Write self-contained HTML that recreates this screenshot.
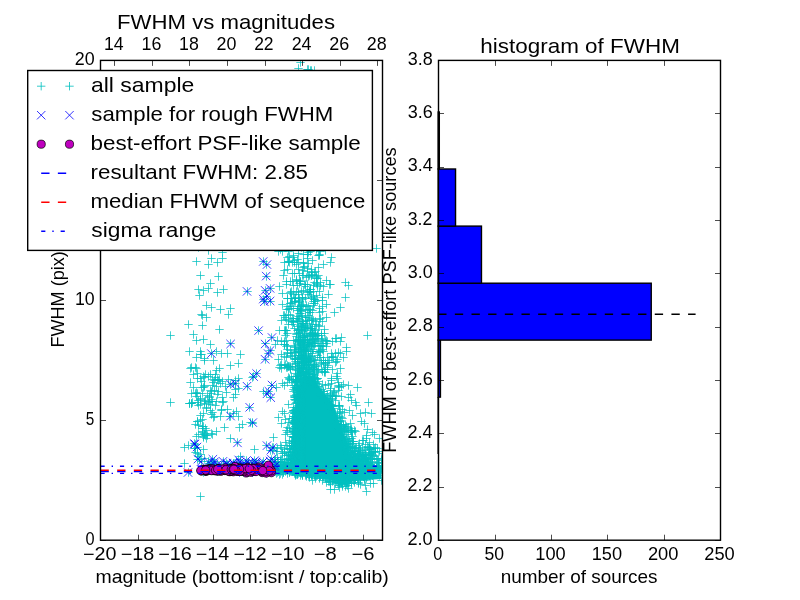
<!DOCTYPE html>
<html><head><meta charset="utf-8"><title>FWHM vs magnitudes</title>
<style>html,body{margin:0;padding:0;background:#fff;width:800px;height:600px;overflow:hidden}</style></head>
<body>
<svg width="800" height="600" viewBox="0 0 800 600" style="position:absolute;left:0;top:0;font-family:'Liberation Sans',sans-serif">
<rect width="800" height="600" fill="#fff"/>
<defs><clipPath id="c1"><rect x="100.5" y="60.4" width="282" height="479.8"/></clipPath></defs>
<g clip-path="url(#c1)">
<path d="M297 475V392L304 376H313L321 390L333 404L341 426L348 446L352 462L381 466V479L352 481L336 481L326 476Z" fill="#00bfbf"/>
<path d="M356.3 449.5h8.4m-4.2 -4.2v8.4M350.3 451.5h8.4m-4.2 -4.2v8.4M340.3 412.5h8.4m-4.2 -4.2v8.4M295.3 449.5h8.4m-4.2 -4.2v8.4M354.3 464.5h8.4m-4.2 -4.2v8.4M346.3 460.5h8.4m-4.2 -4.2v8.4M295.3 438.5h8.4m-4.2 -4.2v8.4M320.3 371.5h8.4m-4.2 -4.2v8.4M297.3 393.5h8.4m-4.2 -4.2v8.4M291.3 446.5h8.4m-4.2 -4.2v8.4M295.3 399.5h8.4m-4.2 -4.2v8.4M353.3 476.5h8.4m-4.2 -4.2v8.4M297.3 461.5h8.4m-4.2 -4.2v8.4M311.3 321.5h8.4m-4.2 -4.2v8.4M288.3 418.5h8.4m-4.2 -4.2v8.4M293.3 469.5h8.4m-4.2 -4.2v8.4M296.3 468.5h8.4m-4.2 -4.2v8.4M294.3 451.5h8.4m-4.2 -4.2v8.4M338.3 409.5h8.4m-4.2 -4.2v8.4M315.3 392.5h8.4m-4.2 -4.2v8.4M316.3 472.5h8.4m-4.2 -4.2v8.4M341.3 451.5h8.4m-4.2 -4.2v8.4M323.3 402.5h8.4m-4.2 -4.2v8.4M296.3 386.5h8.4m-4.2 -4.2v8.4M292.3 448.5h8.4m-4.2 -4.2v8.4M294.3 292.5h8.4m-4.2 -4.2v8.4M292.3 426.5h8.4m-4.2 -4.2v8.4M297.3 399.5h8.4m-4.2 -4.2v8.4M290.3 458.5h8.4m-4.2 -4.2v8.4M349.3 466.5h8.4m-4.2 -4.2v8.4M305.3 473.5h8.4m-4.2 -4.2v8.4M292.3 464.5h8.4m-4.2 -4.2v8.4M348.3 446.5h8.4m-4.2 -4.2v8.4M295.3 456.5h8.4m-4.2 -4.2v8.4M297.3 458.5h8.4m-4.2 -4.2v8.4M373.3 448.5h8.4m-4.2 -4.2v8.4M296.3 448.5h8.4m-4.2 -4.2v8.4M337.3 439.5h8.4m-4.2 -4.2v8.4M319.3 360.5h8.4m-4.2 -4.2v8.4M294.3 428.5h8.4m-4.2 -4.2v8.4M299.3 262.5h8.4m-4.2 -4.2v8.4M298.3 475.5h8.4m-4.2 -4.2v8.4M327.3 399.5h8.4m-4.2 -4.2v8.4M297.3 429.5h8.4m-4.2 -4.2v8.4M328.3 395.5h8.4m-4.2 -4.2v8.4M341.3 424.5h8.4m-4.2 -4.2v8.4M297.3 437.5h8.4m-4.2 -4.2v8.4M294.3 455.5h8.4m-4.2 -4.2v8.4M341.3 454.5h8.4m-4.2 -4.2v8.4M296.3 453.5h8.4m-4.2 -4.2v8.4M295.3 433.5h8.4m-4.2 -4.2v8.4M295.3 420.5h8.4m-4.2 -4.2v8.4M293.3 396.5h8.4m-4.2 -4.2v8.4M309.3 369.5h8.4m-4.2 -4.2v8.4M309.3 378.5h8.4m-4.2 -4.2v8.4M294.3 410.5h8.4m-4.2 -4.2v8.4M297.3 391.5h8.4m-4.2 -4.2v8.4M295.3 435.5h8.4m-4.2 -4.2v8.4M353.3 463.5h8.4m-4.2 -4.2v8.4M354.3 456.5h8.4m-4.2 -4.2v8.4M372.3 458.5h8.4m-4.2 -4.2v8.4M293.3 341.5h8.4m-4.2 -4.2v8.4M289.3 451.5h8.4m-4.2 -4.2v8.4M352.3 405.5h8.4m-4.2 -4.2v8.4M292.3 421.5h8.4m-4.2 -4.2v8.4M298.3 471.5h8.4m-4.2 -4.2v8.4M294.3 452.5h8.4m-4.2 -4.2v8.4M360.3 457.5h8.4m-4.2 -4.2v8.4M297.3 451.5h8.4m-4.2 -4.2v8.4M341.3 430.5h8.4m-4.2 -4.2v8.4M294.3 463.5h8.4m-4.2 -4.2v8.4M350.3 451.5h8.4m-4.2 -4.2v8.4M296.3 472.5h8.4m-4.2 -4.2v8.4M296.3 462.5h8.4m-4.2 -4.2v8.4M353.3 460.5h8.4m-4.2 -4.2v8.4M349.3 458.5h8.4m-4.2 -4.2v8.4M368.3 462.5h8.4m-4.2 -4.2v8.4M314.3 473.5h8.4m-4.2 -4.2v8.4M376.3 469.5h8.4m-4.2 -4.2v8.4M290.3 437.5h8.4m-4.2 -4.2v8.4M296.3 429.5h8.4m-4.2 -4.2v8.4M295.3 432.5h8.4m-4.2 -4.2v8.4M293.3 464.5h8.4m-4.2 -4.2v8.4M295.3 446.5h8.4m-4.2 -4.2v8.4M291.3 359.5h8.4m-4.2 -4.2v8.4M303.3 361.5h8.4m-4.2 -4.2v8.4M295.3 463.5h8.4m-4.2 -4.2v8.4M292.3 455.5h8.4m-4.2 -4.2v8.4M291.3 461.5h8.4m-4.2 -4.2v8.4M320.3 369.5h8.4m-4.2 -4.2v8.4M295.3 417.5h8.4m-4.2 -4.2v8.4M291.3 382.5h8.4m-4.2 -4.2v8.4M296.3 411.5h8.4m-4.2 -4.2v8.4M360.3 458.5h8.4m-4.2 -4.2v8.4M325.3 481.5h8.4m-4.2 -4.2v8.4M289.3 466.5h8.4m-4.2 -4.2v8.4M297.3 441.5h8.4m-4.2 -4.2v8.4M293.3 474.5h8.4m-4.2 -4.2v8.4M324.3 405.5h8.4m-4.2 -4.2v8.4M294.3 339.5h8.4m-4.2 -4.2v8.4M352.3 463.5h8.4m-4.2 -4.2v8.4M292.3 455.5h8.4m-4.2 -4.2v8.4M295.3 421.5h8.4m-4.2 -4.2v8.4M295.3 439.5h8.4m-4.2 -4.2v8.4M316.3 394.5h8.4m-4.2 -4.2v8.4M295.3 445.5h8.4m-4.2 -4.2v8.4M376.3 471.5h8.4m-4.2 -4.2v8.4M297.3 450.5h8.4m-4.2 -4.2v8.4M351.3 478.5h8.4m-4.2 -4.2v8.4M293.3 379.5h8.4m-4.2 -4.2v8.4M294.3 376.5h8.4m-4.2 -4.2v8.4M296.3 469.5h8.4m-4.2 -4.2v8.4M296.3 453.5h8.4m-4.2 -4.2v8.4M332.3 421.5h8.4m-4.2 -4.2v8.4M297.3 443.5h8.4m-4.2 -4.2v8.4M378.3 466.5h8.4m-4.2 -4.2v8.4M291.3 441.5h8.4m-4.2 -4.2v8.4M358.3 467.5h8.4m-4.2 -4.2v8.4M319.3 474.5h8.4m-4.2 -4.2v8.4M313.3 372.5h8.4m-4.2 -4.2v8.4M378.3 465.5h8.4m-4.2 -4.2v8.4M359.3 476.5h8.4m-4.2 -4.2v8.4M298.3 470.5h8.4m-4.2 -4.2v8.4M291.3 297.5h8.4m-4.2 -4.2v8.4M296.3 467.5h8.4m-4.2 -4.2v8.4M291.3 433.5h8.4m-4.2 -4.2v8.4M305.3 474.5h8.4m-4.2 -4.2v8.4M294.3 433.5h8.4m-4.2 -4.2v8.4M300.3 471.5h8.4m-4.2 -4.2v8.4M352.3 459.5h8.4m-4.2 -4.2v8.4M351.3 454.5h8.4m-4.2 -4.2v8.4M302.3 325.5h8.4m-4.2 -4.2v8.4M292.3 453.5h8.4m-4.2 -4.2v8.4M303.3 254.5h8.4m-4.2 -4.2v8.4M296.3 452.5h8.4m-4.2 -4.2v8.4M294.3 430.5h8.4m-4.2 -4.2v8.4M317.3 389.5h8.4m-4.2 -4.2v8.4M351.3 402.5h8.4m-4.2 -4.2v8.4M297.3 452.5h8.4m-4.2 -4.2v8.4M291.3 379.5h8.4m-4.2 -4.2v8.4M337.3 439.5h8.4m-4.2 -4.2v8.4M297.3 358.5h8.4m-4.2 -4.2v8.4M293.3 468.5h8.4m-4.2 -4.2v8.4M306.3 328.5h8.4m-4.2 -4.2v8.4M293.3 474.5h8.4m-4.2 -4.2v8.4M325.3 401.5h8.4m-4.2 -4.2v8.4M289.3 416.5h8.4m-4.2 -4.2v8.4M311.3 473.5h8.4m-4.2 -4.2v8.4M363.3 464.5h8.4m-4.2 -4.2v8.4M296.3 455.5h8.4m-4.2 -4.2v8.4M295.3 366.5h8.4m-4.2 -4.2v8.4M296.3 452.5h8.4m-4.2 -4.2v8.4M359.3 465.5h8.4m-4.2 -4.2v8.4M291.3 373.5h8.4m-4.2 -4.2v8.4M295.3 442.5h8.4m-4.2 -4.2v8.4M365.3 447.5h8.4m-4.2 -4.2v8.4M321.3 372.5h8.4m-4.2 -4.2v8.4M296.3 457.5h8.4m-4.2 -4.2v8.4M311.3 475.5h8.4m-4.2 -4.2v8.4M293.3 460.5h8.4m-4.2 -4.2v8.4M328.3 406.5h8.4m-4.2 -4.2v8.4M348.3 459.5h8.4m-4.2 -4.2v8.4M295.3 441.5h8.4m-4.2 -4.2v8.4M296.3 440.5h8.4m-4.2 -4.2v8.4M342.3 432.5h8.4m-4.2 -4.2v8.4M295.3 469.5h8.4m-4.2 -4.2v8.4M295.3 446.5h8.4m-4.2 -4.2v8.4M302.3 374.5h8.4m-4.2 -4.2v8.4M340.3 431.5h8.4m-4.2 -4.2v8.4M370.3 434.5h8.4m-4.2 -4.2v8.4M296.3 460.5h8.4m-4.2 -4.2v8.4M365.3 475.5h8.4m-4.2 -4.2v8.4M293.3 471.5h8.4m-4.2 -4.2v8.4M328.3 414.5h8.4m-4.2 -4.2v8.4M341.3 447.5h8.4m-4.2 -4.2v8.4M315.3 471.5h8.4m-4.2 -4.2v8.4M297.3 352.5h8.4m-4.2 -4.2v8.4M296.3 426.5h8.4m-4.2 -4.2v8.4M318.3 371.5h8.4m-4.2 -4.2v8.4M297.3 416.5h8.4m-4.2 -4.2v8.4M327.3 378.5h8.4m-4.2 -4.2v8.4M296.3 396.5h8.4m-4.2 -4.2v8.4M294.3 457.5h8.4m-4.2 -4.2v8.4M297.3 463.5h8.4m-4.2 -4.2v8.4M296.3 468.5h8.4m-4.2 -4.2v8.4M354.3 460.5h8.4m-4.2 -4.2v8.4M296.3 445.5h8.4m-4.2 -4.2v8.4M293.3 466.5h8.4m-4.2 -4.2v8.4M296.3 449.5h8.4m-4.2 -4.2v8.4M293.3 466.5h8.4m-4.2 -4.2v8.4M297.3 459.5h8.4m-4.2 -4.2v8.4M291.3 417.5h8.4m-4.2 -4.2v8.4M291.3 442.5h8.4m-4.2 -4.2v8.4M291.3 457.5h8.4m-4.2 -4.2v8.4M292.3 428.5h8.4m-4.2 -4.2v8.4M297.3 363.5h8.4m-4.2 -4.2v8.4M292.3 449.5h8.4m-4.2 -4.2v8.4M294.3 452.5h8.4m-4.2 -4.2v8.4M347.3 428.5h8.4m-4.2 -4.2v8.4M297.3 471.5h8.4m-4.2 -4.2v8.4M294.3 455.5h8.4m-4.2 -4.2v8.4M299.3 372.5h8.4m-4.2 -4.2v8.4M354.3 465.5h8.4m-4.2 -4.2v8.4M289.3 389.5h8.4m-4.2 -4.2v8.4M296.3 455.5h8.4m-4.2 -4.2v8.4M295.3 444.5h8.4m-4.2 -4.2v8.4M346.3 462.5h8.4m-4.2 -4.2v8.4M297.3 440.5h8.4m-4.2 -4.2v8.4M296.3 465.5h8.4m-4.2 -4.2v8.4M301.3 329.5h8.4m-4.2 -4.2v8.4M296.3 466.5h8.4m-4.2 -4.2v8.4M292.3 429.5h8.4m-4.2 -4.2v8.4M290.3 436.5h8.4m-4.2 -4.2v8.4M334.3 352.5h8.4m-4.2 -4.2v8.4M289.3 456.5h8.4m-4.2 -4.2v8.4M293.3 411.5h8.4m-4.2 -4.2v8.4M293.3 385.5h8.4m-4.2 -4.2v8.4M301.3 361.5h8.4m-4.2 -4.2v8.4M327.3 405.5h8.4m-4.2 -4.2v8.4M316.3 475.5h8.4m-4.2 -4.2v8.4M289.3 436.5h8.4m-4.2 -4.2v8.4M297.3 467.5h8.4m-4.2 -4.2v8.4M297.3 306.5h8.4m-4.2 -4.2v8.4M310.3 366.5h8.4m-4.2 -4.2v8.4M296.3 451.5h8.4m-4.2 -4.2v8.4M327.3 476.5h8.4m-4.2 -4.2v8.4M326.3 393.5h8.4m-4.2 -4.2v8.4M378.3 453.5h8.4m-4.2 -4.2v8.4M297.3 460.5h8.4m-4.2 -4.2v8.4M294.3 451.5h8.4m-4.2 -4.2v8.4M368.3 459.5h8.4m-4.2 -4.2v8.4M316.3 390.5h8.4m-4.2 -4.2v8.4M307.3 474.5h8.4m-4.2 -4.2v8.4M339.3 426.5h8.4m-4.2 -4.2v8.4M362.3 458.5h8.4m-4.2 -4.2v8.4M340.3 444.5h8.4m-4.2 -4.2v8.4M290.3 423.5h8.4m-4.2 -4.2v8.4M320.3 475.5h8.4m-4.2 -4.2v8.4M296.3 444.5h8.4m-4.2 -4.2v8.4M358.3 447.5h8.4m-4.2 -4.2v8.4M295.3 371.5h8.4m-4.2 -4.2v8.4M303.3 473.5h8.4m-4.2 -4.2v8.4M296.3 475.5h8.4m-4.2 -4.2v8.4M293.3 444.5h8.4m-4.2 -4.2v8.4M323.3 472.5h8.4m-4.2 -4.2v8.4M296.3 425.5h8.4m-4.2 -4.2v8.4M302.3 362.5h8.4m-4.2 -4.2v8.4M292.3 458.5h8.4m-4.2 -4.2v8.4M319.3 471.5h8.4m-4.2 -4.2v8.4M294.3 443.5h8.4m-4.2 -4.2v8.4M299.3 379.5h8.4m-4.2 -4.2v8.4M372.3 467.5h8.4m-4.2 -4.2v8.4M293.3 444.5h8.4m-4.2 -4.2v8.4M293.3 472.5h8.4m-4.2 -4.2v8.4M339.3 425.5h8.4m-4.2 -4.2v8.4M296.3 450.5h8.4m-4.2 -4.2v8.4M295.3 469.5h8.4m-4.2 -4.2v8.4M315.3 392.5h8.4m-4.2 -4.2v8.4M297.3 457.5h8.4m-4.2 -4.2v8.4M332.3 395.5h8.4m-4.2 -4.2v8.4M369.3 467.5h8.4m-4.2 -4.2v8.4M297.3 468.5h8.4m-4.2 -4.2v8.4M292.3 422.5h8.4m-4.2 -4.2v8.4M291.3 472.5h8.4m-4.2 -4.2v8.4M291.3 456.5h8.4m-4.2 -4.2v8.4M294.3 460.5h8.4m-4.2 -4.2v8.4M307.3 472.5h8.4m-4.2 -4.2v8.4M290.3 457.5h8.4m-4.2 -4.2v8.4M338.3 436.5h8.4m-4.2 -4.2v8.4M295.3 435.5h8.4m-4.2 -4.2v8.4M366.3 475.5h8.4m-4.2 -4.2v8.4M291.3 445.5h8.4m-4.2 -4.2v8.4M293.3 452.5h8.4m-4.2 -4.2v8.4M297.3 467.5h8.4m-4.2 -4.2v8.4M345.3 462.5h8.4m-4.2 -4.2v8.4M361.3 485.5h8.4m-4.2 -4.2v8.4M289.3 411.5h8.4m-4.2 -4.2v8.4M370.3 467.5h8.4m-4.2 -4.2v8.4M324.3 472.5h8.4m-4.2 -4.2v8.4M290.3 461.5h8.4m-4.2 -4.2v8.4M290.3 467.5h8.4m-4.2 -4.2v8.4M358.3 461.5h8.4m-4.2 -4.2v8.4M307.3 471.5h8.4m-4.2 -4.2v8.4M322.3 397.5h8.4m-4.2 -4.2v8.4M349.3 480.5h8.4m-4.2 -4.2v8.4M361.3 464.5h8.4m-4.2 -4.2v8.4M291.3 440.5h8.4m-4.2 -4.2v8.4M293.3 420.5h8.4m-4.2 -4.2v8.4M308.3 381.5h8.4m-4.2 -4.2v8.4M302.3 471.5h8.4m-4.2 -4.2v8.4M324.3 401.5h8.4m-4.2 -4.2v8.4M347.3 431.5h8.4m-4.2 -4.2v8.4M303.3 271.5h8.4m-4.2 -4.2v8.4M294.3 410.5h8.4m-4.2 -4.2v8.4M309.3 360.5h8.4m-4.2 -4.2v8.4M290.3 410.5h8.4m-4.2 -4.2v8.4M294.3 339.5h8.4m-4.2 -4.2v8.4M297.3 449.5h8.4m-4.2 -4.2v8.4M355.3 443.5h8.4m-4.2 -4.2v8.4M295.3 460.5h8.4m-4.2 -4.2v8.4M352.3 447.5h8.4m-4.2 -4.2v8.4M328.3 406.5h8.4m-4.2 -4.2v8.4M364.3 447.5h8.4m-4.2 -4.2v8.4M331.3 418.5h8.4m-4.2 -4.2v8.4M296.3 310.5h8.4m-4.2 -4.2v8.4M295.3 428.5h8.4m-4.2 -4.2v8.4M294.3 455.5h8.4m-4.2 -4.2v8.4M290.3 421.5h8.4m-4.2 -4.2v8.4M293.3 472.5h8.4m-4.2 -4.2v8.4M324.3 384.5h8.4m-4.2 -4.2v8.4M368.3 458.5h8.4m-4.2 -4.2v8.4M311.3 473.5h8.4m-4.2 -4.2v8.4M371.3 447.5h8.4m-4.2 -4.2v8.4M305.3 477.5h8.4m-4.2 -4.2v8.4M291.3 445.5h8.4m-4.2 -4.2v8.4M291.3 438.5h8.4m-4.2 -4.2v8.4M355.3 459.5h8.4m-4.2 -4.2v8.4M292.3 468.5h8.4m-4.2 -4.2v8.4M297.3 462.5h8.4m-4.2 -4.2v8.4M348.3 464.5h8.4m-4.2 -4.2v8.4M295.3 438.5h8.4m-4.2 -4.2v8.4M295.3 463.5h8.4m-4.2 -4.2v8.4M295.3 460.5h8.4m-4.2 -4.2v8.4M304.3 380.5h8.4m-4.2 -4.2v8.4M290.3 464.5h8.4m-4.2 -4.2v8.4M301.3 382.5h8.4m-4.2 -4.2v8.4M291.3 358.5h8.4m-4.2 -4.2v8.4M294.3 418.5h8.4m-4.2 -4.2v8.4M292.3 464.5h8.4m-4.2 -4.2v8.4M319.3 391.5h8.4m-4.2 -4.2v8.4M293.3 427.5h8.4m-4.2 -4.2v8.4M310.3 471.5h8.4m-4.2 -4.2v8.4M339.3 443.5h8.4m-4.2 -4.2v8.4M305.3 475.5h8.4m-4.2 -4.2v8.4M337.3 417.5h8.4m-4.2 -4.2v8.4M289.3 340.5h8.4m-4.2 -4.2v8.4M296.3 440.5h8.4m-4.2 -4.2v8.4M295.3 471.5h8.4m-4.2 -4.2v8.4M294.3 442.5h8.4m-4.2 -4.2v8.4M293.3 472.5h8.4m-4.2 -4.2v8.4M337.3 477.5h8.4m-4.2 -4.2v8.4M312.3 295.5h8.4m-4.2 -4.2v8.4M297.3 355.5h8.4m-4.2 -4.2v8.4M291.3 410.5h8.4m-4.2 -4.2v8.4M343.3 461.5h8.4m-4.2 -4.2v8.4M297.3 432.5h8.4m-4.2 -4.2v8.4M294.3 421.5h8.4m-4.2 -4.2v8.4M293.3 443.5h8.4m-4.2 -4.2v8.4M325.3 360.5h8.4m-4.2 -4.2v8.4M300.3 377.5h8.4m-4.2 -4.2v8.4M294.3 453.5h8.4m-4.2 -4.2v8.4M290.3 471.5h8.4m-4.2 -4.2v8.4M308.3 333.5h8.4m-4.2 -4.2v8.4M331.3 421.5h8.4m-4.2 -4.2v8.4M292.3 465.5h8.4m-4.2 -4.2v8.4M333.3 479.5h8.4m-4.2 -4.2v8.4M297.3 429.5h8.4m-4.2 -4.2v8.4M339.3 437.5h8.4m-4.2 -4.2v8.4M291.3 439.5h8.4m-4.2 -4.2v8.4M329.3 408.5h8.4m-4.2 -4.2v8.4M294.3 468.5h8.4m-4.2 -4.2v8.4M350.3 459.5h8.4m-4.2 -4.2v8.4M310.3 470.5h8.4m-4.2 -4.2v8.4M296.3 468.5h8.4m-4.2 -4.2v8.4M304.3 471.5h8.4m-4.2 -4.2v8.4M297.3 372.5h8.4m-4.2 -4.2v8.4M305.3 376.5h8.4m-4.2 -4.2v8.4M307.3 473.5h8.4m-4.2 -4.2v8.4M350.3 456.5h8.4m-4.2 -4.2v8.4M306.3 470.5h8.4m-4.2 -4.2v8.4M292.3 412.5h8.4m-4.2 -4.2v8.4M346.3 446.5h8.4m-4.2 -4.2v8.4M318.3 476.5h8.4m-4.2 -4.2v8.4M312.3 472.5h8.4m-4.2 -4.2v8.4M292.3 427.5h8.4m-4.2 -4.2v8.4M293.3 452.5h8.4m-4.2 -4.2v8.4M308.3 471.5h8.4m-4.2 -4.2v8.4M338.3 431.5h8.4m-4.2 -4.2v8.4M339.3 444.5h8.4m-4.2 -4.2v8.4M307.3 330.5h8.4m-4.2 -4.2v8.4M321.3 474.5h8.4m-4.2 -4.2v8.4M365.3 475.5h8.4m-4.2 -4.2v8.4M293.3 453.5h8.4m-4.2 -4.2v8.4M294.3 434.5h8.4m-4.2 -4.2v8.4M291.3 436.5h8.4m-4.2 -4.2v8.4M292.3 411.5h8.4m-4.2 -4.2v8.4M297.3 463.5h8.4m-4.2 -4.2v8.4M291.3 457.5h8.4m-4.2 -4.2v8.4M328.3 481.5h8.4m-4.2 -4.2v8.4M295.3 398.5h8.4m-4.2 -4.2v8.4M326.3 390.5h8.4m-4.2 -4.2v8.4M368.3 475.5h8.4m-4.2 -4.2v8.4M324.3 472.5h8.4m-4.2 -4.2v8.4M292.3 466.5h8.4m-4.2 -4.2v8.4M292.3 419.5h8.4m-4.2 -4.2v8.4M377.3 469.5h8.4m-4.2 -4.2v8.4M297.3 353.5h8.4m-4.2 -4.2v8.4M294.3 352.5h8.4m-4.2 -4.2v8.4M297.3 426.5h8.4m-4.2 -4.2v8.4M309.3 472.5h8.4m-4.2 -4.2v8.4M291.3 466.5h8.4m-4.2 -4.2v8.4M342.3 476.5h8.4m-4.2 -4.2v8.4M293.3 370.5h8.4m-4.2 -4.2v8.4M297.3 402.5h8.4m-4.2 -4.2v8.4M297.3 455.5h8.4m-4.2 -4.2v8.4M299.3 323.5h8.4m-4.2 -4.2v8.4M326.3 394.5h8.4m-4.2 -4.2v8.4M310.3 474.5h8.4m-4.2 -4.2v8.4M297.3 446.5h8.4m-4.2 -4.2v8.4M297.3 468.5h8.4m-4.2 -4.2v8.4M292.3 445.5h8.4m-4.2 -4.2v8.4M296.3 440.5h8.4m-4.2 -4.2v8.4M348.3 432.5h8.4m-4.2 -4.2v8.4M346.3 394.5h8.4m-4.2 -4.2v8.4M296.3 372.5h8.4m-4.2 -4.2v8.4M310.3 374.5h8.4m-4.2 -4.2v8.4M365.3 449.5h8.4m-4.2 -4.2v8.4M291.3 403.5h8.4m-4.2 -4.2v8.4M344.3 452.5h8.4m-4.2 -4.2v8.4M374.3 467.5h8.4m-4.2 -4.2v8.4M331.3 413.5h8.4m-4.2 -4.2v8.4M297.3 440.5h8.4m-4.2 -4.2v8.4M293.3 472.5h8.4m-4.2 -4.2v8.4M358.3 455.5h8.4m-4.2 -4.2v8.4M333.3 373.5h8.4m-4.2 -4.2v8.4M300.3 471.5h8.4m-4.2 -4.2v8.4M291.3 460.5h8.4m-4.2 -4.2v8.4M344.3 443.5h8.4m-4.2 -4.2v8.4M297.3 462.5h8.4m-4.2 -4.2v8.4M294.3 453.5h8.4m-4.2 -4.2v8.4M375.3 475.5h8.4m-4.2 -4.2v8.4M293.3 444.5h8.4m-4.2 -4.2v8.4M352.3 463.5h8.4m-4.2 -4.2v8.4M297.3 466.5h8.4m-4.2 -4.2v8.4M297.3 434.5h8.4m-4.2 -4.2v8.4M355.3 455.5h8.4m-4.2 -4.2v8.4M297.3 455.5h8.4m-4.2 -4.2v8.4M296.3 455.5h8.4m-4.2 -4.2v8.4M293.3 399.5h8.4m-4.2 -4.2v8.4M298.3 297.5h8.4m-4.2 -4.2v8.4M340.3 428.5h8.4m-4.2 -4.2v8.4M297.3 461.5h8.4m-4.2 -4.2v8.4M299.3 470.5h8.4m-4.2 -4.2v8.4M316.3 357.5h8.4m-4.2 -4.2v8.4M293.3 442.5h8.4m-4.2 -4.2v8.4M293.3 397.5h8.4m-4.2 -4.2v8.4M299.3 346.5h8.4m-4.2 -4.2v8.4M299.3 355.5h8.4m-4.2 -4.2v8.4M293.3 386.5h8.4m-4.2 -4.2v8.4M290.3 413.5h8.4m-4.2 -4.2v8.4M295.3 412.5h8.4m-4.2 -4.2v8.4M295.3 419.5h8.4m-4.2 -4.2v8.4M341.3 455.5h8.4m-4.2 -4.2v8.4M293.3 411.5h8.4m-4.2 -4.2v8.4M339.3 444.5h8.4m-4.2 -4.2v8.4M342.3 447.5h8.4m-4.2 -4.2v8.4M354.3 465.5h8.4m-4.2 -4.2v8.4M293.3 398.5h8.4m-4.2 -4.2v8.4M337.3 424.5h8.4m-4.2 -4.2v8.4M375.3 438.5h8.4m-4.2 -4.2v8.4M294.3 460.5h8.4m-4.2 -4.2v8.4M341.3 456.5h8.4m-4.2 -4.2v8.4M298.3 475.5h8.4m-4.2 -4.2v8.4M295.3 361.5h8.4m-4.2 -4.2v8.4M290.3 437.5h8.4m-4.2 -4.2v8.4M345.3 440.5h8.4m-4.2 -4.2v8.4M294.3 351.5h8.4m-4.2 -4.2v8.4M307.3 471.5h8.4m-4.2 -4.2v8.4M337.3 425.5h8.4m-4.2 -4.2v8.4M300.3 349.5h8.4m-4.2 -4.2v8.4M295.3 411.5h8.4m-4.2 -4.2v8.4M300.3 385.5h8.4m-4.2 -4.2v8.4M295.3 465.5h8.4m-4.2 -4.2v8.4M344.3 385.5h8.4m-4.2 -4.2v8.4M356.3 463.5h8.4m-4.2 -4.2v8.4M294.3 458.5h8.4m-4.2 -4.2v8.4M299.3 378.5h8.4m-4.2 -4.2v8.4M299.3 357.5h8.4m-4.2 -4.2v8.4M317.3 369.5h8.4m-4.2 -4.2v8.4M372.3 466.5h8.4m-4.2 -4.2v8.4M289.3 410.5h8.4m-4.2 -4.2v8.4M297.3 418.5h8.4m-4.2 -4.2v8.4M297.3 460.5h8.4m-4.2 -4.2v8.4M353.3 467.5h8.4m-4.2 -4.2v8.4M292.3 380.5h8.4m-4.2 -4.2v8.4M288.3 470.5h8.4m-4.2 -4.2v8.4M297.3 462.5h8.4m-4.2 -4.2v8.4M347.3 453.5h8.4m-4.2 -4.2v8.4M290.3 433.5h8.4m-4.2 -4.2v8.4M295.3 463.5h8.4m-4.2 -4.2v8.4M363.3 460.5h8.4m-4.2 -4.2v8.4M296.3 398.5h8.4m-4.2 -4.2v8.4M296.3 467.5h8.4m-4.2 -4.2v8.4M292.3 333.5h8.4m-4.2 -4.2v8.4M290.3 352.5h8.4m-4.2 -4.2v8.4M291.3 471.5h8.4m-4.2 -4.2v8.4M292.3 423.5h8.4m-4.2 -4.2v8.4M323.3 400.5h8.4m-4.2 -4.2v8.4M335.3 405.5h8.4m-4.2 -4.2v8.4M326.3 476.5h8.4m-4.2 -4.2v8.4M345.3 447.5h8.4m-4.2 -4.2v8.4M294.3 444.5h8.4m-4.2 -4.2v8.4M338.3 481.5h8.4m-4.2 -4.2v8.4M305.3 370.5h8.4m-4.2 -4.2v8.4M297.3 417.5h8.4m-4.2 -4.2v8.4M305.3 474.5h8.4m-4.2 -4.2v8.4M294.3 466.5h8.4m-4.2 -4.2v8.4M292.3 445.5h8.4m-4.2 -4.2v8.4M297.3 441.5h8.4m-4.2 -4.2v8.4M295.3 394.5h8.4m-4.2 -4.2v8.4M307.3 472.5h8.4m-4.2 -4.2v8.4M314.3 341.5h8.4m-4.2 -4.2v8.4M292.3 432.5h8.4m-4.2 -4.2v8.4M319.3 475.5h8.4m-4.2 -4.2v8.4M293.3 434.5h8.4m-4.2 -4.2v8.4M334.3 386.5h8.4m-4.2 -4.2v8.4M347.3 459.5h8.4m-4.2 -4.2v8.4M294.3 375.5h8.4m-4.2 -4.2v8.4M357.3 458.5h8.4m-4.2 -4.2v8.4M340.3 478.5h8.4m-4.2 -4.2v8.4M291.3 423.5h8.4m-4.2 -4.2v8.4M336.3 431.5h8.4m-4.2 -4.2v8.4M297.3 401.5h8.4m-4.2 -4.2v8.4M295.3 444.5h8.4m-4.2 -4.2v8.4M334.3 479.5h8.4m-4.2 -4.2v8.4M312.3 475.5h8.4m-4.2 -4.2v8.4M326.3 473.5h8.4m-4.2 -4.2v8.4M312.3 471.5h8.4m-4.2 -4.2v8.4M292.3 474.5h8.4m-4.2 -4.2v8.4M291.3 413.5h8.4m-4.2 -4.2v8.4M295.3 467.5h8.4m-4.2 -4.2v8.4M303.3 368.5h8.4m-4.2 -4.2v8.4M296.3 464.5h8.4m-4.2 -4.2v8.4M347.3 430.5h8.4m-4.2 -4.2v8.4M344.3 476.5h8.4m-4.2 -4.2v8.4M291.3 399.5h8.4m-4.2 -4.2v8.4M369.3 469.5h8.4m-4.2 -4.2v8.4M295.3 329.5h8.4m-4.2 -4.2v8.4M296.3 449.5h8.4m-4.2 -4.2v8.4M333.3 478.5h8.4m-4.2 -4.2v8.4M328.3 474.5h8.4m-4.2 -4.2v8.4M290.3 462.5h8.4m-4.2 -4.2v8.4M304.3 356.5h8.4m-4.2 -4.2v8.4M360.3 478.5h8.4m-4.2 -4.2v8.4M293.3 466.5h8.4m-4.2 -4.2v8.4M293.3 467.5h8.4m-4.2 -4.2v8.4M298.3 375.5h8.4m-4.2 -4.2v8.4M291.3 475.5h8.4m-4.2 -4.2v8.4M324.3 473.5h8.4m-4.2 -4.2v8.4M290.3 473.5h8.4m-4.2 -4.2v8.4M377.3 480.5h8.4m-4.2 -4.2v8.4M292.3 463.5h8.4m-4.2 -4.2v8.4M297.3 406.5h8.4m-4.2 -4.2v8.4M311.3 378.5h8.4m-4.2 -4.2v8.4M360.3 459.5h8.4m-4.2 -4.2v8.4M301.3 374.5h8.4m-4.2 -4.2v8.4M293.3 421.5h8.4m-4.2 -4.2v8.4M301.3 470.5h8.4m-4.2 -4.2v8.4M346.3 452.5h8.4m-4.2 -4.2v8.4M294.3 444.5h8.4m-4.2 -4.2v8.4M304.3 470.5h8.4m-4.2 -4.2v8.4M294.3 455.5h8.4m-4.2 -4.2v8.4M292.3 436.5h8.4m-4.2 -4.2v8.4M359.3 461.5h8.4m-4.2 -4.2v8.4M343.3 453.5h8.4m-4.2 -4.2v8.4M332.3 425.5h8.4m-4.2 -4.2v8.4M302.3 471.5h8.4m-4.2 -4.2v8.4M293.3 472.5h8.4m-4.2 -4.2v8.4M357.3 456.5h8.4m-4.2 -4.2v8.4M304.3 471.5h8.4m-4.2 -4.2v8.4M331.3 415.5h8.4m-4.2 -4.2v8.4M297.3 315.5h8.4m-4.2 -4.2v8.4M333.3 423.5h8.4m-4.2 -4.2v8.4M369.3 467.5h8.4m-4.2 -4.2v8.4M349.3 453.5h8.4m-4.2 -4.2v8.4M326.3 474.5h8.4m-4.2 -4.2v8.4M359.3 454.5h8.4m-4.2 -4.2v8.4M293.3 462.5h8.4m-4.2 -4.2v8.4M295.3 459.5h8.4m-4.2 -4.2v8.4M343.3 481.5h8.4m-4.2 -4.2v8.4M296.3 448.5h8.4m-4.2 -4.2v8.4M297.3 457.5h8.4m-4.2 -4.2v8.4M290.3 463.5h8.4m-4.2 -4.2v8.4M295.3 471.5h8.4m-4.2 -4.2v8.4M293.3 442.5h8.4m-4.2 -4.2v8.4M295.3 431.5h8.4m-4.2 -4.2v8.4M305.3 473.5h8.4m-4.2 -4.2v8.4M296.3 471.5h8.4m-4.2 -4.2v8.4M296.3 389.5h8.4m-4.2 -4.2v8.4M345.3 456.5h8.4m-4.2 -4.2v8.4M298.3 474.5h8.4m-4.2 -4.2v8.4M295.3 377.5h8.4m-4.2 -4.2v8.4M296.3 448.5h8.4m-4.2 -4.2v8.4M293.3 466.5h8.4m-4.2 -4.2v8.4M293.3 441.5h8.4m-4.2 -4.2v8.4M310.3 475.5h8.4m-4.2 -4.2v8.4M292.3 437.5h8.4m-4.2 -4.2v8.4M317.3 472.5h8.4m-4.2 -4.2v8.4M340.3 451.5h8.4m-4.2 -4.2v8.4M303.3 473.5h8.4m-4.2 -4.2v8.4M329.3 419.5h8.4m-4.2 -4.2v8.4M365.3 465.5h8.4m-4.2 -4.2v8.4M370.3 448.5h8.4m-4.2 -4.2v8.4M341.3 445.5h8.4m-4.2 -4.2v8.4M348.3 443.5h8.4m-4.2 -4.2v8.4M355.3 463.5h8.4m-4.2 -4.2v8.4M296.3 378.5h8.4m-4.2 -4.2v8.4M289.3 468.5h8.4m-4.2 -4.2v8.4M333.3 412.5h8.4m-4.2 -4.2v8.4M293.3 422.5h8.4m-4.2 -4.2v8.4M377.3 460.5h8.4m-4.2 -4.2v8.4M297.3 465.5h8.4m-4.2 -4.2v8.4M298.3 299.5h8.4m-4.2 -4.2v8.4M347.3 455.5h8.4m-4.2 -4.2v8.4M305.3 377.5h8.4m-4.2 -4.2v8.4M329.3 479.5h8.4m-4.2 -4.2v8.4M294.3 422.5h8.4m-4.2 -4.2v8.4M297.3 311.5h8.4m-4.2 -4.2v8.4M292.3 410.5h8.4m-4.2 -4.2v8.4M311.3 478.5h8.4m-4.2 -4.2v8.4M360.3 450.5h8.4m-4.2 -4.2v8.4M350.3 457.5h8.4m-4.2 -4.2v8.4M290.3 463.5h8.4m-4.2 -4.2v8.4M299.3 347.5h8.4m-4.2 -4.2v8.4M313.3 475.5h8.4m-4.2 -4.2v8.4M301.3 350.5h8.4m-4.2 -4.2v8.4M324.3 472.5h8.4m-4.2 -4.2v8.4M293.3 441.5h8.4m-4.2 -4.2v8.4M289.3 436.5h8.4m-4.2 -4.2v8.4M366.3 459.5h8.4m-4.2 -4.2v8.4M296.3 452.5h8.4m-4.2 -4.2v8.4M294.3 402.5h8.4m-4.2 -4.2v8.4M294.3 433.5h8.4m-4.2 -4.2v8.4M329.3 405.5h8.4m-4.2 -4.2v8.4M310.3 339.5h8.4m-4.2 -4.2v8.4M341.3 446.5h8.4m-4.2 -4.2v8.4M302.3 350.5h8.4m-4.2 -4.2v8.4M365.3 454.5h8.4m-4.2 -4.2v8.4M347.3 456.5h8.4m-4.2 -4.2v8.4M313.3 378.5h8.4m-4.2 -4.2v8.4M299.3 343.5h8.4m-4.2 -4.2v8.4M296.3 447.5h8.4m-4.2 -4.2v8.4M377.3 467.5h8.4m-4.2 -4.2v8.4M295.3 442.5h8.4m-4.2 -4.2v8.4M295.3 428.5h8.4m-4.2 -4.2v8.4M297.3 469.5h8.4m-4.2 -4.2v8.4M323.3 472.5h8.4m-4.2 -4.2v8.4M321.3 385.5h8.4m-4.2 -4.2v8.4M296.3 443.5h8.4m-4.2 -4.2v8.4M295.3 466.5h8.4m-4.2 -4.2v8.4M319.3 477.5h8.4m-4.2 -4.2v8.4M352.3 462.5h8.4m-4.2 -4.2v8.4M322.3 475.5h8.4m-4.2 -4.2v8.4M295.3 462.5h8.4m-4.2 -4.2v8.4M297.3 469.5h8.4m-4.2 -4.2v8.4M294.3 467.5h8.4m-4.2 -4.2v8.4M289.3 429.5h8.4m-4.2 -4.2v8.4M323.3 341.5h8.4m-4.2 -4.2v8.4M296.3 418.5h8.4m-4.2 -4.2v8.4M297.3 458.5h8.4m-4.2 -4.2v8.4M337.3 476.5h8.4m-4.2 -4.2v8.4M292.3 453.5h8.4m-4.2 -4.2v8.4M294.3 463.5h8.4m-4.2 -4.2v8.4M297.3 449.5h8.4m-4.2 -4.2v8.4M295.3 424.5h8.4m-4.2 -4.2v8.4M291.3 437.5h8.4m-4.2 -4.2v8.4M291.3 298.5h8.4m-4.2 -4.2v8.4M373.3 468.5h8.4m-4.2 -4.2v8.4M293.3 424.5h8.4m-4.2 -4.2v8.4M294.3 465.5h8.4m-4.2 -4.2v8.4M291.3 349.5h8.4m-4.2 -4.2v8.4M356.3 455.5h8.4m-4.2 -4.2v8.4M327.3 473.5h8.4m-4.2 -4.2v8.4M364.3 457.5h8.4m-4.2 -4.2v8.4M289.3 423.5h8.4m-4.2 -4.2v8.4M296.3 414.5h8.4m-4.2 -4.2v8.4M341.3 445.5h8.4m-4.2 -4.2v8.4M323.3 476.5h8.4m-4.2 -4.2v8.4M324.3 475.5h8.4m-4.2 -4.2v8.4M289.3 466.5h8.4m-4.2 -4.2v8.4M293.3 467.5h8.4m-4.2 -4.2v8.4M293.3 463.5h8.4m-4.2 -4.2v8.4M351.3 462.5h8.4m-4.2 -4.2v8.4M353.3 466.5h8.4m-4.2 -4.2v8.4M295.3 431.5h8.4m-4.2 -4.2v8.4M353.3 478.5h8.4m-4.2 -4.2v8.4M294.3 442.5h8.4m-4.2 -4.2v8.4M291.3 443.5h8.4m-4.2 -4.2v8.4M295.3 419.5h8.4m-4.2 -4.2v8.4M355.3 464.5h8.4m-4.2 -4.2v8.4M313.3 473.5h8.4m-4.2 -4.2v8.4M297.3 404.5h8.4m-4.2 -4.2v8.4M295.3 434.5h8.4m-4.2 -4.2v8.4M297.3 348.5h8.4m-4.2 -4.2v8.4M368.3 465.5h8.4m-4.2 -4.2v8.4M295.3 441.5h8.4m-4.2 -4.2v8.4M373.3 459.5h8.4m-4.2 -4.2v8.4M297.3 472.5h8.4m-4.2 -4.2v8.4M323.3 472.5h8.4m-4.2 -4.2v8.4M309.3 369.5h8.4m-4.2 -4.2v8.4M297.3 465.5h8.4m-4.2 -4.2v8.4M297.3 466.5h8.4m-4.2 -4.2v8.4M295.3 469.5h8.4m-4.2 -4.2v8.4M310.3 371.5h8.4m-4.2 -4.2v8.4M337.3 429.5h8.4m-4.2 -4.2v8.4M306.3 473.5h8.4m-4.2 -4.2v8.4M343.3 429.5h8.4m-4.2 -4.2v8.4M346.3 452.5h8.4m-4.2 -4.2v8.4M294.3 468.5h8.4m-4.2 -4.2v8.4M290.3 455.5h8.4m-4.2 -4.2v8.4M295.3 433.5h8.4m-4.2 -4.2v8.4M306.3 333.5h8.4m-4.2 -4.2v8.4M303.3 471.5h8.4m-4.2 -4.2v8.4M325.3 476.5h8.4m-4.2 -4.2v8.4M294.3 405.5h8.4m-4.2 -4.2v8.4M342.3 449.5h8.4m-4.2 -4.2v8.4M291.3 419.5h8.4m-4.2 -4.2v8.4M295.3 389.5h8.4m-4.2 -4.2v8.4M337.3 386.5h8.4m-4.2 -4.2v8.4M294.3 443.5h8.4m-4.2 -4.2v8.4M296.3 309.5h8.4m-4.2 -4.2v8.4M294.3 348.5h8.4m-4.2 -4.2v8.4M374.3 463.5h8.4m-4.2 -4.2v8.4M354.3 451.5h8.4m-4.2 -4.2v8.4M326.3 395.5h8.4m-4.2 -4.2v8.4M346.3 459.5h8.4m-4.2 -4.2v8.4M296.3 470.5h8.4m-4.2 -4.2v8.4M321.3 399.5h8.4m-4.2 -4.2v8.4M304.3 353.5h8.4m-4.2 -4.2v8.4M293.3 460.5h8.4m-4.2 -4.2v8.4M295.3 424.5h8.4m-4.2 -4.2v8.4M297.3 472.5h8.4m-4.2 -4.2v8.4M297.3 440.5h8.4m-4.2 -4.2v8.4M296.3 357.5h8.4m-4.2 -4.2v8.4M296.3 411.5h8.4m-4.2 -4.2v8.4M297.3 470.5h8.4m-4.2 -4.2v8.4M350.3 463.5h8.4m-4.2 -4.2v8.4M297.3 443.5h8.4m-4.2 -4.2v8.4M293.3 461.5h8.4m-4.2 -4.2v8.4M297.3 359.5h8.4m-4.2 -4.2v8.4M292.3 417.5h8.4m-4.2 -4.2v8.4M342.3 426.5h8.4m-4.2 -4.2v8.4M375.3 451.5h8.4m-4.2 -4.2v8.4M326.3 408.5h8.4m-4.2 -4.2v8.4M296.3 455.5h8.4m-4.2 -4.2v8.4M324.3 472.5h8.4m-4.2 -4.2v8.4M351.3 458.5h8.4m-4.2 -4.2v8.4M304.3 364.5h8.4m-4.2 -4.2v8.4M299.3 267.5h8.4m-4.2 -4.2v8.4M294.3 440.5h8.4m-4.2 -4.2v8.4M350.3 478.5h8.4m-4.2 -4.2v8.4M297.3 440.5h8.4m-4.2 -4.2v8.4M326.3 388.5h8.4m-4.2 -4.2v8.4M342.3 456.5h8.4m-4.2 -4.2v8.4M297.3 421.5h8.4m-4.2 -4.2v8.4M292.3 379.5h8.4m-4.2 -4.2v8.4M317.3 394.5h8.4m-4.2 -4.2v8.4M295.3 384.5h8.4m-4.2 -4.2v8.4M297.3 469.5h8.4m-4.2 -4.2v8.4M292.3 407.5h8.4m-4.2 -4.2v8.4M295.3 442.5h8.4m-4.2 -4.2v8.4M310.3 377.5h8.4m-4.2 -4.2v8.4M297.3 463.5h8.4m-4.2 -4.2v8.4M347.3 438.5h8.4m-4.2 -4.2v8.4M313.3 378.5h8.4m-4.2 -4.2v8.4M297.3 430.5h8.4m-4.2 -4.2v8.4M297.3 456.5h8.4m-4.2 -4.2v8.4M344.3 454.5h8.4m-4.2 -4.2v8.4M293.3 464.5h8.4m-4.2 -4.2v8.4M358.3 460.5h8.4m-4.2 -4.2v8.4M298.3 470.5h8.4m-4.2 -4.2v8.4M293.3 465.5h8.4m-4.2 -4.2v8.4M290.3 413.5h8.4m-4.2 -4.2v8.4M292.3 426.5h8.4m-4.2 -4.2v8.4M297.3 445.5h8.4m-4.2 -4.2v8.4M301.3 475.5h8.4m-4.2 -4.2v8.4M340.3 431.5h8.4m-4.2 -4.2v8.4M294.3 473.5h8.4m-4.2 -4.2v8.4M308.3 367.5h8.4m-4.2 -4.2v8.4M292.3 465.5h8.4m-4.2 -4.2v8.4M300.3 344.5h8.4m-4.2 -4.2v8.4M319.3 471.5h8.4m-4.2 -4.2v8.4M291.3 473.5h8.4m-4.2 -4.2v8.4M336.3 476.5h8.4m-4.2 -4.2v8.4M295.3 432.5h8.4m-4.2 -4.2v8.4M361.3 455.5h8.4m-4.2 -4.2v8.4M296.3 460.5h8.4m-4.2 -4.2v8.4M295.3 427.5h8.4m-4.2 -4.2v8.4M297.3 458.5h8.4m-4.2 -4.2v8.4M292.3 471.5h8.4m-4.2 -4.2v8.4M369.3 455.5h8.4m-4.2 -4.2v8.4M290.3 430.5h8.4m-4.2 -4.2v8.4M292.3 448.5h8.4m-4.2 -4.2v8.4M297.3 466.5h8.4m-4.2 -4.2v8.4M351.3 447.5h8.4m-4.2 -4.2v8.4M294.3 453.5h8.4m-4.2 -4.2v8.4M321.3 398.5h8.4m-4.2 -4.2v8.4M291.3 470.5h8.4m-4.2 -4.2v8.4M343.3 457.5h8.4m-4.2 -4.2v8.4M348.3 436.5h8.4m-4.2 -4.2v8.4M315.3 386.5h8.4m-4.2 -4.2v8.4M344.3 458.5h8.4m-4.2 -4.2v8.4M292.3 437.5h8.4m-4.2 -4.2v8.4M301.3 472.5h8.4m-4.2 -4.2v8.4M293.3 463.5h8.4m-4.2 -4.2v8.4M304.3 374.5h8.4m-4.2 -4.2v8.4M309.3 367.5h8.4m-4.2 -4.2v8.4M291.3 426.5h8.4m-4.2 -4.2v8.4M300.3 471.5h8.4m-4.2 -4.2v8.4M295.3 452.5h8.4m-4.2 -4.2v8.4M314.3 389.5h8.4m-4.2 -4.2v8.4M353.3 455.5h8.4m-4.2 -4.2v8.4M294.3 446.5h8.4m-4.2 -4.2v8.4M295.3 469.5h8.4m-4.2 -4.2v8.4M344.3 456.5h8.4m-4.2 -4.2v8.4M375.3 468.5h8.4m-4.2 -4.2v8.4M294.3 465.5h8.4m-4.2 -4.2v8.4M292.3 455.5h8.4m-4.2 -4.2v8.4M288.3 455.5h8.4m-4.2 -4.2v8.4M295.3 458.5h8.4m-4.2 -4.2v8.4M297.3 448.5h8.4m-4.2 -4.2v8.4M293.3 387.5h8.4m-4.2 -4.2v8.4M295.3 298.5h8.4m-4.2 -4.2v8.4M300.3 471.5h8.4m-4.2 -4.2v8.4M313.3 470.5h8.4m-4.2 -4.2v8.4M366.3 454.5h8.4m-4.2 -4.2v8.4M294.3 402.5h8.4m-4.2 -4.2v8.4M291.3 381.5h8.4m-4.2 -4.2v8.4M293.3 447.5h8.4m-4.2 -4.2v8.4M290.3 449.5h8.4m-4.2 -4.2v8.4M328.3 479.5h8.4m-4.2 -4.2v8.4M289.3 407.5h8.4m-4.2 -4.2v8.4M350.3 462.5h8.4m-4.2 -4.2v8.4M292.3 442.5h8.4m-4.2 -4.2v8.4M331.3 479.5h8.4m-4.2 -4.2v8.4M346.3 443.5h8.4m-4.2 -4.2v8.4M293.3 465.5h8.4m-4.2 -4.2v8.4M296.3 471.5h8.4m-4.2 -4.2v8.4M346.3 478.5h8.4m-4.2 -4.2v8.4M366.3 483.5h8.4m-4.2 -4.2v8.4M293.3 424.5h8.4m-4.2 -4.2v8.4M331.3 424.5h8.4m-4.2 -4.2v8.4M296.3 379.5h8.4m-4.2 -4.2v8.4M351.3 450.5h8.4m-4.2 -4.2v8.4M358.3 456.5h8.4m-4.2 -4.2v8.4M291.3 464.5h8.4m-4.2 -4.2v8.4M294.3 459.5h8.4m-4.2 -4.2v8.4M295.3 436.5h8.4m-4.2 -4.2v8.4M352.3 461.5h8.4m-4.2 -4.2v8.4M297.3 423.5h8.4m-4.2 -4.2v8.4M338.3 418.5h8.4m-4.2 -4.2v8.4M308.3 374.5h8.4m-4.2 -4.2v8.4M291.3 461.5h8.4m-4.2 -4.2v8.4M348.3 461.5h8.4m-4.2 -4.2v8.4M290.3 421.5h8.4m-4.2 -4.2v8.4M297.3 460.5h8.4m-4.2 -4.2v8.4M333.3 417.5h8.4m-4.2 -4.2v8.4M367.3 466.5h8.4m-4.2 -4.2v8.4M296.3 434.5h8.4m-4.2 -4.2v8.4M299.3 263.5h8.4m-4.2 -4.2v8.4M293.3 467.5h8.4m-4.2 -4.2v8.4M293.3 402.5h8.4m-4.2 -4.2v8.4M297.3 400.5h8.4m-4.2 -4.2v8.4M292.3 460.5h8.4m-4.2 -4.2v8.4M291.3 473.5h8.4m-4.2 -4.2v8.4M296.3 426.5h8.4m-4.2 -4.2v8.4M292.3 448.5h8.4m-4.2 -4.2v8.4M362.3 478.5h8.4m-4.2 -4.2v8.4M291.3 470.5h8.4m-4.2 -4.2v8.4M364.3 463.5h8.4m-4.2 -4.2v8.4M339.3 424.5h8.4m-4.2 -4.2v8.4M341.3 446.5h8.4m-4.2 -4.2v8.4M349.3 463.5h8.4m-4.2 -4.2v8.4M297.3 423.5h8.4m-4.2 -4.2v8.4M291.3 471.5h8.4m-4.2 -4.2v8.4M353.3 459.5h8.4m-4.2 -4.2v8.4M347.3 461.5h8.4m-4.2 -4.2v8.4M292.3 381.5h8.4m-4.2 -4.2v8.4M348.3 454.5h8.4m-4.2 -4.2v8.4M362.3 465.5h8.4m-4.2 -4.2v8.4M321.3 472.5h8.4m-4.2 -4.2v8.4M314.3 381.5h8.4m-4.2 -4.2v8.4M290.3 442.5h8.4m-4.2 -4.2v8.4M355.3 465.5h8.4m-4.2 -4.2v8.4M305.3 312.5h8.4m-4.2 -4.2v8.4M306.3 371.5h8.4m-4.2 -4.2v8.4M300.3 330.5h8.4m-4.2 -4.2v8.4M290.3 428.5h8.4m-4.2 -4.2v8.4M295.3 452.5h8.4m-4.2 -4.2v8.4M294.3 439.5h8.4m-4.2 -4.2v8.4M349.3 460.5h8.4m-4.2 -4.2v8.4M294.3 471.5h8.4m-4.2 -4.2v8.4M297.3 463.5h8.4m-4.2 -4.2v8.4M367.3 458.5h8.4m-4.2 -4.2v8.4M343.3 459.5h8.4m-4.2 -4.2v8.4M297.3 431.5h8.4m-4.2 -4.2v8.4M295.3 462.5h8.4m-4.2 -4.2v8.4M294.3 465.5h8.4m-4.2 -4.2v8.4M289.3 469.5h8.4m-4.2 -4.2v8.4M304.3 362.5h8.4m-4.2 -4.2v8.4M311.3 472.5h8.4m-4.2 -4.2v8.4M292.3 463.5h8.4m-4.2 -4.2v8.4M288.3 441.5h8.4m-4.2 -4.2v8.4M293.3 310.5h8.4m-4.2 -4.2v8.4M297.3 399.5h8.4m-4.2 -4.2v8.4M289.3 379.5h8.4m-4.2 -4.2v8.4M365.3 442.5h8.4m-4.2 -4.2v8.4M323.3 357.5h8.4m-4.2 -4.2v8.4M297.3 454.5h8.4m-4.2 -4.2v8.4M352.3 464.5h8.4m-4.2 -4.2v8.4M296.3 456.5h8.4m-4.2 -4.2v8.4M298.3 336.5h8.4m-4.2 -4.2v8.4M294.3 462.5h8.4m-4.2 -4.2v8.4M294.3 407.5h8.4m-4.2 -4.2v8.4M315.3 391.5h8.4m-4.2 -4.2v8.4M296.3 446.5h8.4m-4.2 -4.2v8.4M294.3 457.5h8.4m-4.2 -4.2v8.4M291.3 420.5h8.4m-4.2 -4.2v8.4M296.3 391.5h8.4m-4.2 -4.2v8.4M290.3 396.5h8.4m-4.2 -4.2v8.4M290.3 441.5h8.4m-4.2 -4.2v8.4M297.3 409.5h8.4m-4.2 -4.2v8.4M293.3 431.5h8.4m-4.2 -4.2v8.4M290.3 328.5h8.4m-4.2 -4.2v8.4M292.3 426.5h8.4m-4.2 -4.2v8.4M346.3 430.5h8.4m-4.2 -4.2v8.4M297.3 382.5h8.4m-4.2 -4.2v8.4M335.3 435.5h8.4m-4.2 -4.2v8.4M359.3 459.5h8.4m-4.2 -4.2v8.4M307.3 475.5h8.4m-4.2 -4.2v8.4M304.3 361.5h8.4m-4.2 -4.2v8.4M354.3 483.5h8.4m-4.2 -4.2v8.4M292.3 376.5h8.4m-4.2 -4.2v8.4M293.3 387.5h8.4m-4.2 -4.2v8.4M320.3 470.5h8.4m-4.2 -4.2v8.4M344.3 434.5h8.4m-4.2 -4.2v8.4M299.3 378.5h8.4m-4.2 -4.2v8.4M293.3 374.5h8.4m-4.2 -4.2v8.4M302.3 471.5h8.4m-4.2 -4.2v8.4M316.3 475.5h8.4m-4.2 -4.2v8.4M290.3 460.5h8.4m-4.2 -4.2v8.4M323.3 474.5h8.4m-4.2 -4.2v8.4M323.3 473.5h8.4m-4.2 -4.2v8.4M297.3 471.5h8.4m-4.2 -4.2v8.4M332.3 481.5h8.4m-4.2 -4.2v8.4M290.3 458.5h8.4m-4.2 -4.2v8.4M289.3 431.5h8.4m-4.2 -4.2v8.4M291.3 469.5h8.4m-4.2 -4.2v8.4M294.3 443.5h8.4m-4.2 -4.2v8.4M293.3 447.5h8.4m-4.2 -4.2v8.4M368.3 461.5h8.4m-4.2 -4.2v8.4M296.3 454.5h8.4m-4.2 -4.2v8.4M354.3 482.5h8.4m-4.2 -4.2v8.4M288.3 436.5h8.4m-4.2 -4.2v8.4M297.3 466.5h8.4m-4.2 -4.2v8.4M305.3 357.5h8.4m-4.2 -4.2v8.4M309.3 349.5h8.4m-4.2 -4.2v8.4M327.3 405.5h8.4m-4.2 -4.2v8.4M341.3 442.5h8.4m-4.2 -4.2v8.4M311.3 473.5h8.4m-4.2 -4.2v8.4M290.3 437.5h8.4m-4.2 -4.2v8.4M374.3 468.5h8.4m-4.2 -4.2v8.4M356.3 465.5h8.4m-4.2 -4.2v8.4M295.3 332.5h8.4m-4.2 -4.2v8.4M291.3 456.5h8.4m-4.2 -4.2v8.4M324.3 481.5h8.4m-4.2 -4.2v8.4M308.3 473.5h8.4m-4.2 -4.2v8.4M289.3 428.5h8.4m-4.2 -4.2v8.4M295.3 427.5h8.4m-4.2 -4.2v8.4M292.3 336.5h8.4m-4.2 -4.2v8.4M292.3 441.5h8.4m-4.2 -4.2v8.4M363.3 466.5h8.4m-4.2 -4.2v8.4M350.3 480.5h8.4m-4.2 -4.2v8.4M291.3 454.5h8.4m-4.2 -4.2v8.4M349.3 463.5h8.4m-4.2 -4.2v8.4M307.3 381.5h8.4m-4.2 -4.2v8.4M296.3 459.5h8.4m-4.2 -4.2v8.4M294.3 448.5h8.4m-4.2 -4.2v8.4M294.3 461.5h8.4m-4.2 -4.2v8.4M336.3 437.5h8.4m-4.2 -4.2v8.4M307.3 369.5h8.4m-4.2 -4.2v8.4M289.3 434.5h8.4m-4.2 -4.2v8.4M315.3 477.5h8.4m-4.2 -4.2v8.4M295.3 424.5h8.4m-4.2 -4.2v8.4M295.3 426.5h8.4m-4.2 -4.2v8.4M300.3 383.5h8.4m-4.2 -4.2v8.4M295.3 446.5h8.4m-4.2 -4.2v8.4M295.3 472.5h8.4m-4.2 -4.2v8.4M294.3 456.5h8.4m-4.2 -4.2v8.4M292.3 412.5h8.4m-4.2 -4.2v8.4M302.3 372.5h8.4m-4.2 -4.2v8.4M290.3 385.5h8.4m-4.2 -4.2v8.4M295.3 342.5h8.4m-4.2 -4.2v8.4M347.3 458.5h8.4m-4.2 -4.2v8.4M290.3 387.5h8.4m-4.2 -4.2v8.4M336.3 420.5h8.4m-4.2 -4.2v8.4M296.3 435.5h8.4m-4.2 -4.2v8.4M373.3 474.5h8.4m-4.2 -4.2v8.4M290.3 447.5h8.4m-4.2 -4.2v8.4M295.3 465.5h8.4m-4.2 -4.2v8.4M350.3 461.5h8.4m-4.2 -4.2v8.4M292.3 423.5h8.4m-4.2 -4.2v8.4M304.3 470.5h8.4m-4.2 -4.2v8.4M292.3 439.5h8.4m-4.2 -4.2v8.4M324.3 473.5h8.4m-4.2 -4.2v8.4M290.3 424.5h8.4m-4.2 -4.2v8.4M289.3 466.5h8.4m-4.2 -4.2v8.4M295.3 411.5h8.4m-4.2 -4.2v8.4M361.3 461.5h8.4m-4.2 -4.2v8.4M292.3 461.5h8.4m-4.2 -4.2v8.4M317.3 362.5h8.4m-4.2 -4.2v8.4M333.3 421.5h8.4m-4.2 -4.2v8.4M294.3 269.5h8.4m-4.2 -4.2v8.4M290.3 437.5h8.4m-4.2 -4.2v8.4M372.3 473.5h8.4m-4.2 -4.2v8.4M294.3 407.5h8.4m-4.2 -4.2v8.4M292.3 402.5h8.4m-4.2 -4.2v8.4M297.3 409.5h8.4m-4.2 -4.2v8.4M339.3 477.5h8.4m-4.2 -4.2v8.4M294.3 439.5h8.4m-4.2 -4.2v8.4M297.3 291.5h8.4m-4.2 -4.2v8.4M296.3 392.5h8.4m-4.2 -4.2v8.4M294.3 438.5h8.4m-4.2 -4.2v8.4M338.3 431.5h8.4m-4.2 -4.2v8.4M297.3 398.5h8.4m-4.2 -4.2v8.4M290.3 443.5h8.4m-4.2 -4.2v8.4M295.3 443.5h8.4m-4.2 -4.2v8.4M292.3 452.5h8.4m-4.2 -4.2v8.4M291.3 474.5h8.4m-4.2 -4.2v8.4M340.3 448.5h8.4m-4.2 -4.2v8.4M297.3 390.5h8.4m-4.2 -4.2v8.4M293.3 463.5h8.4m-4.2 -4.2v8.4M294.3 445.5h8.4m-4.2 -4.2v8.4M359.3 464.5h8.4m-4.2 -4.2v8.4M294.3 433.5h8.4m-4.2 -4.2v8.4M364.3 462.5h8.4m-4.2 -4.2v8.4M320.3 475.5h8.4m-4.2 -4.2v8.4M325.3 475.5h8.4m-4.2 -4.2v8.4M319.3 473.5h8.4m-4.2 -4.2v8.4M318.3 384.5h8.4m-4.2 -4.2v8.4M341.3 477.5h8.4m-4.2 -4.2v8.4M292.3 467.5h8.4m-4.2 -4.2v8.4M297.3 452.5h8.4m-4.2 -4.2v8.4M307.3 470.5h8.4m-4.2 -4.2v8.4M340.3 450.5h8.4m-4.2 -4.2v8.4M370.3 456.5h8.4m-4.2 -4.2v8.4M291.3 449.5h8.4m-4.2 -4.2v8.4M291.3 450.5h8.4m-4.2 -4.2v8.4M373.3 466.5h8.4m-4.2 -4.2v8.4M291.3 420.5h8.4m-4.2 -4.2v8.4M296.3 461.5h8.4m-4.2 -4.2v8.4M295.3 453.5h8.4m-4.2 -4.2v8.4M292.3 451.5h8.4m-4.2 -4.2v8.4M297.3 450.5h8.4m-4.2 -4.2v8.4M335.3 416.5h8.4m-4.2 -4.2v8.4M297.3 438.5h8.4m-4.2 -4.2v8.4M331.3 396.5h8.4m-4.2 -4.2v8.4M308.3 381.5h8.4m-4.2 -4.2v8.4M296.3 458.5h8.4m-4.2 -4.2v8.4M315.3 346.5h8.4m-4.2 -4.2v8.4M292.3 334.5h8.4m-4.2 -4.2v8.4M299.3 349.5h8.4m-4.2 -4.2v8.4M297.3 423.5h8.4m-4.2 -4.2v8.4M326.3 396.5h8.4m-4.2 -4.2v8.4M296.3 350.5h8.4m-4.2 -4.2v8.4M362.3 455.5h8.4m-4.2 -4.2v8.4M366.3 449.5h8.4m-4.2 -4.2v8.4M299.3 380.5h8.4m-4.2 -4.2v8.4M293.3 462.5h8.4m-4.2 -4.2v8.4M296.3 472.5h8.4m-4.2 -4.2v8.4M293.3 428.5h8.4m-4.2 -4.2v8.4M290.3 447.5h8.4m-4.2 -4.2v8.4M310.3 364.5h8.4m-4.2 -4.2v8.4M297.3 458.5h8.4m-4.2 -4.2v8.4M293.3 466.5h8.4m-4.2 -4.2v8.4M293.3 473.5h8.4m-4.2 -4.2v8.4M310.3 368.5h8.4m-4.2 -4.2v8.4M293.3 459.5h8.4m-4.2 -4.2v8.4M295.3 400.5h8.4m-4.2 -4.2v8.4M349.3 441.5h8.4m-4.2 -4.2v8.4M296.3 469.5h8.4m-4.2 -4.2v8.4M296.3 433.5h8.4m-4.2 -4.2v8.4M313.3 473.5h8.4m-4.2 -4.2v8.4M292.3 424.5h8.4m-4.2 -4.2v8.4M307.3 272.5h8.4m-4.2 -4.2v8.4M292.3 431.5h8.4m-4.2 -4.2v8.4M304.3 306.5h8.4m-4.2 -4.2v8.4M355.3 456.5h8.4m-4.2 -4.2v8.4M294.3 470.5h8.4m-4.2 -4.2v8.4M297.3 371.5h8.4m-4.2 -4.2v8.4M343.3 477.5h8.4m-4.2 -4.2v8.4M349.3 466.5h8.4m-4.2 -4.2v8.4M299.3 342.5h8.4m-4.2 -4.2v8.4M296.3 433.5h8.4m-4.2 -4.2v8.4M307.3 346.5h8.4m-4.2 -4.2v8.4M291.3 352.5h8.4m-4.2 -4.2v8.4M346.3 423.5h8.4m-4.2 -4.2v8.4M347.3 447.5h8.4m-4.2 -4.2v8.4M312.3 475.5h8.4m-4.2 -4.2v8.4M295.3 437.5h8.4m-4.2 -4.2v8.4M373.3 462.5h8.4m-4.2 -4.2v8.4M293.3 446.5h8.4m-4.2 -4.2v8.4M294.3 447.5h8.4m-4.2 -4.2v8.4M299.3 471.5h8.4m-4.2 -4.2v8.4M366.3 459.5h8.4m-4.2 -4.2v8.4M295.3 469.5h8.4m-4.2 -4.2v8.4M354.3 453.5h8.4m-4.2 -4.2v8.4M310.3 373.5h8.4m-4.2 -4.2v8.4M293.3 436.5h8.4m-4.2 -4.2v8.4M298.3 358.5h8.4m-4.2 -4.2v8.4M295.3 403.5h8.4m-4.2 -4.2v8.4M297.3 460.5h8.4m-4.2 -4.2v8.4M304.3 342.5h8.4m-4.2 -4.2v8.4M309.3 473.5h8.4m-4.2 -4.2v8.4M297.3 473.5h8.4m-4.2 -4.2v8.4M293.3 376.5h8.4m-4.2 -4.2v8.4M310.3 473.5h8.4m-4.2 -4.2v8.4M345.3 481.5h8.4m-4.2 -4.2v8.4M295.3 460.5h8.4m-4.2 -4.2v8.4M335.3 406.5h8.4m-4.2 -4.2v8.4M293.3 452.5h8.4m-4.2 -4.2v8.4M307.3 474.5h8.4m-4.2 -4.2v8.4M292.3 439.5h8.4m-4.2 -4.2v8.4M313.3 472.5h8.4m-4.2 -4.2v8.4M344.3 451.5h8.4m-4.2 -4.2v8.4M335.3 413.5h8.4m-4.2 -4.2v8.4M298.3 385.5h8.4m-4.2 -4.2v8.4M318.3 480.5h8.4m-4.2 -4.2v8.4M344.3 458.5h8.4m-4.2 -4.2v8.4M296.3 434.5h8.4m-4.2 -4.2v8.4M333.3 478.5h8.4m-4.2 -4.2v8.4M314.3 392.5h8.4m-4.2 -4.2v8.4M371.3 452.5h8.4m-4.2 -4.2v8.4M291.3 412.5h8.4m-4.2 -4.2v8.4M295.3 464.5h8.4m-4.2 -4.2v8.4M292.3 432.5h8.4m-4.2 -4.2v8.4M292.3 438.5h8.4m-4.2 -4.2v8.4M295.3 463.5h8.4m-4.2 -4.2v8.4M295.3 467.5h8.4m-4.2 -4.2v8.4M308.3 473.5h8.4m-4.2 -4.2v8.4M344.3 427.5h8.4m-4.2 -4.2v8.4M290.3 469.5h8.4m-4.2 -4.2v8.4M295.3 438.5h8.4m-4.2 -4.2v8.4M311.3 472.5h8.4m-4.2 -4.2v8.4M294.3 457.5h8.4m-4.2 -4.2v8.4M318.3 339.5h8.4m-4.2 -4.2v8.4M296.3 470.5h8.4m-4.2 -4.2v8.4M317.3 474.5h8.4m-4.2 -4.2v8.4M362.3 475.5h8.4m-4.2 -4.2v8.4M296.3 463.5h8.4m-4.2 -4.2v8.4M294.3 461.5h8.4m-4.2 -4.2v8.4M310.3 375.5h8.4m-4.2 -4.2v8.4M295.3 420.5h8.4m-4.2 -4.2v8.4M295.3 455.5h8.4m-4.2 -4.2v8.4M294.3 451.5h8.4m-4.2 -4.2v8.4M373.3 470.5h8.4m-4.2 -4.2v8.4M297.3 430.5h8.4m-4.2 -4.2v8.4M339.3 430.5h8.4m-4.2 -4.2v8.4M326.3 474.5h8.4m-4.2 -4.2v8.4M291.3 468.5h8.4m-4.2 -4.2v8.4M307.3 474.5h8.4m-4.2 -4.2v8.4M291.3 471.5h8.4m-4.2 -4.2v8.4M335.3 477.5h8.4m-4.2 -4.2v8.4M293.3 397.5h8.4m-4.2 -4.2v8.4M293.3 427.5h8.4m-4.2 -4.2v8.4M297.3 461.5h8.4m-4.2 -4.2v8.4M326.3 406.5h8.4m-4.2 -4.2v8.4M336.3 479.5h8.4m-4.2 -4.2v8.4M313.3 355.5h8.4m-4.2 -4.2v8.4M313.3 391.5h8.4m-4.2 -4.2v8.4M294.3 355.5h8.4m-4.2 -4.2v8.4M297.3 458.5h8.4m-4.2 -4.2v8.4M344.3 479.5h8.4m-4.2 -4.2v8.4M296.3 457.5h8.4m-4.2 -4.2v8.4M295.3 443.5h8.4m-4.2 -4.2v8.4M294.3 424.5h8.4m-4.2 -4.2v8.4M293.3 470.5h8.4m-4.2 -4.2v8.4M296.3 470.5h8.4m-4.2 -4.2v8.4M340.3 450.5h8.4m-4.2 -4.2v8.4M304.3 373.5h8.4m-4.2 -4.2v8.4M296.3 397.5h8.4m-4.2 -4.2v8.4M328.3 369.5h8.4m-4.2 -4.2v8.4M294.3 448.5h8.4m-4.2 -4.2v8.4M296.3 460.5h8.4m-4.2 -4.2v8.4M297.3 412.5h8.4m-4.2 -4.2v8.4M299.3 357.5h8.4m-4.2 -4.2v8.4M293.3 468.5h8.4m-4.2 -4.2v8.4M299.3 358.5h8.4m-4.2 -4.2v8.4M314.3 351.5h8.4m-4.2 -4.2v8.4M291.3 462.5h8.4m-4.2 -4.2v8.4M290.3 451.5h8.4m-4.2 -4.2v8.4M292.3 467.5h8.4m-4.2 -4.2v8.4M294.3 455.5h8.4m-4.2 -4.2v8.4M298.3 358.5h8.4m-4.2 -4.2v8.4M327.3 383.5h8.4m-4.2 -4.2v8.4M344.3 447.5h8.4m-4.2 -4.2v8.4M289.3 445.5h8.4m-4.2 -4.2v8.4M339.3 384.5h8.4m-4.2 -4.2v8.4M296.3 347.5h8.4m-4.2 -4.2v8.4M291.3 409.5h8.4m-4.2 -4.2v8.4M295.3 450.5h8.4m-4.2 -4.2v8.4M349.3 461.5h8.4m-4.2 -4.2v8.4M291.3 441.5h8.4m-4.2 -4.2v8.4M299.3 373.5h8.4m-4.2 -4.2v8.4M293.3 473.5h8.4m-4.2 -4.2v8.4M356.3 479.5h8.4m-4.2 -4.2v8.4M290.3 449.5h8.4m-4.2 -4.2v8.4M293.3 401.5h8.4m-4.2 -4.2v8.4M342.3 450.5h8.4m-4.2 -4.2v8.4M302.3 366.5h8.4m-4.2 -4.2v8.4M290.3 418.5h8.4m-4.2 -4.2v8.4M304.3 471.5h8.4m-4.2 -4.2v8.4M366.3 464.5h8.4m-4.2 -4.2v8.4M329.3 392.5h8.4m-4.2 -4.2v8.4M371.3 451.5h8.4m-4.2 -4.2v8.4M290.3 399.5h8.4m-4.2 -4.2v8.4M321.3 362.5h8.4m-4.2 -4.2v8.4M293.3 453.5h8.4m-4.2 -4.2v8.4M361.3 454.5h8.4m-4.2 -4.2v8.4M324.3 473.5h8.4m-4.2 -4.2v8.4M295.3 451.5h8.4m-4.2 -4.2v8.4M292.3 442.5h8.4m-4.2 -4.2v8.4M350.3 465.5h8.4m-4.2 -4.2v8.4M296.3 459.5h8.4m-4.2 -4.2v8.4M296.3 469.5h8.4m-4.2 -4.2v8.4M325.3 475.5h8.4m-4.2 -4.2v8.4M296.3 417.5h8.4m-4.2 -4.2v8.4M344.3 453.5h8.4m-4.2 -4.2v8.4M305.3 369.5h8.4m-4.2 -4.2v8.4M292.3 427.5h8.4m-4.2 -4.2v8.4M290.3 462.5h8.4m-4.2 -4.2v8.4M341.3 439.5h8.4m-4.2 -4.2v8.4M357.3 421.5h8.4m-4.2 -4.2v8.4M297.3 461.5h8.4m-4.2 -4.2v8.4M295.3 470.5h8.4m-4.2 -4.2v8.4M306.3 361.5h8.4m-4.2 -4.2v8.4M295.3 427.5h8.4m-4.2 -4.2v8.4M343.3 450.5h8.4m-4.2 -4.2v8.4M291.3 467.5h8.4m-4.2 -4.2v8.4M337.3 476.5h8.4m-4.2 -4.2v8.4M327.3 380.5h8.4m-4.2 -4.2v8.4M293.3 465.5h8.4m-4.2 -4.2v8.4M291.3 458.5h8.4m-4.2 -4.2v8.4M297.3 431.5h8.4m-4.2 -4.2v8.4M299.3 471.5h8.4m-4.2 -4.2v8.4M290.3 461.5h8.4m-4.2 -4.2v8.4M365.3 465.5h8.4m-4.2 -4.2v8.4M299.3 364.5h8.4m-4.2 -4.2v8.4M295.3 469.5h8.4m-4.2 -4.2v8.4M301.3 351.5h8.4m-4.2 -4.2v8.4M297.3 469.5h8.4m-4.2 -4.2v8.4M293.3 426.5h8.4m-4.2 -4.2v8.4M308.3 333.5h8.4m-4.2 -4.2v8.4M316.3 473.5h8.4m-4.2 -4.2v8.4M339.3 443.5h8.4m-4.2 -4.2v8.4M298.3 361.5h8.4m-4.2 -4.2v8.4M306.3 358.5h8.4m-4.2 -4.2v8.4M350.3 463.5h8.4m-4.2 -4.2v8.4M310.3 474.5h8.4m-4.2 -4.2v8.4M293.3 448.5h8.4m-4.2 -4.2v8.4M351.3 456.5h8.4m-4.2 -4.2v8.4M322.3 471.5h8.4m-4.2 -4.2v8.4M310.3 473.5h8.4m-4.2 -4.2v8.4M302.3 349.5h8.4m-4.2 -4.2v8.4M311.3 301.5h8.4m-4.2 -4.2v8.4M294.3 396.5h8.4m-4.2 -4.2v8.4M302.3 471.5h8.4m-4.2 -4.2v8.4M323.3 367.5h8.4m-4.2 -4.2v8.4M295.3 441.5h8.4m-4.2 -4.2v8.4M358.3 463.5h8.4m-4.2 -4.2v8.4M290.3 471.5h8.4m-4.2 -4.2v8.4M292.3 394.5h8.4m-4.2 -4.2v8.4M374.3 465.5h8.4m-4.2 -4.2v8.4M289.3 436.5h8.4m-4.2 -4.2v8.4M290.3 432.5h8.4m-4.2 -4.2v8.4M294.3 463.5h8.4m-4.2 -4.2v8.4M294.3 420.5h8.4m-4.2 -4.2v8.4M294.3 460.5h8.4m-4.2 -4.2v8.4M295.3 456.5h8.4m-4.2 -4.2v8.4M296.3 471.5h8.4m-4.2 -4.2v8.4M322.3 471.5h8.4m-4.2 -4.2v8.4M328.3 398.5h8.4m-4.2 -4.2v8.4M301.3 317.5h8.4m-4.2 -4.2v8.4M296.3 431.5h8.4m-4.2 -4.2v8.4M295.3 467.5h8.4m-4.2 -4.2v8.4M294.3 333.5h8.4m-4.2 -4.2v8.4M348.3 461.5h8.4m-4.2 -4.2v8.4M369.3 444.5h8.4m-4.2 -4.2v8.4M295.3 427.5h8.4m-4.2 -4.2v8.4M295.3 462.5h8.4m-4.2 -4.2v8.4M376.3 469.5h8.4m-4.2 -4.2v8.4M291.3 426.5h8.4m-4.2 -4.2v8.4M297.3 463.5h8.4m-4.2 -4.2v8.4M296.3 403.5h8.4m-4.2 -4.2v8.4M295.3 435.5h8.4m-4.2 -4.2v8.4M295.3 439.5h8.4m-4.2 -4.2v8.4M295.3 461.5h8.4m-4.2 -4.2v8.4M290.3 457.5h8.4m-4.2 -4.2v8.4M374.3 473.5h8.4m-4.2 -4.2v8.4M295.3 445.5h8.4m-4.2 -4.2v8.4M293.3 388.5h8.4m-4.2 -4.2v8.4M296.3 472.5h8.4m-4.2 -4.2v8.4M330.3 391.5h8.4m-4.2 -4.2v8.4M298.3 383.5h8.4m-4.2 -4.2v8.4M294.3 431.5h8.4m-4.2 -4.2v8.4M334.3 382.5h8.4m-4.2 -4.2v8.4M317.3 471.5h8.4m-4.2 -4.2v8.4M319.3 391.5h8.4m-4.2 -4.2v8.4M290.3 467.5h8.4m-4.2 -4.2v8.4M345.3 459.5h8.4m-4.2 -4.2v8.4M311.3 383.5h8.4m-4.2 -4.2v8.4M293.3 419.5h8.4m-4.2 -4.2v8.4M294.3 389.5h8.4m-4.2 -4.2v8.4M291.3 453.5h8.4m-4.2 -4.2v8.4M332.3 376.5h8.4m-4.2 -4.2v8.4M294.3 429.5h8.4m-4.2 -4.2v8.4M304.3 379.5h8.4m-4.2 -4.2v8.4M294.3 424.5h8.4m-4.2 -4.2v8.4M319.3 471.5h8.4m-4.2 -4.2v8.4M292.3 443.5h8.4m-4.2 -4.2v8.4M293.3 431.5h8.4m-4.2 -4.2v8.4M369.3 483.5h8.4m-4.2 -4.2v8.4M343.3 447.5h8.4m-4.2 -4.2v8.4M295.3 449.5h8.4m-4.2 -4.2v8.4M295.3 458.5h8.4m-4.2 -4.2v8.4M349.3 458.5h8.4m-4.2 -4.2v8.4M299.3 356.5h8.4m-4.2 -4.2v8.4M311.3 476.5h8.4m-4.2 -4.2v8.4M292.3 453.5h8.4m-4.2 -4.2v8.4M359.3 461.5h8.4m-4.2 -4.2v8.4M297.3 448.5h8.4m-4.2 -4.2v8.4M322.3 475.5h8.4m-4.2 -4.2v8.4M310.3 475.5h8.4m-4.2 -4.2v8.4M292.3 418.5h8.4m-4.2 -4.2v8.4M290.3 416.5h8.4m-4.2 -4.2v8.4M362.3 491.5h8.4m-4.2 -4.2v8.4M310.3 472.5h8.4m-4.2 -4.2v8.4M291.3 463.5h8.4m-4.2 -4.2v8.4M302.3 367.5h8.4m-4.2 -4.2v8.4M307.3 298.5h8.4m-4.2 -4.2v8.4M296.3 448.5h8.4m-4.2 -4.2v8.4M293.3 396.5h8.4m-4.2 -4.2v8.4M291.3 464.5h8.4m-4.2 -4.2v8.4M311.3 473.5h8.4m-4.2 -4.2v8.4M313.3 383.5h8.4m-4.2 -4.2v8.4M339.3 446.5h8.4m-4.2 -4.2v8.4M296.3 430.5h8.4m-4.2 -4.2v8.4M297.3 460.5h8.4m-4.2 -4.2v8.4M291.3 463.5h8.4m-4.2 -4.2v8.4M293.3 470.5h8.4m-4.2 -4.2v8.4M302.3 375.5h8.4m-4.2 -4.2v8.4M362.3 467.5h8.4m-4.2 -4.2v8.4M301.3 472.5h8.4m-4.2 -4.2v8.4M297.3 471.5h8.4m-4.2 -4.2v8.4M293.3 452.5h8.4m-4.2 -4.2v8.4M296.3 426.5h8.4m-4.2 -4.2v8.4M333.3 477.5h8.4m-4.2 -4.2v8.4M295.3 456.5h8.4m-4.2 -4.2v8.4M291.3 400.5h8.4m-4.2 -4.2v8.4M293.3 465.5h8.4m-4.2 -4.2v8.4M359.3 476.5h8.4m-4.2 -4.2v8.4M294.3 469.5h8.4m-4.2 -4.2v8.4M342.3 449.5h8.4m-4.2 -4.2v8.4M367.3 452.5h8.4m-4.2 -4.2v8.4M342.3 439.5h8.4m-4.2 -4.2v8.4M298.3 358.5h8.4m-4.2 -4.2v8.4M295.3 432.5h8.4m-4.2 -4.2v8.4M295.3 414.5h8.4m-4.2 -4.2v8.4M359.3 457.5h8.4m-4.2 -4.2v8.4M350.3 465.5h8.4m-4.2 -4.2v8.4M305.3 344.5h8.4m-4.2 -4.2v8.4M298.3 389.5h8.4m-4.2 -4.2v8.4M292.3 395.5h8.4m-4.2 -4.2v8.4M363.3 446.5h8.4m-4.2 -4.2v8.4M347.3 462.5h8.4m-4.2 -4.2v8.4M362.3 465.5h8.4m-4.2 -4.2v8.4M319.3 351.5h8.4m-4.2 -4.2v8.4M352.3 476.5h8.4m-4.2 -4.2v8.4M353.3 477.5h8.4m-4.2 -4.2v8.4M355.3 478.5h8.4m-4.2 -4.2v8.4M343.3 455.5h8.4m-4.2 -4.2v8.4M300.3 386.5h8.4m-4.2 -4.2v8.4M292.3 460.5h8.4m-4.2 -4.2v8.4M351.3 431.5h8.4m-4.2 -4.2v8.4M355.3 448.5h8.4m-4.2 -4.2v8.4M297.3 447.5h8.4m-4.2 -4.2v8.4M324.3 473.5h8.4m-4.2 -4.2v8.4M292.3 382.5h8.4m-4.2 -4.2v8.4M344.3 450.5h8.4m-4.2 -4.2v8.4M353.3 454.5h8.4m-4.2 -4.2v8.4M293.3 444.5h8.4m-4.2 -4.2v8.4M365.3 453.5h8.4m-4.2 -4.2v8.4M292.3 453.5h8.4m-4.2 -4.2v8.4M297.3 443.5h8.4m-4.2 -4.2v8.4M291.3 359.5h8.4m-4.2 -4.2v8.4M294.3 392.5h8.4m-4.2 -4.2v8.4M342.3 444.5h8.4m-4.2 -4.2v8.4M316.3 350.5h8.4m-4.2 -4.2v8.4M297.3 446.5h8.4m-4.2 -4.2v8.4M291.3 468.5h8.4m-4.2 -4.2v8.4M296.3 457.5h8.4m-4.2 -4.2v8.4M290.3 395.5h8.4m-4.2 -4.2v8.4M292.3 460.5h8.4m-4.2 -4.2v8.4M323.3 472.5h8.4m-4.2 -4.2v8.4M296.3 460.5h8.4m-4.2 -4.2v8.4M351.3 461.5h8.4m-4.2 -4.2v8.4M309.3 334.5h8.4m-4.2 -4.2v8.4M295.3 443.5h8.4m-4.2 -4.2v8.4M362.3 463.5h8.4m-4.2 -4.2v8.4M295.3 368.5h8.4m-4.2 -4.2v8.4M293.3 470.5h8.4m-4.2 -4.2v8.4M304.3 345.5h8.4m-4.2 -4.2v8.4M323.3 474.5h8.4m-4.2 -4.2v8.4M364.3 455.5h8.4m-4.2 -4.2v8.4M321.3 363.5h8.4m-4.2 -4.2v8.4M367.3 453.5h8.4m-4.2 -4.2v8.4M290.3 397.5h8.4m-4.2 -4.2v8.4M354.3 456.5h8.4m-4.2 -4.2v8.4M359.3 440.5h8.4m-4.2 -4.2v8.4M296.3 460.5h8.4m-4.2 -4.2v8.4M339.3 445.5h8.4m-4.2 -4.2v8.4M295.3 283.5h8.4m-4.2 -4.2v8.4M291.3 423.5h8.4m-4.2 -4.2v8.4M291.3 390.5h8.4m-4.2 -4.2v8.4M294.3 465.5h8.4m-4.2 -4.2v8.4M296.3 281.5h8.4m-4.2 -4.2v8.4M292.3 469.5h8.4m-4.2 -4.2v8.4M300.3 373.5h8.4m-4.2 -4.2v8.4M297.3 464.5h8.4m-4.2 -4.2v8.4M361.3 460.5h8.4m-4.2 -4.2v8.4M293.3 463.5h8.4m-4.2 -4.2v8.4M296.3 472.5h8.4m-4.2 -4.2v8.4M298.3 270.5h8.4m-4.2 -4.2v8.4M295.3 428.5h8.4m-4.2 -4.2v8.4M324.3 405.5h8.4m-4.2 -4.2v8.4M331.3 400.5h8.4m-4.2 -4.2v8.4M291.3 376.5h8.4m-4.2 -4.2v8.4M294.3 446.5h8.4m-4.2 -4.2v8.4M294.3 424.5h8.4m-4.2 -4.2v8.4M295.3 439.5h8.4m-4.2 -4.2v8.4M374.3 458.5h8.4m-4.2 -4.2v8.4M293.3 442.5h8.4m-4.2 -4.2v8.4M289.3 455.5h8.4m-4.2 -4.2v8.4M289.3 468.5h8.4m-4.2 -4.2v8.4M294.3 450.5h8.4m-4.2 -4.2v8.4M348.3 441.5h8.4m-4.2 -4.2v8.4M290.3 443.5h8.4m-4.2 -4.2v8.4M291.3 458.5h8.4m-4.2 -4.2v8.4M292.3 445.5h8.4m-4.2 -4.2v8.4M303.3 470.5h8.4m-4.2 -4.2v8.4M355.3 454.5h8.4m-4.2 -4.2v8.4M341.3 441.5h8.4m-4.2 -4.2v8.4M297.3 455.5h8.4m-4.2 -4.2v8.4M296.3 460.5h8.4m-4.2 -4.2v8.4M344.3 456.5h8.4m-4.2 -4.2v8.4M306.3 470.5h8.4m-4.2 -4.2v8.4M291.3 397.5h8.4m-4.2 -4.2v8.4M299.3 371.5h8.4m-4.2 -4.2v8.4M289.3 321.5h8.4m-4.2 -4.2v8.4M295.3 460.5h8.4m-4.2 -4.2v8.4M324.3 474.5h8.4m-4.2 -4.2v8.4M352.3 458.5h8.4m-4.2 -4.2v8.4M292.3 381.5h8.4m-4.2 -4.2v8.4M295.3 448.5h8.4m-4.2 -4.2v8.4M292.3 416.5h8.4m-4.2 -4.2v8.4M368.3 451.5h8.4m-4.2 -4.2v8.4M359.3 456.5h8.4m-4.2 -4.2v8.4M297.3 451.5h8.4m-4.2 -4.2v8.4M294.3 424.5h8.4m-4.2 -4.2v8.4M351.3 459.5h8.4m-4.2 -4.2v8.4M296.3 450.5h8.4m-4.2 -4.2v8.4M296.3 447.5h8.4m-4.2 -4.2v8.4M356.3 466.5h8.4m-4.2 -4.2v8.4M293.3 285.5h8.4m-4.2 -4.2v8.4M349.3 453.5h8.4m-4.2 -4.2v8.4M296.3 457.5h8.4m-4.2 -4.2v8.4M293.3 412.5h8.4m-4.2 -4.2v8.4M292.3 434.5h8.4m-4.2 -4.2v8.4M361.3 444.5h8.4m-4.2 -4.2v8.4M294.3 414.5h8.4m-4.2 -4.2v8.4M369.3 451.5h8.4m-4.2 -4.2v8.4M357.3 461.5h8.4m-4.2 -4.2v8.4M290.3 461.5h8.4m-4.2 -4.2v8.4M292.3 424.5h8.4m-4.2 -4.2v8.4M297.3 368.5h8.4m-4.2 -4.2v8.4M300.3 337.5h8.4m-4.2 -4.2v8.4M350.3 456.5h8.4m-4.2 -4.2v8.4M348.3 460.5h8.4m-4.2 -4.2v8.4M299.3 304.5h8.4m-4.2 -4.2v8.4M295.3 451.5h8.4m-4.2 -4.2v8.4M347.3 458.5h8.4m-4.2 -4.2v8.4M291.3 441.5h8.4m-4.2 -4.2v8.4M343.3 438.5h8.4m-4.2 -4.2v8.4M356.3 450.5h8.4m-4.2 -4.2v8.4M333.3 476.5h8.4m-4.2 -4.2v8.4M295.3 448.5h8.4m-4.2 -4.2v8.4M292.3 448.5h8.4m-4.2 -4.2v8.4M303.3 340.5h8.4m-4.2 -4.2v8.4M296.3 408.5h8.4m-4.2 -4.2v8.4M294.3 302.5h8.4m-4.2 -4.2v8.4M294.3 437.5h8.4m-4.2 -4.2v8.4M307.3 472.5h8.4m-4.2 -4.2v8.4M295.3 462.5h8.4m-4.2 -4.2v8.4M295.3 355.5h8.4m-4.2 -4.2v8.4M307.3 471.5h8.4m-4.2 -4.2v8.4M294.3 398.5h8.4m-4.2 -4.2v8.4M296.3 441.5h8.4m-4.2 -4.2v8.4M362.3 463.5h8.4m-4.2 -4.2v8.4M293.3 363.5h8.4m-4.2 -4.2v8.4M355.3 460.5h8.4m-4.2 -4.2v8.4M374.3 465.5h8.4m-4.2 -4.2v8.4M356.3 477.5h8.4m-4.2 -4.2v8.4M294.3 390.5h8.4m-4.2 -4.2v8.4M291.3 446.5h8.4m-4.2 -4.2v8.4M298.3 323.5h8.4m-4.2 -4.2v8.4M296.3 451.5h8.4m-4.2 -4.2v8.4M295.3 457.5h8.4m-4.2 -4.2v8.4M354.3 445.5h8.4m-4.2 -4.2v8.4M350.3 461.5h8.4m-4.2 -4.2v8.4M294.3 367.5h8.4m-4.2 -4.2v8.4M324.3 362.5h8.4m-4.2 -4.2v8.4M293.3 468.5h8.4m-4.2 -4.2v8.4M343.3 444.5h8.4m-4.2 -4.2v8.4M289.3 465.5h8.4m-4.2 -4.2v8.4M375.3 471.5h8.4m-4.2 -4.2v8.4M297.3 380.5h8.4m-4.2 -4.2v8.4M351.3 466.5h8.4m-4.2 -4.2v8.4M377.3 458.5h8.4m-4.2 -4.2v8.4M339.3 478.5h8.4m-4.2 -4.2v8.4M293.3 437.5h8.4m-4.2 -4.2v8.4M293.3 444.5h8.4m-4.2 -4.2v8.4M344.3 457.5h8.4m-4.2 -4.2v8.4M294.3 426.5h8.4m-4.2 -4.2v8.4M299.3 337.5h8.4m-4.2 -4.2v8.4M293.3 470.5h8.4m-4.2 -4.2v8.4M293.3 467.5h8.4m-4.2 -4.2v8.4M349.3 441.5h8.4m-4.2 -4.2v8.4M289.3 466.5h8.4m-4.2 -4.2v8.4M290.3 467.5h8.4m-4.2 -4.2v8.4M293.3 419.5h8.4m-4.2 -4.2v8.4M312.3 471.5h8.4m-4.2 -4.2v8.4M290.3 448.5h8.4m-4.2 -4.2v8.4M294.3 416.5h8.4m-4.2 -4.2v8.4M295.3 452.5h8.4m-4.2 -4.2v8.4M291.3 467.5h8.4m-4.2 -4.2v8.4M311.3 471.5h8.4m-4.2 -4.2v8.4M323.3 477.5h8.4m-4.2 -4.2v8.4M349.3 461.5h8.4m-4.2 -4.2v8.4M306.3 312.5h8.4m-4.2 -4.2v8.4M361.3 452.5h8.4m-4.2 -4.2v8.4M304.3 475.5h8.4m-4.2 -4.2v8.4M293.3 403.5h8.4m-4.2 -4.2v8.4M320.3 393.5h8.4m-4.2 -4.2v8.4M344.3 443.5h8.4m-4.2 -4.2v8.4M316.3 392.5h8.4m-4.2 -4.2v8.4M295.3 467.5h8.4m-4.2 -4.2v8.4M292.3 458.5h8.4m-4.2 -4.2v8.4M293.3 359.5h8.4m-4.2 -4.2v8.4M355.3 465.5h8.4m-4.2 -4.2v8.4M293.3 451.5h8.4m-4.2 -4.2v8.4M296.3 448.5h8.4m-4.2 -4.2v8.4M338.3 436.5h8.4m-4.2 -4.2v8.4M303.3 268.5h8.4m-4.2 -4.2v8.4M309.3 320.5h8.4m-4.2 -4.2v8.4M308.3 473.5h8.4m-4.2 -4.2v8.4M296.3 471.5h8.4m-4.2 -4.2v8.4M307.3 471.5h8.4m-4.2 -4.2v8.4M291.3 364.5h8.4m-4.2 -4.2v8.4M294.3 453.5h8.4m-4.2 -4.2v8.4M334.3 385.5h8.4m-4.2 -4.2v8.4M297.3 356.5h8.4m-4.2 -4.2v8.4M301.3 384.5h8.4m-4.2 -4.2v8.4M297.3 372.5h8.4m-4.2 -4.2v8.4M296.3 471.5h8.4m-4.2 -4.2v8.4M295.3 365.5h8.4m-4.2 -4.2v8.4M289.3 458.5h8.4m-4.2 -4.2v8.4M312.3 365.5h8.4m-4.2 -4.2v8.4M301.3 374.5h8.4m-4.2 -4.2v8.4M293.3 440.5h8.4m-4.2 -4.2v8.4M291.3 464.5h8.4m-4.2 -4.2v8.4M298.3 372.5h8.4m-4.2 -4.2v8.4M306.3 471.5h8.4m-4.2 -4.2v8.4M296.3 457.5h8.4m-4.2 -4.2v8.4M295.3 455.5h8.4m-4.2 -4.2v8.4M296.3 468.5h8.4m-4.2 -4.2v8.4M344.3 447.5h8.4m-4.2 -4.2v8.4M295.3 466.5h8.4m-4.2 -4.2v8.4M342.3 455.5h8.4m-4.2 -4.2v8.4M336.3 421.5h8.4m-4.2 -4.2v8.4M299.3 275.5h8.4m-4.2 -4.2v8.4M356.3 484.5h8.4m-4.2 -4.2v8.4M292.3 417.5h8.4m-4.2 -4.2v8.4M294.3 294.5h8.4m-4.2 -4.2v8.4M357.3 465.5h8.4m-4.2 -4.2v8.4M297.3 393.5h8.4m-4.2 -4.2v8.4M378.3 472.5h8.4m-4.2 -4.2v8.4M290.3 441.5h8.4m-4.2 -4.2v8.4M362.3 435.5h8.4m-4.2 -4.2v8.4M299.3 351.5h8.4m-4.2 -4.2v8.4M296.3 434.5h8.4m-4.2 -4.2v8.4M291.3 420.5h8.4m-4.2 -4.2v8.4M295.3 427.5h8.4m-4.2 -4.2v8.4M309.3 291.5h8.4m-4.2 -4.2v8.4M348.3 448.5h8.4m-4.2 -4.2v8.4M292.3 466.5h8.4m-4.2 -4.2v8.4M308.3 318.5h8.4m-4.2 -4.2v8.4M294.3 447.5h8.4m-4.2 -4.2v8.4M362.3 438.5h8.4m-4.2 -4.2v8.4M357.3 464.5h8.4m-4.2 -4.2v8.4M293.3 411.5h8.4m-4.2 -4.2v8.4M368.3 466.5h8.4m-4.2 -4.2v8.4M356.3 452.5h8.4m-4.2 -4.2v8.4M306.3 245.5h8.4m-4.2 -4.2v8.4M315.3 478.5h8.4m-4.2 -4.2v8.4M297.3 400.5h8.4m-4.2 -4.2v8.4M292.3 430.5h8.4m-4.2 -4.2v8.4M296.3 435.5h8.4m-4.2 -4.2v8.4M337.3 426.5h8.4m-4.2 -4.2v8.4M297.3 442.5h8.4m-4.2 -4.2v8.4M289.3 452.5h8.4m-4.2 -4.2v8.4M375.3 462.5h8.4m-4.2 -4.2v8.4M308.3 480.5h8.4m-4.2 -4.2v8.4M303.3 348.5h8.4m-4.2 -4.2v8.4M350.3 451.5h8.4m-4.2 -4.2v8.4M310.3 470.5h8.4m-4.2 -4.2v8.4M296.3 455.5h8.4m-4.2 -4.2v8.4M295.3 427.5h8.4m-4.2 -4.2v8.4M292.3 456.5h8.4m-4.2 -4.2v8.4M328.3 396.5h8.4m-4.2 -4.2v8.4M316.3 475.5h8.4m-4.2 -4.2v8.4M309.3 471.5h8.4m-4.2 -4.2v8.4M292.3 456.5h8.4m-4.2 -4.2v8.4M295.3 390.5h8.4m-4.2 -4.2v8.4M307.3 475.5h8.4m-4.2 -4.2v8.4M348.3 448.5h8.4m-4.2 -4.2v8.4M341.3 455.5h8.4m-4.2 -4.2v8.4M293.3 408.5h8.4m-4.2 -4.2v8.4M297.3 424.5h8.4m-4.2 -4.2v8.4M290.3 358.5h8.4m-4.2 -4.2v8.4M360.3 480.5h8.4m-4.2 -4.2v8.4M292.3 450.5h8.4m-4.2 -4.2v8.4M306.3 470.5h8.4m-4.2 -4.2v8.4M302.3 476.5h8.4m-4.2 -4.2v8.4M334.3 405.5h8.4m-4.2 -4.2v8.4M327.3 404.5h8.4m-4.2 -4.2v8.4M350.3 448.5h8.4m-4.2 -4.2v8.4M321.3 476.5h8.4m-4.2 -4.2v8.4M297.3 388.5h8.4m-4.2 -4.2v8.4M345.3 410.5h8.4m-4.2 -4.2v8.4M293.3 472.5h8.4m-4.2 -4.2v8.4M345.3 456.5h8.4m-4.2 -4.2v8.4M313.3 284.5h8.4m-4.2 -4.2v8.4M328.3 475.5h8.4m-4.2 -4.2v8.4M305.3 471.5h8.4m-4.2 -4.2v8.4M311.3 382.5h8.4m-4.2 -4.2v8.4M302.3 474.5h8.4m-4.2 -4.2v8.4M353.3 459.5h8.4m-4.2 -4.2v8.4M343.3 478.5h8.4m-4.2 -4.2v8.4M305.3 376.5h8.4m-4.2 -4.2v8.4M330.3 477.5h8.4m-4.2 -4.2v8.4M294.3 340.5h8.4m-4.2 -4.2v8.4M293.3 415.5h8.4m-4.2 -4.2v8.4M295.3 462.5h8.4m-4.2 -4.2v8.4M295.3 468.5h8.4m-4.2 -4.2v8.4M290.3 420.5h8.4m-4.2 -4.2v8.4M323.3 395.5h8.4m-4.2 -4.2v8.4M288.3 431.5h8.4m-4.2 -4.2v8.4M296.3 437.5h8.4m-4.2 -4.2v8.4M300.3 359.5h8.4m-4.2 -4.2v8.4M312.3 276.5h8.4m-4.2 -4.2v8.4M368.3 475.5h8.4m-4.2 -4.2v8.4M306.3 473.5h8.4m-4.2 -4.2v8.4M296.3 458.5h8.4m-4.2 -4.2v8.4M348.3 465.5h8.4m-4.2 -4.2v8.4M329.3 478.5h8.4m-4.2 -4.2v8.4M321.3 398.5h8.4m-4.2 -4.2v8.4M298.3 354.5h8.4m-4.2 -4.2v8.4M290.3 453.5h8.4m-4.2 -4.2v8.4M311.3 334.5h8.4m-4.2 -4.2v8.4M295.3 470.5h8.4m-4.2 -4.2v8.4M294.3 423.5h8.4m-4.2 -4.2v8.4M355.3 455.5h8.4m-4.2 -4.2v8.4M295.3 461.5h8.4m-4.2 -4.2v8.4M293.3 413.5h8.4m-4.2 -4.2v8.4M291.3 418.5h8.4m-4.2 -4.2v8.4M360.3 465.5h8.4m-4.2 -4.2v8.4M312.3 366.5h8.4m-4.2 -4.2v8.4M294.3 437.5h8.4m-4.2 -4.2v8.4M294.3 449.5h8.4m-4.2 -4.2v8.4M297.3 444.5h8.4m-4.2 -4.2v8.4M313.3 389.5h8.4m-4.2 -4.2v8.4M296.3 375.5h8.4m-4.2 -4.2v8.4M294.3 440.5h8.4m-4.2 -4.2v8.4M290.3 471.5h8.4m-4.2 -4.2v8.4M305.3 291.5h8.4m-4.2 -4.2v8.4M297.3 388.5h8.4m-4.2 -4.2v8.4M292.3 392.5h8.4m-4.2 -4.2v8.4M297.3 420.5h8.4m-4.2 -4.2v8.4M365.3 476.5h8.4m-4.2 -4.2v8.4M296.3 426.5h8.4m-4.2 -4.2v8.4M331.3 424.5h8.4m-4.2 -4.2v8.4M292.3 424.5h8.4m-4.2 -4.2v8.4M292.3 407.5h8.4m-4.2 -4.2v8.4M290.3 462.5h8.4m-4.2 -4.2v8.4M363.3 468.5h8.4m-4.2 -4.2v8.4M297.3 431.5h8.4m-4.2 -4.2v8.4M293.3 441.5h8.4m-4.2 -4.2v8.4M289.3 469.5h8.4m-4.2 -4.2v8.4M297.3 451.5h8.4m-4.2 -4.2v8.4M293.3 444.5h8.4m-4.2 -4.2v8.4M291.3 369.5h8.4m-4.2 -4.2v8.4M300.3 378.5h8.4m-4.2 -4.2v8.4M294.3 462.5h8.4m-4.2 -4.2v8.4M350.3 458.5h8.4m-4.2 -4.2v8.4M315.3 473.5h8.4m-4.2 -4.2v8.4M294.3 466.5h8.4m-4.2 -4.2v8.4M297.3 362.5h8.4m-4.2 -4.2v8.4M350.3 482.5h8.4m-4.2 -4.2v8.4M302.3 471.5h8.4m-4.2 -4.2v8.4M291.3 438.5h8.4m-4.2 -4.2v8.4M296.3 450.5h8.4m-4.2 -4.2v8.4M288.3 454.5h8.4m-4.2 -4.2v8.4M308.3 474.5h8.4m-4.2 -4.2v8.4M365.3 448.5h8.4m-4.2 -4.2v8.4M294.3 455.5h8.4m-4.2 -4.2v8.4M367.3 466.5h8.4m-4.2 -4.2v8.4M358.3 460.5h8.4m-4.2 -4.2v8.4M314.3 473.5h8.4m-4.2 -4.2v8.4M296.3 425.5h8.4m-4.2 -4.2v8.4M296.3 457.5h8.4m-4.2 -4.2v8.4M292.3 469.5h8.4m-4.2 -4.2v8.4M297.3 439.5h8.4m-4.2 -4.2v8.4M297.3 456.5h8.4m-4.2 -4.2v8.4M358.3 456.5h8.4m-4.2 -4.2v8.4M292.3 413.5h8.4m-4.2 -4.2v8.4M294.3 357.5h8.4m-4.2 -4.2v8.4M337.3 427.5h8.4m-4.2 -4.2v8.4M323.3 472.5h8.4m-4.2 -4.2v8.4M336.3 476.5h8.4m-4.2 -4.2v8.4M291.3 437.5h8.4m-4.2 -4.2v8.4M299.3 470.5h8.4m-4.2 -4.2v8.4M292.3 423.5h8.4m-4.2 -4.2v8.4M295.3 466.5h8.4m-4.2 -4.2v8.4M332.3 425.5h8.4m-4.2 -4.2v8.4M363.3 463.5h8.4m-4.2 -4.2v8.4M295.3 455.5h8.4m-4.2 -4.2v8.4M296.3 407.5h8.4m-4.2 -4.2v8.4M297.3 465.5h8.4m-4.2 -4.2v8.4M292.3 446.5h8.4m-4.2 -4.2v8.4M358.3 440.5h8.4m-4.2 -4.2v8.4M331.3 475.5h8.4m-4.2 -4.2v8.4M295.3 472.5h8.4m-4.2 -4.2v8.4M292.3 444.5h8.4m-4.2 -4.2v8.4M297.3 442.5h8.4m-4.2 -4.2v8.4M293.3 444.5h8.4m-4.2 -4.2v8.4M335.3 387.5h8.4m-4.2 -4.2v8.4M291.3 449.5h8.4m-4.2 -4.2v8.4M295.3 469.5h8.4m-4.2 -4.2v8.4M296.3 463.5h8.4m-4.2 -4.2v8.4M351.3 479.5h8.4m-4.2 -4.2v8.4M346.3 456.5h8.4m-4.2 -4.2v8.4M304.3 358.5h8.4m-4.2 -4.2v8.4M301.3 321.5h8.4m-4.2 -4.2v8.4M355.3 467.5h8.4m-4.2 -4.2v8.4M344.3 476.5h8.4m-4.2 -4.2v8.4M297.3 446.5h8.4m-4.2 -4.2v8.4M302.3 474.5h8.4m-4.2 -4.2v8.4M291.3 472.5h8.4m-4.2 -4.2v8.4M300.3 345.5h8.4m-4.2 -4.2v8.4M297.3 443.5h8.4m-4.2 -4.2v8.4M336.3 428.5h8.4m-4.2 -4.2v8.4M292.3 437.5h8.4m-4.2 -4.2v8.4M289.3 466.5h8.4m-4.2 -4.2v8.4M275.3 367.5h8.4m-4.2 -4.2v8.4M280.3 270.5h8.4m-4.2 -4.2v8.4M331.3 353.5h8.4m-4.2 -4.2v8.4M298.3 367.5h8.4m-4.2 -4.2v8.4M326.3 262.5h8.4m-4.2 -4.2v8.4M289.3 318.5h8.4m-4.2 -4.2v8.4M298.3 345.5h8.4m-4.2 -4.2v8.4M301.3 286.5h8.4m-4.2 -4.2v8.4M285.3 256.5h8.4m-4.2 -4.2v8.4M304.3 359.5h8.4m-4.2 -4.2v8.4M303.3 339.5h8.4m-4.2 -4.2v8.4M285.3 262.5h8.4m-4.2 -4.2v8.4M326.3 284.5h8.4m-4.2 -4.2v8.4M318.3 321.5h8.4m-4.2 -4.2v8.4M316.3 345.5h8.4m-4.2 -4.2v8.4M297.3 330.5h8.4m-4.2 -4.2v8.4M327.3 353.5h8.4m-4.2 -4.2v8.4M328.3 341.5h8.4m-4.2 -4.2v8.4M284.3 309.5h8.4m-4.2 -4.2v8.4M278.3 293.5h8.4m-4.2 -4.2v8.4M305.3 309.5h8.4m-4.2 -4.2v8.4M310.3 329.5h8.4m-4.2 -4.2v8.4M308.3 351.5h8.4m-4.2 -4.2v8.4M281.3 364.5h8.4m-4.2 -4.2v8.4M275.3 286.5h8.4m-4.2 -4.2v8.4M274.3 359.5h8.4m-4.2 -4.2v8.4M277.3 320.5h8.4m-4.2 -4.2v8.4M319.3 286.5h8.4m-4.2 -4.2v8.4M315.3 357.5h8.4m-4.2 -4.2v8.4M295.3 280.5h8.4m-4.2 -4.2v8.4M344.3 285.5h8.4m-4.2 -4.2v8.4M305.3 320.5h8.4m-4.2 -4.2v8.4M303.3 323.5h8.4m-4.2 -4.2v8.4M342.3 347.5h8.4m-4.2 -4.2v8.4M310.3 272.5h8.4m-4.2 -4.2v8.4M302.3 347.5h8.4m-4.2 -4.2v8.4M325.3 284.5h8.4m-4.2 -4.2v8.4M322.3 317.5h8.4m-4.2 -4.2v8.4M283.3 353.5h8.4m-4.2 -4.2v8.4M304.3 315.5h8.4m-4.2 -4.2v8.4M280.3 330.5h8.4m-4.2 -4.2v8.4M296.3 325.5h8.4m-4.2 -4.2v8.4M306.3 361.5h8.4m-4.2 -4.2v8.4M294.3 300.5h8.4m-4.2 -4.2v8.4M288.3 262.5h8.4m-4.2 -4.2v8.4M307.3 319.5h8.4m-4.2 -4.2v8.4M284.3 366.5h8.4m-4.2 -4.2v8.4M296.3 343.5h8.4m-4.2 -4.2v8.4M301.3 298.5h8.4m-4.2 -4.2v8.4M322.3 340.5h8.4m-4.2 -4.2v8.4M322.3 343.5h8.4m-4.2 -4.2v8.4M284.3 320.5h8.4m-4.2 -4.2v8.4M308.3 332.5h8.4m-4.2 -4.2v8.4M315.3 319.5h8.4m-4.2 -4.2v8.4M280.3 315.5h8.4m-4.2 -4.2v8.4M282.3 367.5h8.4m-4.2 -4.2v8.4M319.3 343.5h8.4m-4.2 -4.2v8.4M317.3 335.5h8.4m-4.2 -4.2v8.4M286.3 315.5h8.4m-4.2 -4.2v8.4M303.3 336.5h8.4m-4.2 -4.2v8.4M284.3 366.5h8.4m-4.2 -4.2v8.4M300.3 362.5h8.4m-4.2 -4.2v8.4M309.3 285.5h8.4m-4.2 -4.2v8.4M282.3 346.5h8.4m-4.2 -4.2v8.4M310.3 343.5h8.4m-4.2 -4.2v8.4M322.3 346.5h8.4m-4.2 -4.2v8.4M313.3 340.5h8.4m-4.2 -4.2v8.4M320.3 333.5h8.4m-4.2 -4.2v8.4M315.3 312.5h8.4m-4.2 -4.2v8.4M307.3 326.5h8.4m-4.2 -4.2v8.4M308.3 334.5h8.4m-4.2 -4.2v8.4M314.3 267.5h8.4m-4.2 -4.2v8.4M311.3 360.5h8.4m-4.2 -4.2v8.4M304.3 276.5h8.4m-4.2 -4.2v8.4M294.3 308.5h8.4m-4.2 -4.2v8.4M274.3 251.5h8.4m-4.2 -4.2v8.4M286.3 350.5h8.4m-4.2 -4.2v8.4M295.3 349.5h8.4m-4.2 -4.2v8.4M310.3 359.5h8.4m-4.2 -4.2v8.4M333.3 359.5h8.4m-4.2 -4.2v8.4M312.3 278.5h8.4m-4.2 -4.2v8.4M304.3 245.5h8.4m-4.2 -4.2v8.4M309.3 296.5h8.4m-4.2 -4.2v8.4M290.3 273.5h8.4m-4.2 -4.2v8.4M277.3 364.5h8.4m-4.2 -4.2v8.4M303.3 340.5h8.4m-4.2 -4.2v8.4M332.3 361.5h8.4m-4.2 -4.2v8.4M284.3 261.5h8.4m-4.2 -4.2v8.4M331.3 338.5h8.4m-4.2 -4.2v8.4M309.3 303.5h8.4m-4.2 -4.2v8.4M294.3 321.5h8.4m-4.2 -4.2v8.4M283.3 345.5h8.4m-4.2 -4.2v8.4M298.3 371.5h8.4m-4.2 -4.2v8.4M310.3 299.5h8.4m-4.2 -4.2v8.4M283.3 306.5h8.4m-4.2 -4.2v8.4M291.3 363.5h8.4m-4.2 -4.2v8.4M317.3 363.5h8.4m-4.2 -4.2v8.4M288.3 366.5h8.4m-4.2 -4.2v8.4M296.3 337.5h8.4m-4.2 -4.2v8.4M281.3 317.5h8.4m-4.2 -4.2v8.4M303.3 292.5h8.4m-4.2 -4.2v8.4M275.3 330.5h8.4m-4.2 -4.2v8.4M296.3 341.5h8.4m-4.2 -4.2v8.4M307.3 343.5h8.4m-4.2 -4.2v8.4M303.3 309.5h8.4m-4.2 -4.2v8.4M299.3 290.5h8.4m-4.2 -4.2v8.4M282.3 309.5h8.4m-4.2 -4.2v8.4M295.3 344.5h8.4m-4.2 -4.2v8.4M280.3 344.5h8.4m-4.2 -4.2v8.4M305.3 335.5h8.4m-4.2 -4.2v8.4M290.3 347.5h8.4m-4.2 -4.2v8.4M282.3 281.5h8.4m-4.2 -4.2v8.4M312.3 324.5h8.4m-4.2 -4.2v8.4M311.3 330.5h8.4m-4.2 -4.2v8.4M328.3 356.5h8.4m-4.2 -4.2v8.4M295.3 368.5h8.4m-4.2 -4.2v8.4M281.3 330.5h8.4m-4.2 -4.2v8.4M287.3 298.5h8.4m-4.2 -4.2v8.4M286.3 281.5h8.4m-4.2 -4.2v8.4M280.3 365.5h8.4m-4.2 -4.2v8.4M300.3 365.5h8.4m-4.2 -4.2v8.4M288.3 318.5h8.4m-4.2 -4.2v8.4M287.3 353.5h8.4m-4.2 -4.2v8.4M314.3 325.5h8.4m-4.2 -4.2v8.4M308.3 335.5h8.4m-4.2 -4.2v8.4M286.3 355.5h8.4m-4.2 -4.2v8.4M330.3 312.5h8.4m-4.2 -4.2v8.4M293.3 308.5h8.4m-4.2 -4.2v8.4M287.3 298.5h8.4m-4.2 -4.2v8.4M329.3 357.5h8.4m-4.2 -4.2v8.4M294.3 341.5h8.4m-4.2 -4.2v8.4M307.3 365.5h8.4m-4.2 -4.2v8.4M283.3 365.5h8.4m-4.2 -4.2v8.4M299.3 367.5h8.4m-4.2 -4.2v8.4M321.3 340.5h8.4m-4.2 -4.2v8.4M308.3 353.5h8.4m-4.2 -4.2v8.4M289.3 322.5h8.4m-4.2 -4.2v8.4M309.3 338.5h8.4m-4.2 -4.2v8.4M307.3 297.5h8.4m-4.2 -4.2v8.4M318.3 297.5h8.4m-4.2 -4.2v8.4M306.3 289.5h8.4m-4.2 -4.2v8.4M318.3 300.5h8.4m-4.2 -4.2v8.4M317.3 346.5h8.4m-4.2 -4.2v8.4M308.3 342.5h8.4m-4.2 -4.2v8.4M300.3 246.5h8.4m-4.2 -4.2v8.4M289.3 285.5h8.4m-4.2 -4.2v8.4M290.3 346.5h8.4m-4.2 -4.2v8.4M292.3 280.5h8.4m-4.2 -4.2v8.4M300.3 335.5h8.4m-4.2 -4.2v8.4M309.3 305.5h8.4m-4.2 -4.2v8.4M341.3 282.5h8.4m-4.2 -4.2v8.4M302.3 277.5h8.4m-4.2 -4.2v8.4M280.3 262.5h8.4m-4.2 -4.2v8.4M276.3 365.5h8.4m-4.2 -4.2v8.4M286.3 303.5h8.4m-4.2 -4.2v8.4M283.3 367.5h8.4m-4.2 -4.2v8.4M285.3 308.5h8.4m-4.2 -4.2v8.4M298.3 341.5h8.4m-4.2 -4.2v8.4M306.3 333.5h8.4m-4.2 -4.2v8.4M319.3 360.5h8.4m-4.2 -4.2v8.4M308.3 339.5h8.4m-4.2 -4.2v8.4M313.3 335.5h8.4m-4.2 -4.2v8.4M306.3 328.5h8.4m-4.2 -4.2v8.4M304.3 364.5h8.4m-4.2 -4.2v8.4M313.3 278.5h8.4m-4.2 -4.2v8.4M321.3 250.5h8.4m-4.2 -4.2v8.4M311.3 271.5h8.4m-4.2 -4.2v8.4M290.3 262.5h8.4m-4.2 -4.2v8.4M322.3 304.5h8.4m-4.2 -4.2v8.4M336.3 307.5h8.4m-4.2 -4.2v8.4M291.3 345.5h8.4m-4.2 -4.2v8.4M282.3 340.5h8.4m-4.2 -4.2v8.4M318.3 306.5h8.4m-4.2 -4.2v8.4M306.3 292.5h8.4m-4.2 -4.2v8.4M293.3 330.5h8.4m-4.2 -4.2v8.4M300.3 363.5h8.4m-4.2 -4.2v8.4M313.3 286.5h8.4m-4.2 -4.2v8.4M323.3 365.5h8.4m-4.2 -4.2v8.4M304.3 355.5h8.4m-4.2 -4.2v8.4M324.3 294.5h8.4m-4.2 -4.2v8.4M307.3 346.5h8.4m-4.2 -4.2v8.4M289.3 257.5h8.4m-4.2 -4.2v8.4M318.3 349.5h8.4m-4.2 -4.2v8.4M317.3 338.5h8.4m-4.2 -4.2v8.4M300.3 328.5h8.4m-4.2 -4.2v8.4M318.3 345.5h8.4m-4.2 -4.2v8.4M283.3 257.5h8.4m-4.2 -4.2v8.4M301.3 369.5h8.4m-4.2 -4.2v8.4M308.3 328.5h8.4m-4.2 -4.2v8.4M300.3 346.5h8.4m-4.2 -4.2v8.4M290.3 298.5h8.4m-4.2 -4.2v8.4M288.3 273.5h8.4m-4.2 -4.2v8.4M305.3 291.5h8.4m-4.2 -4.2v8.4M291.3 361.5h8.4m-4.2 -4.2v8.4M296.3 335.5h8.4m-4.2 -4.2v8.4M296.3 369.5h8.4m-4.2 -4.2v8.4M315.3 254.5h8.4m-4.2 -4.2v8.4M277.3 354.5h8.4m-4.2 -4.2v8.4M289.3 308.5h8.4m-4.2 -4.2v8.4M320.3 329.5h8.4m-4.2 -4.2v8.4M306.3 309.5h8.4m-4.2 -4.2v8.4M315.3 291.5h8.4m-4.2 -4.2v8.4M293.3 326.5h8.4m-4.2 -4.2v8.4M299.3 326.5h8.4m-4.2 -4.2v8.4M298.3 321.5h8.4m-4.2 -4.2v8.4M311.3 336.5h8.4m-4.2 -4.2v8.4M302.3 358.5h8.4m-4.2 -4.2v8.4M316.3 251.5h8.4m-4.2 -4.2v8.4M301.3 310.5h8.4m-4.2 -4.2v8.4M276.3 249.5h8.4m-4.2 -4.2v8.4M295.3 306.5h8.4m-4.2 -4.2v8.4M293.3 318.5h8.4m-4.2 -4.2v8.4M292.3 279.5h8.4m-4.2 -4.2v8.4M296.3 313.5h8.4m-4.2 -4.2v8.4M298.3 306.5h8.4m-4.2 -4.2v8.4M302.3 305.5h8.4m-4.2 -4.2v8.4M280.3 356.5h8.4m-4.2 -4.2v8.4M291.3 340.5h8.4m-4.2 -4.2v8.4M318.3 311.5h8.4m-4.2 -4.2v8.4M302.3 334.5h8.4m-4.2 -4.2v8.4M314.3 351.5h8.4m-4.2 -4.2v8.4M298.3 316.5h8.4m-4.2 -4.2v8.4M312.3 277.5h8.4m-4.2 -4.2v8.4M319.3 364.5h8.4m-4.2 -4.2v8.4M278.3 304.5h8.4m-4.2 -4.2v8.4M282.3 284.5h8.4m-4.2 -4.2v8.4M306.3 361.5h8.4m-4.2 -4.2v8.4M282.3 357.5h8.4m-4.2 -4.2v8.4M284.3 261.5h8.4m-4.2 -4.2v8.4M303.3 284.5h8.4m-4.2 -4.2v8.4M307.3 275.5h8.4m-4.2 -4.2v8.4M315.3 326.5h8.4m-4.2 -4.2v8.4M296.3 306.5h8.4m-4.2 -4.2v8.4M308.3 310.5h8.4m-4.2 -4.2v8.4M297.3 368.5h8.4m-4.2 -4.2v8.4M309.3 343.5h8.4m-4.2 -4.2v8.4M281.3 335.5h8.4m-4.2 -4.2v8.4M286.3 293.5h8.4m-4.2 -4.2v8.4M295.3 301.5h8.4m-4.2 -4.2v8.4M279.3 275.5h8.4m-4.2 -4.2v8.4M337.3 337.5h8.4m-4.2 -4.2v8.4M319.3 264.5h8.4m-4.2 -4.2v8.4M284.3 324.5h8.4m-4.2 -4.2v8.4M314.3 369.5h8.4m-4.2 -4.2v8.4M282.3 330.5h8.4m-4.2 -4.2v8.4M277.3 368.5h8.4m-4.2 -4.2v8.4M316.3 285.5h8.4m-4.2 -4.2v8.4M283.3 298.5h8.4m-4.2 -4.2v8.4M310.3 364.5h8.4m-4.2 -4.2v8.4M312.3 338.5h8.4m-4.2 -4.2v8.4M315.3 352.5h8.4m-4.2 -4.2v8.4M292.3 264.5h8.4m-4.2 -4.2v8.4M305.3 360.5h8.4m-4.2 -4.2v8.4M288.3 281.5h8.4m-4.2 -4.2v8.4M292.3 351.5h8.4m-4.2 -4.2v8.4M292.3 291.5h8.4m-4.2 -4.2v8.4M315.3 255.5h8.4m-4.2 -4.2v8.4M308.3 376.5h8.4m-4.2 -4.2v8.4M284.3 314.5h8.4m-4.2 -4.2v8.4M294.3 381.5h8.4m-4.2 -4.2v8.4M295.3 273.5h8.4m-4.2 -4.2v8.4M291.3 301.5h8.4m-4.2 -4.2v8.4M289.3 255.5h8.4m-4.2 -4.2v8.4M301.3 339.5h8.4m-4.2 -4.2v8.4M315.3 308.5h8.4m-4.2 -4.2v8.4M303.3 344.5h8.4m-4.2 -4.2v8.4M293.3 362.5h8.4m-4.2 -4.2v8.4M312.3 249.5h8.4m-4.2 -4.2v8.4M280.3 344.5h8.4m-4.2 -4.2v8.4M294.3 329.5h8.4m-4.2 -4.2v8.4M293.3 259.5h8.4m-4.2 -4.2v8.4M300.3 266.5h8.4m-4.2 -4.2v8.4M313.3 300.5h8.4m-4.2 -4.2v8.4M301.3 354.5h8.4m-4.2 -4.2v8.4M282.3 319.5h8.4m-4.2 -4.2v8.4M297.3 340.5h8.4m-4.2 -4.2v8.4M303.3 258.5h8.4m-4.2 -4.2v8.4M287.3 380.5h8.4m-4.2 -4.2v8.4M307.3 356.5h8.4m-4.2 -4.2v8.4M295.3 313.5h8.4m-4.2 -4.2v8.4M290.3 260.5h8.4m-4.2 -4.2v8.4M294.3 330.5h8.4m-4.2 -4.2v8.4M314.3 275.5h8.4m-4.2 -4.2v8.4M300.3 284.5h8.4m-4.2 -4.2v8.4M294.3 262.5h8.4m-4.2 -4.2v8.4M293.3 320.5h8.4m-4.2 -4.2v8.4M314.3 333.5h8.4m-4.2 -4.2v8.4M283.3 333.5h8.4m-4.2 -4.2v8.4M305.3 275.5h8.4m-4.2 -4.2v8.4M311.3 343.5h8.4m-4.2 -4.2v8.4M313.3 335.5h8.4m-4.2 -4.2v8.4M312.3 379.5h8.4m-4.2 -4.2v8.4M290.3 301.5h8.4m-4.2 -4.2v8.4M288.3 385.5h8.4m-4.2 -4.2v8.4M292.3 388.5h8.4m-4.2 -4.2v8.4M305.3 342.5h8.4m-4.2 -4.2v8.4M299.3 342.5h8.4m-4.2 -4.2v8.4M320.3 372.5h8.4m-4.2 -4.2v8.4M296.3 281.5h8.4m-4.2 -4.2v8.4M294.3 316.5h8.4m-4.2 -4.2v8.4M306.3 289.5h8.4m-4.2 -4.2v8.4M298.3 323.5h8.4m-4.2 -4.2v8.4M295.3 319.5h8.4m-4.2 -4.2v8.4M308.3 324.5h8.4m-4.2 -4.2v8.4M307.3 275.5h8.4m-4.2 -4.2v8.4M300.3 351.5h8.4m-4.2 -4.2v8.4M308.3 343.5h8.4m-4.2 -4.2v8.4M302.3 320.5h8.4m-4.2 -4.2v8.4M295.3 365.5h8.4m-4.2 -4.2v8.4M303.3 327.5h8.4m-4.2 -4.2v8.4M308.3 333.5h8.4m-4.2 -4.2v8.4M301.3 327.5h8.4m-4.2 -4.2v8.4M310.3 299.5h8.4m-4.2 -4.2v8.4M283.3 298.5h8.4m-4.2 -4.2v8.4M308.3 260.5h8.4m-4.2 -4.2v8.4M298.3 331.5h8.4m-4.2 -4.2v8.4M312.3 283.5h8.4m-4.2 -4.2v8.4M307.3 269.5h8.4m-4.2 -4.2v8.4M288.3 302.5h8.4m-4.2 -4.2v8.4M295.3 340.5h8.4m-4.2 -4.2v8.4M284.3 251.5h8.4m-4.2 -4.2v8.4M309.3 377.5h8.4m-4.2 -4.2v8.4M287.3 321.5h8.4m-4.2 -4.2v8.4M327.3 257.5h8.4m-4.2 -4.2v8.4M301.3 339.5h8.4m-4.2 -4.2v8.4M299.3 254.5h8.4m-4.2 -4.2v8.4M294.3 253.5h8.4m-4.2 -4.2v8.4M321.3 369.5h8.4m-4.2 -4.2v8.4M297.3 351.5h8.4m-4.2 -4.2v8.4M303.3 317.5h8.4m-4.2 -4.2v8.4M304.3 248.5h8.4m-4.2 -4.2v8.4M300.3 333.5h8.4m-4.2 -4.2v8.4M307.3 336.5h8.4m-4.2 -4.2v8.4M312.3 370.5h8.4m-4.2 -4.2v8.4M287.3 291.5h8.4m-4.2 -4.2v8.4M314.3 255.5h8.4m-4.2 -4.2v8.4M301.3 284.5h8.4m-4.2 -4.2v8.4M306.3 351.5h8.4m-4.2 -4.2v8.4M288.3 324.5h8.4m-4.2 -4.2v8.4M316.3 282.5h8.4m-4.2 -4.2v8.4M297.3 327.5h8.4m-4.2 -4.2v8.4M293.3 385.5h8.4m-4.2 -4.2v8.4M292.3 318.5h8.4m-4.2 -4.2v8.4M298.3 275.5h8.4m-4.2 -4.2v8.4M310.3 282.5h8.4m-4.2 -4.2v8.4M304.3 294.5h8.4m-4.2 -4.2v8.4M287.3 306.5h8.4m-4.2 -4.2v8.4M304.3 263.5h8.4m-4.2 -4.2v8.4M297.3 305.5h8.4m-4.2 -4.2v8.4M310.3 345.5h8.4m-4.2 -4.2v8.4M295.3 370.5h8.4m-4.2 -4.2v8.4M316.3 318.5h8.4m-4.2 -4.2v8.4M298.3 381.5h8.4m-4.2 -4.2v8.4M279.3 315.5h8.4m-4.2 -4.2v8.4M297.3 247.5h8.4m-4.2 -4.2v8.4M303.3 254.5h8.4m-4.2 -4.2v8.4M283.3 269.5h8.4m-4.2 -4.2v8.4M306.3 341.5h8.4m-4.2 -4.2v8.4M306.3 251.5h8.4m-4.2 -4.2v8.4M302.3 359.5h8.4m-4.2 -4.2v8.4M317.3 333.5h8.4m-4.2 -4.2v8.4M304.3 369.5h8.4m-4.2 -4.2v8.4M308.3 274.5h8.4m-4.2 -4.2v8.4M300.3 360.5h8.4m-4.2 -4.2v8.4M331.3 362.5h8.4m-4.2 -4.2v8.4M309.3 301.5h8.4m-4.2 -4.2v8.4M310.3 303.5h8.4m-4.2 -4.2v8.4M304.3 252.5h8.4m-4.2 -4.2v8.4M305.3 247.5h8.4m-4.2 -4.2v8.4M285.3 378.5h8.4m-4.2 -4.2v8.4M298.3 297.5h8.4m-4.2 -4.2v8.4M305.3 365.5h8.4m-4.2 -4.2v8.4M297.3 324.5h8.4m-4.2 -4.2v8.4M278.3 251.5h8.4m-4.2 -4.2v8.4M303.3 372.5h8.4m-4.2 -4.2v8.4M301.3 361.5h8.4m-4.2 -4.2v8.4M286.3 466.5h8.4m-4.2 -4.2v8.4M274.3 417.5h8.4m-4.2 -4.2v8.4M286.3 449.5h8.4m-4.2 -4.2v8.4M287.3 376.5h8.4m-4.2 -4.2v8.4M289.3 431.5h8.4m-4.2 -4.2v8.4M268.3 450.5h8.4m-4.2 -4.2v8.4M281.3 419.5h8.4m-4.2 -4.2v8.4M284.3 464.5h8.4m-4.2 -4.2v8.4M281.3 434.5h8.4m-4.2 -4.2v8.4M283.3 352.5h8.4m-4.2 -4.2v8.4M286.3 367.5h8.4m-4.2 -4.2v8.4M282.3 462.5h8.4m-4.2 -4.2v8.4M286.3 460.5h8.4m-4.2 -4.2v8.4M285.3 428.5h8.4m-4.2 -4.2v8.4M278.3 383.5h8.4m-4.2 -4.2v8.4M285.3 379.5h8.4m-4.2 -4.2v8.4M282.3 430.5h8.4m-4.2 -4.2v8.4M287.3 468.5h8.4m-4.2 -4.2v8.4M280.3 341.5h8.4m-4.2 -4.2v8.4M289.3 391.5h8.4m-4.2 -4.2v8.4M284.3 470.5h8.4m-4.2 -4.2v8.4M285.3 418.5h8.4m-4.2 -4.2v8.4M289.3 410.5h8.4m-4.2 -4.2v8.4M282.3 469.5h8.4m-4.2 -4.2v8.4M286.3 292.5h8.4m-4.2 -4.2v8.4M288.3 448.5h8.4m-4.2 -4.2v8.4M268.3 464.5h8.4m-4.2 -4.2v8.4M288.3 356.5h8.4m-4.2 -4.2v8.4M283.3 469.5h8.4m-4.2 -4.2v8.4M272.3 387.5h8.4m-4.2 -4.2v8.4M273.3 457.5h8.4m-4.2 -4.2v8.4M287.3 467.5h8.4m-4.2 -4.2v8.4M280.3 452.5h8.4m-4.2 -4.2v8.4M285.3 440.5h8.4m-4.2 -4.2v8.4M284.3 377.5h8.4m-4.2 -4.2v8.4M277.3 447.5h8.4m-4.2 -4.2v8.4M288.3 422.5h8.4m-4.2 -4.2v8.4M287.3 456.5h8.4m-4.2 -4.2v8.4M286.3 459.5h8.4m-4.2 -4.2v8.4M269.3 447.5h8.4m-4.2 -4.2v8.4M285.3 448.5h8.4m-4.2 -4.2v8.4M286.3 452.5h8.4m-4.2 -4.2v8.4M286.3 303.5h8.4m-4.2 -4.2v8.4M281.3 330.5h8.4m-4.2 -4.2v8.4M280.3 466.5h8.4m-4.2 -4.2v8.4M286.3 368.5h8.4m-4.2 -4.2v8.4M280.3 344.5h8.4m-4.2 -4.2v8.4M288.3 422.5h8.4m-4.2 -4.2v8.4M286.3 366.5h8.4m-4.2 -4.2v8.4M289.3 321.5h8.4m-4.2 -4.2v8.4M285.3 366.5h8.4m-4.2 -4.2v8.4M278.3 411.5h8.4m-4.2 -4.2v8.4M280.3 453.5h8.4m-4.2 -4.2v8.4M269.3 437.5h8.4m-4.2 -4.2v8.4M285.3 452.5h8.4m-4.2 -4.2v8.4M286.3 470.5h8.4m-4.2 -4.2v8.4M277.3 341.5h8.4m-4.2 -4.2v8.4M288.3 457.5h8.4m-4.2 -4.2v8.4M283.3 382.5h8.4m-4.2 -4.2v8.4M280.3 385.5h8.4m-4.2 -4.2v8.4M283.3 349.5h8.4m-4.2 -4.2v8.4M283.3 427.5h8.4m-4.2 -4.2v8.4M276.3 445.5h8.4m-4.2 -4.2v8.4M284.3 422.5h8.4m-4.2 -4.2v8.4M279.3 466.5h8.4m-4.2 -4.2v8.4M287.3 443.5h8.4m-4.2 -4.2v8.4M282.3 455.5h8.4m-4.2 -4.2v8.4M283.3 432.5h8.4m-4.2 -4.2v8.4M277.3 423.5h8.4m-4.2 -4.2v8.4M284.3 404.5h8.4m-4.2 -4.2v8.4M286.3 469.5h8.4m-4.2 -4.2v8.4M287.3 468.5h8.4m-4.2 -4.2v8.4M289.3 294.5h8.4m-4.2 -4.2v8.4M271.3 344.5h8.4m-4.2 -4.2v8.4M280.3 449.5h8.4m-4.2 -4.2v8.4M283.3 448.5h8.4m-4.2 -4.2v8.4M280.3 413.5h8.4m-4.2 -4.2v8.4M286.3 369.5h8.4m-4.2 -4.2v8.4M286.3 459.5h8.4m-4.2 -4.2v8.4M289.3 459.5h8.4m-4.2 -4.2v8.4M281.3 442.5h8.4m-4.2 -4.2v8.4M288.3 468.5h8.4m-4.2 -4.2v8.4M288.3 412.5h8.4m-4.2 -4.2v8.4M270.3 469.5h8.4m-4.2 -4.2v8.4M285.3 472.5h8.4m-4.2 -4.2v8.4M281.3 469.5h8.4m-4.2 -4.2v8.4M271.3 468.5h8.4m-4.2 -4.2v8.4M285.3 459.5h8.4m-4.2 -4.2v8.4M287.3 446.5h8.4m-4.2 -4.2v8.4M283.3 469.5h8.4m-4.2 -4.2v8.4M285.3 466.5h8.4m-4.2 -4.2v8.4M275.3 470.5h8.4m-4.2 -4.2v8.4M286.3 455.5h8.4m-4.2 -4.2v8.4M276.3 468.5h8.4m-4.2 -4.2v8.4M273.3 466.5h8.4m-4.2 -4.2v8.4M272.3 468.5h8.4m-4.2 -4.2v8.4M275.3 469.5h8.4m-4.2 -4.2v8.4M287.3 445.5h8.4m-4.2 -4.2v8.4M285.3 470.5h8.4m-4.2 -4.2v8.4M278.3 451.5h8.4m-4.2 -4.2v8.4M284.3 462.5h8.4m-4.2 -4.2v8.4M271.3 461.5h8.4m-4.2 -4.2v8.4M274.3 467.5h8.4m-4.2 -4.2v8.4M278.3 453.5h8.4m-4.2 -4.2v8.4M285.3 472.5h8.4m-4.2 -4.2v8.4M288.3 464.5h8.4m-4.2 -4.2v8.4M283.3 468.5h8.4m-4.2 -4.2v8.4M287.3 468.5h8.4m-4.2 -4.2v8.4M273.3 472.5h8.4m-4.2 -4.2v8.4M270.3 466.5h8.4m-4.2 -4.2v8.4M276.3 468.5h8.4m-4.2 -4.2v8.4M283.3 467.5h8.4m-4.2 -4.2v8.4M274.3 471.5h8.4m-4.2 -4.2v8.4M277.3 471.5h8.4m-4.2 -4.2v8.4M288.3 464.5h8.4m-4.2 -4.2v8.4M279.3 467.5h8.4m-4.2 -4.2v8.4M285.3 448.5h8.4m-4.2 -4.2v8.4M272.3 467.5h8.4m-4.2 -4.2v8.4M270.3 471.5h8.4m-4.2 -4.2v8.4M273.3 467.5h8.4m-4.2 -4.2v8.4M279.3 472.5h8.4m-4.2 -4.2v8.4M285.3 469.5h8.4m-4.2 -4.2v8.4M286.3 471.5h8.4m-4.2 -4.2v8.4M274.3 462.5h8.4m-4.2 -4.2v8.4M288.3 458.5h8.4m-4.2 -4.2v8.4M278.3 459.5h8.4m-4.2 -4.2v8.4M276.3 461.5h8.4m-4.2 -4.2v8.4M280.3 464.5h8.4m-4.2 -4.2v8.4M271.3 469.5h8.4m-4.2 -4.2v8.4M285.3 469.5h8.4m-4.2 -4.2v8.4M270.3 461.5h8.4m-4.2 -4.2v8.4M272.3 466.5h8.4m-4.2 -4.2v8.4M281.3 462.5h8.4m-4.2 -4.2v8.4M279.3 471.5h8.4m-4.2 -4.2v8.4M275.3 465.5h8.4m-4.2 -4.2v8.4M276.3 466.5h8.4m-4.2 -4.2v8.4M286.3 469.5h8.4m-4.2 -4.2v8.4M288.3 460.5h8.4m-4.2 -4.2v8.4M287.3 467.5h8.4m-4.2 -4.2v8.4M271.3 461.5h8.4m-4.2 -4.2v8.4M279.3 465.5h8.4m-4.2 -4.2v8.4M287.3 471.5h8.4m-4.2 -4.2v8.4M280.3 462.5h8.4m-4.2 -4.2v8.4M278.3 469.5h8.4m-4.2 -4.2v8.4M273.3 470.5h8.4m-4.2 -4.2v8.4M274.3 467.5h8.4m-4.2 -4.2v8.4M288.3 471.5h8.4m-4.2 -4.2v8.4M283.3 458.5h8.4m-4.2 -4.2v8.4M284.3 455.5h8.4m-4.2 -4.2v8.4M283.3 468.5h8.4m-4.2 -4.2v8.4M288.3 467.5h8.4m-4.2 -4.2v8.4M279.3 464.5h8.4m-4.2 -4.2v8.4M285.3 468.5h8.4m-4.2 -4.2v8.4M283.3 464.5h8.4m-4.2 -4.2v8.4M290.3 462.5h8.4m-4.2 -4.2v8.4M278.3 464.5h8.4m-4.2 -4.2v8.4M275.3 474.5h8.4m-4.2 -4.2v8.4M272.3 469.5h8.4m-4.2 -4.2v8.4M286.3 460.5h8.4m-4.2 -4.2v8.4M282.3 465.5h8.4m-4.2 -4.2v8.4M276.3 459.5h8.4m-4.2 -4.2v8.4M272.3 473.5h8.4m-4.2 -4.2v8.4M284.3 466.5h8.4m-4.2 -4.2v8.4M284.3 464.5h8.4m-4.2 -4.2v8.4M283.3 466.5h8.4m-4.2 -4.2v8.4M284.3 455.5h8.4m-4.2 -4.2v8.4M285.3 469.5h8.4m-4.2 -4.2v8.4M282.3 445.5h8.4m-4.2 -4.2v8.4M288.3 471.5h8.4m-4.2 -4.2v8.4M288.3 465.5h8.4m-4.2 -4.2v8.4M284.3 454.5h8.4m-4.2 -4.2v8.4M271.3 459.5h8.4m-4.2 -4.2v8.4M284.3 469.5h8.4m-4.2 -4.2v8.4M278.3 474.5h8.4m-4.2 -4.2v8.4M277.3 459.5h8.4m-4.2 -4.2v8.4M276.3 469.5h8.4m-4.2 -4.2v8.4M274.3 470.5h8.4m-4.2 -4.2v8.4M286.3 468.5h8.4m-4.2 -4.2v8.4M271.3 462.5h8.4m-4.2 -4.2v8.4M272.3 451.5h8.4m-4.2 -4.2v8.4M278.3 468.5h8.4m-4.2 -4.2v8.4M277.3 468.5h8.4m-4.2 -4.2v8.4M271.3 467.5h8.4m-4.2 -4.2v8.4M276.3 467.5h8.4m-4.2 -4.2v8.4M276.3 473.5h8.4m-4.2 -4.2v8.4M289.3 471.5h8.4m-4.2 -4.2v8.4M287.3 468.5h8.4m-4.2 -4.2v8.4M280.3 467.5h8.4m-4.2 -4.2v8.4M281.3 469.5h8.4m-4.2 -4.2v8.4M285.3 467.5h8.4m-4.2 -4.2v8.4M283.3 473.5h8.4m-4.2 -4.2v8.4M287.3 463.5h8.4m-4.2 -4.2v8.4M286.3 465.5h8.4m-4.2 -4.2v8.4M274.3 471.5h8.4m-4.2 -4.2v8.4M271.3 471.5h8.4m-4.2 -4.2v8.4M280.3 463.5h8.4m-4.2 -4.2v8.4M271.3 467.5h8.4m-4.2 -4.2v8.4M281.3 471.5h8.4m-4.2 -4.2v8.4M281.3 465.5h8.4m-4.2 -4.2v8.4M279.3 472.5h8.4m-4.2 -4.2v8.4M287.3 466.5h8.4m-4.2 -4.2v8.4M281.3 467.5h8.4m-4.2 -4.2v8.4M277.3 464.5h8.4m-4.2 -4.2v8.4M363.3 429.5h8.4m-4.2 -4.2v8.4M364.3 402.5h8.4m-4.2 -4.2v8.4M350.3 430.5h8.4m-4.2 -4.2v8.4M353.3 387.5h8.4m-4.2 -4.2v8.4M339.3 357.5h8.4m-4.2 -4.2v8.4M361.3 412.5h8.4m-4.2 -4.2v8.4M342.3 351.5h8.4m-4.2 -4.2v8.4M336.3 411.5h8.4m-4.2 -4.2v8.4M368.3 432.5h8.4m-4.2 -4.2v8.4M356.3 413.5h8.4m-4.2 -4.2v8.4M336.3 341.5h8.4m-4.2 -4.2v8.4M341.3 297.5h8.4m-4.2 -4.2v8.4M360.3 423.5h8.4m-4.2 -4.2v8.4M337.3 396.5h8.4m-4.2 -4.2v8.4M347.3 400.5h8.4m-4.2 -4.2v8.4M344.3 397.5h8.4m-4.2 -4.2v8.4M363.3 335.5h8.4m-4.2 -4.2v8.4M336.3 368.5h8.4m-4.2 -4.2v8.4M334.3 390.5h8.4m-4.2 -4.2v8.4M336.3 353.5h8.4m-4.2 -4.2v8.4M337.3 245.5h8.4m-4.2 -4.2v8.4M332.3 338.5h8.4m-4.2 -4.2v8.4M322.3 280.5h8.4m-4.2 -4.2v8.4M348.3 415.5h8.4m-4.2 -4.2v8.4M333.3 378.5h8.4m-4.2 -4.2v8.4M367.3 413.5h8.4m-4.2 -4.2v8.4M327.3 357.5h8.4m-4.2 -4.2v8.4M200.3 385.5h8.4m-4.2 -4.2v8.4M205.3 397.5h8.4m-4.2 -4.2v8.4M201.3 400.5h8.4m-4.2 -4.2v8.4M208.3 379.5h8.4m-4.2 -4.2v8.4M205.3 401.5h8.4m-4.2 -4.2v8.4M206.3 390.5h8.4m-4.2 -4.2v8.4M219.3 401.5h8.4m-4.2 -4.2v8.4M187.3 393.5h8.4m-4.2 -4.2v8.4M192.3 396.5h8.4m-4.2 -4.2v8.4M210.3 380.5h8.4m-4.2 -4.2v8.4M192.3 357.5h8.4m-4.2 -4.2v8.4M216.3 383.5h8.4m-4.2 -4.2v8.4M212.3 370.5h8.4m-4.2 -4.2v8.4M208.3 401.5h8.4m-4.2 -4.2v8.4M199.3 387.5h8.4m-4.2 -4.2v8.4M210.3 390.5h8.4m-4.2 -4.2v8.4M192.3 392.5h8.4m-4.2 -4.2v8.4M200.3 401.5h8.4m-4.2 -4.2v8.4M216.3 416.5h8.4m-4.2 -4.2v8.4M223.3 409.5h8.4m-4.2 -4.2v8.4M193.3 421.5h8.4m-4.2 -4.2v8.4M187.3 367.5h8.4m-4.2 -4.2v8.4M218.3 381.5h8.4m-4.2 -4.2v8.4M187.3 403.5h8.4m-4.2 -4.2v8.4M199.3 376.5h8.4m-4.2 -4.2v8.4M186.3 382.5h8.4m-4.2 -4.2v8.4M213.3 394.5h8.4m-4.2 -4.2v8.4M212.3 401.5h8.4m-4.2 -4.2v8.4M193.3 402.5h8.4m-4.2 -4.2v8.4M197.3 354.5h8.4m-4.2 -4.2v8.4M198.3 419.5h8.4m-4.2 -4.2v8.4M204.3 402.5h8.4m-4.2 -4.2v8.4M198.3 428.5h8.4m-4.2 -4.2v8.4M196.3 378.5h8.4m-4.2 -4.2v8.4M209.3 382.5h8.4m-4.2 -4.2v8.4M203.3 395.5h8.4m-4.2 -4.2v8.4M206.3 410.5h8.4m-4.2 -4.2v8.4M212.3 431.5h8.4m-4.2 -4.2v8.4M206.3 404.5h8.4m-4.2 -4.2v8.4M196.3 415.5h8.4m-4.2 -4.2v8.4M210.3 416.5h8.4m-4.2 -4.2v8.4M215.3 368.5h8.4m-4.2 -4.2v8.4M196.3 404.5h8.4m-4.2 -4.2v8.4M202.3 407.5h8.4m-4.2 -4.2v8.4M207.3 391.5h8.4m-4.2 -4.2v8.4M208.3 412.5h8.4m-4.2 -4.2v8.4M194.3 405.5h8.4m-4.2 -4.2v8.4M200.3 377.5h8.4m-4.2 -4.2v8.4M208.3 385.5h8.4m-4.2 -4.2v8.4M212.3 386.5h8.4m-4.2 -4.2v8.4M215.3 379.5h8.4m-4.2 -4.2v8.4M198.3 393.5h8.4m-4.2 -4.2v8.4M192.3 368.5h8.4m-4.2 -4.2v8.4M200.3 403.5h8.4m-4.2 -4.2v8.4M209.3 417.5h8.4m-4.2 -4.2v8.4M199.3 413.5h8.4m-4.2 -4.2v8.4M189.3 374.5h8.4m-4.2 -4.2v8.4M211.3 405.5h8.4m-4.2 -4.2v8.4M200.3 358.5h8.4m-4.2 -4.2v8.4M196.3 399.5h8.4m-4.2 -4.2v8.4M206.3 374.5h8.4m-4.2 -4.2v8.4M200.3 360.5h8.4m-4.2 -4.2v8.4M207.3 393.5h8.4m-4.2 -4.2v8.4M197.3 381.5h8.4m-4.2 -4.2v8.4M211.3 374.5h8.4m-4.2 -4.2v8.4M186.3 368.5h8.4m-4.2 -4.2v8.4M193.3 378.5h8.4m-4.2 -4.2v8.4M205.3 396.5h8.4m-4.2 -4.2v8.4M187.3 403.5h8.4m-4.2 -4.2v8.4M194.3 400.5h8.4m-4.2 -4.2v8.4M196.3 398.5h8.4m-4.2 -4.2v8.4M214.3 380.5h8.4m-4.2 -4.2v8.4M214.3 391.5h8.4m-4.2 -4.2v8.4M213.3 379.5h8.4m-4.2 -4.2v8.4M202.3 408.5h8.4m-4.2 -4.2v8.4M200.3 386.5h8.4m-4.2 -4.2v8.4M191.3 393.5h8.4m-4.2 -4.2v8.4M193.3 373.5h8.4m-4.2 -4.2v8.4M201.3 374.5h8.4m-4.2 -4.2v8.4M209.3 360.5h8.4m-4.2 -4.2v8.4M211.3 377.5h8.4m-4.2 -4.2v8.4M206.3 344.5h8.4m-4.2 -4.2v8.4M207.3 399.5h8.4m-4.2 -4.2v8.4M197.3 387.5h8.4m-4.2 -4.2v8.4M204.3 376.5h8.4m-4.2 -4.2v8.4M185.3 403.5h8.4m-4.2 -4.2v8.4M191.3 367.5h8.4m-4.2 -4.2v8.4M193.3 393.5h8.4m-4.2 -4.2v8.4M207.3 414.5h8.4m-4.2 -4.2v8.4M188.3 402.5h8.4m-4.2 -4.2v8.4M189.3 387.5h8.4m-4.2 -4.2v8.4M208.3 434.5h8.4m-4.2 -4.2v8.4M185.3 403.5h8.4m-4.2 -4.2v8.4M217.3 409.5h8.4m-4.2 -4.2v8.4M184.3 445.5h8.4m-4.2 -4.2v8.4M234.3 378.5h8.4m-4.2 -4.2v8.4M218.3 397.5h8.4m-4.2 -4.2v8.4M222.3 392.5h8.4m-4.2 -4.2v8.4M232.3 411.5h8.4m-4.2 -4.2v8.4M220.3 427.5h8.4m-4.2 -4.2v8.4M221.3 386.5h8.4m-4.2 -4.2v8.4M229.3 413.5h8.4m-4.2 -4.2v8.4M234.3 388.5h8.4m-4.2 -4.2v8.4M229.3 397.5h8.4m-4.2 -4.2v8.4M231.3 380.5h8.4m-4.2 -4.2v8.4M217.3 410.5h8.4m-4.2 -4.2v8.4M234.3 363.5h8.4m-4.2 -4.2v8.4M234.3 416.5h8.4m-4.2 -4.2v8.4M223.3 353.5h8.4m-4.2 -4.2v8.4M231.3 394.5h8.4m-4.2 -4.2v8.4M226.3 365.5h8.4m-4.2 -4.2v8.4M229.3 383.5h8.4m-4.2 -4.2v8.4M218.3 402.5h8.4m-4.2 -4.2v8.4M225.3 416.5h8.4m-4.2 -4.2v8.4M224.3 379.5h8.4m-4.2 -4.2v8.4M226.3 438.5h8.4m-4.2 -4.2v8.4M231.3 389.5h8.4m-4.2 -4.2v8.4M207.3 433.5h8.4m-4.2 -4.2v8.4M196.3 454.5h8.4m-4.2 -4.2v8.4M194.3 456.5h8.4m-4.2 -4.2v8.4M199.3 437.5h8.4m-4.2 -4.2v8.4M193.3 421.5h8.4m-4.2 -4.2v8.4M199.3 449.5h8.4m-4.2 -4.2v8.4M190.3 448.5h8.4m-4.2 -4.2v8.4M198.3 426.5h8.4m-4.2 -4.2v8.4M200.3 458.5h8.4m-4.2 -4.2v8.4M203.3 465.5h8.4m-4.2 -4.2v8.4M192.3 436.5h8.4m-4.2 -4.2v8.4M201.3 428.5h8.4m-4.2 -4.2v8.4M203.3 435.5h8.4m-4.2 -4.2v8.4M194.3 434.5h8.4m-4.2 -4.2v8.4M196.3 420.5h8.4m-4.2 -4.2v8.4M200.3 434.5h8.4m-4.2 -4.2v8.4M202.3 438.5h8.4m-4.2 -4.2v8.4M191.3 448.5h8.4m-4.2 -4.2v8.4M198.3 431.5h8.4m-4.2 -4.2v8.4M207.3 462.5h8.4m-4.2 -4.2v8.4M202.3 430.5h8.4m-4.2 -4.2v8.4M180.3 463.5h8.4m-4.2 -4.2v8.4M191.3 424.5h8.4m-4.2 -4.2v8.4M200.3 433.5h8.4m-4.2 -4.2v8.4M195.3 459.5h8.4m-4.2 -4.2v8.4M193.3 453.5h8.4m-4.2 -4.2v8.4M199.3 436.5h8.4m-4.2 -4.2v8.4M194.3 425.5h8.4m-4.2 -4.2v8.4M191.3 452.5h8.4m-4.2 -4.2v8.4M201.3 435.5h8.4m-4.2 -4.2v8.4M204.3 463.5h8.4m-4.2 -4.2v8.4M199.3 426.5h8.4m-4.2 -4.2v8.4M198.3 432.5h8.4m-4.2 -4.2v8.4M180.3 447.5h8.4m-4.2 -4.2v8.4M213.3 292.5h8.4m-4.2 -4.2v8.4M196.3 275.5h8.4m-4.2 -4.2v8.4M214.3 276.5h8.4m-4.2 -4.2v8.4M204.3 264.5h8.4m-4.2 -4.2v8.4M185.3 351.5h8.4m-4.2 -4.2v8.4M199.3 339.5h8.4m-4.2 -4.2v8.4M219.3 289.5h8.4m-4.2 -4.2v8.4M198.3 315.5h8.4m-4.2 -4.2v8.4M192.3 340.5h8.4m-4.2 -4.2v8.4M194.3 247.5h8.4m-4.2 -4.2v8.4M217.3 353.5h8.4m-4.2 -4.2v8.4M166.3 335.5h8.4m-4.2 -4.2v8.4M202.3 305.5h8.4m-4.2 -4.2v8.4M218.3 258.5h8.4m-4.2 -4.2v8.4M216.3 309.5h8.4m-4.2 -4.2v8.4M195.3 295.5h8.4m-4.2 -4.2v8.4M213.3 262.5h8.4m-4.2 -4.2v8.4M202.3 317.5h8.4m-4.2 -4.2v8.4M212.3 351.5h8.4m-4.2 -4.2v8.4M226.3 308.5h8.4m-4.2 -4.2v8.4M207.3 258.5h8.4m-4.2 -4.2v8.4M197.3 314.5h8.4m-4.2 -4.2v8.4M196.3 351.5h8.4m-4.2 -4.2v8.4M236.3 354.5h8.4m-4.2 -4.2v8.4M215.3 329.5h8.4m-4.2 -4.2v8.4M204.3 288.5h8.4m-4.2 -4.2v8.4M194.3 289.5h8.4m-4.2 -4.2v8.4M192.3 261.5h8.4m-4.2 -4.2v8.4M206.3 283.5h8.4m-4.2 -4.2v8.4M198.3 325.5h8.4m-4.2 -4.2v8.4M224.3 314.5h8.4m-4.2 -4.2v8.4M207.3 307.5h8.4m-4.2 -4.2v8.4M189.3 334.5h8.4m-4.2 -4.2v8.4M196.3 354.5h8.4m-4.2 -4.2v8.4M204.3 250.5h8.4m-4.2 -4.2v8.4M184.3 324.5h8.4m-4.2 -4.2v8.4M218.3 252.5h8.4m-4.2 -4.2v8.4M199.3 290.5h8.4m-4.2 -4.2v8.4M250.3 449.5h8.4m-4.2 -4.2v8.4M273.3 340.5h8.4m-4.2 -4.2v8.4M259.3 391.5h8.4m-4.2 -4.2v8.4M235.3 427.5h8.4m-4.2 -4.2v8.4M248.3 377.5h8.4m-4.2 -4.2v8.4M273.3 448.5h8.4m-4.2 -4.2v8.4M248.3 423.5h8.4m-4.2 -4.2v8.4M246.3 422.5h8.4m-4.2 -4.2v8.4M274.3 245.5h8.4m-4.2 -4.2v8.4M238.3 424.5h8.4m-4.2 -4.2v8.4M236.3 456.5h8.4m-4.2 -4.2v8.4M321.3 478.5h8.4m-4.2 -4.2v8.4M338.3 483.5h8.4m-4.2 -4.2v8.4M335.3 483.5h8.4m-4.2 -4.2v8.4M342.3 483.5h8.4m-4.2 -4.2v8.4M342.3 483.5h8.4m-4.2 -4.2v8.4M343.3 478.5h8.4m-4.2 -4.2v8.4M340.3 481.5h8.4m-4.2 -4.2v8.4M344.3 488.5h8.4m-4.2 -4.2v8.4M341.3 486.5h8.4m-4.2 -4.2v8.4M334.3 482.5h8.4m-4.2 -4.2v8.4M344.3 482.5h8.4m-4.2 -4.2v8.4M338.3 486.5h8.4m-4.2 -4.2v8.4M345.3 478.5h8.4m-4.2 -4.2v8.4M343.3 481.5h8.4m-4.2 -4.2v8.4M335.3 487.5h8.4m-4.2 -4.2v8.4M347.3 478.5h8.4m-4.2 -4.2v8.4M344.3 480.5h8.4m-4.2 -4.2v8.4M338.3 484.5h8.4m-4.2 -4.2v8.4M325.3 478.5h8.4m-4.2 -4.2v8.4M347.3 483.5h8.4m-4.2 -4.2v8.4M326.3 489.5h8.4m-4.2 -4.2v8.4M334.3 485.5h8.4m-4.2 -4.2v8.4M326.3 484.5h8.4m-4.2 -4.2v8.4M330.3 489.5h8.4m-4.2 -4.2v8.4M347.3 483.5h8.4m-4.2 -4.2v8.4M336.3 482.5h8.4m-4.2 -4.2v8.4M338.3 484.5h8.4m-4.2 -4.2v8.4M336.3 480.5h8.4m-4.2 -4.2v8.4M340.3 479.5h8.4m-4.2 -4.2v8.4M330.3 479.5h8.4m-4.2 -4.2v8.4M326.3 480.5h8.4m-4.2 -4.2v8.4M342.3 482.5h8.4m-4.2 -4.2v8.4M337.3 482.5h8.4m-4.2 -4.2v8.4M331.3 483.5h8.4m-4.2 -4.2v8.4M343.3 485.5h8.4m-4.2 -4.2v8.4M337.3 482.5h8.4m-4.2 -4.2v8.4M333.3 482.5h8.4m-4.2 -4.2v8.4M335.3 480.5h8.4m-4.2 -4.2v8.4M326.3 482.5h8.4m-4.2 -4.2v8.4M322.3 482.5h8.4m-4.2 -4.2v8.4M166.3 402.5h8.4m-4.2 -4.2v8.4M199.3 472.5h8.4m-4.2 -4.2v8.4M196.3 496.5h8.4m-4.2 -4.2v8.4M372.3 248.5h8.4m-4.2 -4.2v8.4M296.3 62.5h8.4m-4.2 -4.2v8.4M294.3 68.5h8.4m-4.2 -4.2v8.4M303.3 69.5h8.4m-4.2 -4.2v8.4M304.3 69.5h8.4m-4.2 -4.2v8.4M306.3 70.5h8.4m-4.2 -4.2v8.4M307.3 70.5h8.4m-4.2 -4.2v8.4M310.3 70.5h8.4m-4.2 -4.2v8.4M259.3 261.5h8.4m-4.2 -4.2v8.4M262.3 264.5h8.4m-4.2 -4.2v8.4M262.3 276.5h8.4m-4.2 -4.2v8.4M243.3 291.5h8.4m-4.2 -4.2v8.4M266.3 288.5h8.4m-4.2 -4.2v8.4M261.3 290.5h8.4m-4.2 -4.2v8.4M259.3 299.5h8.4m-4.2 -4.2v8.4M266.3 301.5h8.4m-4.2 -4.2v8.4M260.3 301.5h8.4m-4.2 -4.2v8.4M262.3 296.5h8.4m-4.2 -4.2v8.4M254.3 330.5h8.4m-4.2 -4.2v8.4M226.3 343.5h8.4m-4.2 -4.2v8.4M207.3 353.5h8.4m-4.2 -4.2v8.4M261.3 343.5h8.4m-4.2 -4.2v8.4M266.3 350.5h8.4m-4.2 -4.2v8.4M264.3 353.5h8.4m-4.2 -4.2v8.4M261.3 359.5h8.4m-4.2 -4.2v8.4M267.3 337.5h8.4m-4.2 -4.2v8.4M252.3 373.5h8.4m-4.2 -4.2v8.4M249.3 376.5h8.4m-4.2 -4.2v8.4M226.3 384.5h8.4m-4.2 -4.2v8.4M231.3 383.5h8.4m-4.2 -4.2v8.4M243.3 386.5h8.4m-4.2 -4.2v8.4M267.3 385.5h8.4m-4.2 -4.2v8.4M262.3 393.5h8.4m-4.2 -4.2v8.4M266.3 397.5h8.4m-4.2 -4.2v8.4M264.3 391.5h8.4m-4.2 -4.2v8.4M245.3 407.5h8.4m-4.2 -4.2v8.4M226.3 416.5h8.4m-4.2 -4.2v8.4M248.3 422.5h8.4m-4.2 -4.2v8.4M233.3 442.5h8.4m-4.2 -4.2v8.4M190.3 443.5h8.4m-4.2 -4.2v8.4M262.3 445.5h8.4m-4.2 -4.2v8.4M268.3 447.5h8.4m-4.2 -4.2v8.4M266.3 450.5h8.4m-4.2 -4.2v8.4M193.3 459.5h8.4m-4.2 -4.2v8.4M197.3 461.5h8.4m-4.2 -4.2v8.4M224.3 465.5h8.4m-4.2 -4.2v8.4M213.3 464.5h8.4m-4.2 -4.2v8.4M256.3 470.5h8.4m-4.2 -4.2v8.4M217.3 466.5h8.4m-4.2 -4.2v8.4M204.3 461.5h8.4m-4.2 -4.2v8.4M241.3 464.5h8.4m-4.2 -4.2v8.4M225.3 467.5h8.4m-4.2 -4.2v8.4M232.3 465.5h8.4m-4.2 -4.2v8.4M222.3 463.5h8.4m-4.2 -4.2v8.4M251.3 463.5h8.4m-4.2 -4.2v8.4M210.3 461.5h8.4m-4.2 -4.2v8.4M209.3 468.5h8.4m-4.2 -4.2v8.4M229.3 463.5h8.4m-4.2 -4.2v8.4M270.3 461.5h8.4m-4.2 -4.2v8.4M239.3 472.5h8.4m-4.2 -4.2v8.4M271.3 465.5h8.4m-4.2 -4.2v8.4M241.3 463.5h8.4m-4.2 -4.2v8.4M244.3 462.5h8.4m-4.2 -4.2v8.4M250.3 465.5h8.4m-4.2 -4.2v8.4M244.3 472.5h8.4m-4.2 -4.2v8.4M239.3 465.5h8.4m-4.2 -4.2v8.4M208.3 459.5h8.4m-4.2 -4.2v8.4M250.3 460.5h8.4m-4.2 -4.2v8.4M259.3 461.5h8.4m-4.2 -4.2v8.4M219.3 461.5h8.4m-4.2 -4.2v8.4M234.3 459.5h8.4m-4.2 -4.2v8.4M236.3 465.5h8.4m-4.2 -4.2v8.4M211.3 467.5h8.4m-4.2 -4.2v8.4M258.3 469.5h8.4m-4.2 -4.2v8.4M242.3 460.5h8.4m-4.2 -4.2v8.4M252.3 468.5h8.4m-4.2 -4.2v8.4M248.3 462.5h8.4m-4.2 -4.2v8.4M270.3 466.5h8.4m-4.2 -4.2v8.4M267.3 459.5h8.4m-4.2 -4.2v8.4M230.3 465.5h8.4m-4.2 -4.2v8.4M230.3 464.5h8.4m-4.2 -4.2v8.4M238.3 469.5h8.4m-4.2 -4.2v8.4M209.3 463.5h8.4m-4.2 -4.2v8.4M184.3 472.5h8.4m-4.2 -4.2v8.4M191.3 444.5h8.4m-4.2 -4.2v8.4M193.3 447.5h8.4m-4.2 -4.2v8.4M252.3 462.5h8.4m-4.2 -4.2v8.4M258.3 463.5h8.4m-4.2 -4.2v8.4M266.3 461.5h8.4m-4.2 -4.2v8.4M236.3 462.5h8.4m-4.2 -4.2v8.4M229.3 463.5h8.4m-4.2 -4.2v8.4M223.3 464.5h8.4m-4.2 -4.2v8.4M256.3 469.5h8.4m-4.2 -4.2v8.4M212.3 470.5h8.4m-4.2 -4.2v8.4M262.3 467.5h8.4m-4.2 -4.2v8.4M200.3 470.5h8.4m-4.2 -4.2v8.4M214.3 468.5h8.4m-4.2 -4.2v8.4M252.3 468.5h8.4m-4.2 -4.2v8.4M251.3 469.5h8.4m-4.2 -4.2v8.4M202.3 470.5h8.4m-4.2 -4.2v8.4M205.3 468.5h8.4m-4.2 -4.2v8.4M197.3 470.5h8.4m-4.2 -4.2v8.4M255.3 469.5h8.4m-4.2 -4.2v8.4M208.3 470.5h8.4m-4.2 -4.2v8.4M214.3 469.5h8.4m-4.2 -4.2v8.4M264.3 469.5h8.4m-4.2 -4.2v8.4M229.3 470.5h8.4m-4.2 -4.2v8.4M261.3 470.5h8.4m-4.2 -4.2v8.4M205.3 469.5h8.4m-4.2 -4.2v8.4M233.3 469.5h8.4m-4.2 -4.2v8.4M222.3 469.5h8.4m-4.2 -4.2v8.4M229.3 469.5h8.4m-4.2 -4.2v8.4M236.3 471.5h8.4m-4.2 -4.2v8.4M242.3 472.5h8.4m-4.2 -4.2v8.4M227.3 469.5h8.4m-4.2 -4.2v8.4M250.3 471.5h8.4m-4.2 -4.2v8.4M209.3 469.5h8.4m-4.2 -4.2v8.4M232.3 468.5h8.4m-4.2 -4.2v8.4M212.3 469.5h8.4m-4.2 -4.2v8.4M240.3 469.5h8.4m-4.2 -4.2v8.4M213.3 469.5h8.4m-4.2 -4.2v8.4M211.3 470.5h8.4m-4.2 -4.2v8.4M227.3 468.5h8.4m-4.2 -4.2v8.4M265.3 470.5h8.4m-4.2 -4.2v8.4M251.3 470.5h8.4m-4.2 -4.2v8.4M258.3 470.5h8.4m-4.2 -4.2v8.4M219.3 469.5h8.4m-4.2 -4.2v8.4M199.3 470.5h8.4m-4.2 -4.2v8.4M229.3 470.5h8.4m-4.2 -4.2v8.4M230.3 469.5h8.4m-4.2 -4.2v8.4M251.3 470.5h8.4m-4.2 -4.2v8.4M237.3 470.5h8.4m-4.2 -4.2v8.4M212.3 470.5h8.4m-4.2 -4.2v8.4M213.3 469.5h8.4m-4.2 -4.2v8.4M264.3 469.5h8.4m-4.2 -4.2v8.4M206.3 469.5h8.4m-4.2 -4.2v8.4M259.3 470.5h8.4m-4.2 -4.2v8.4M235.3 469.5h8.4m-4.2 -4.2v8.4M246.3 468.5h8.4m-4.2 -4.2v8.4M258.3 472.5h8.4m-4.2 -4.2v8.4M229.3 470.5h8.4m-4.2 -4.2v8.4M197.3 470.5h8.4m-4.2 -4.2v8.4M214.3 469.5h8.4m-4.2 -4.2v8.4M220.3 470.5h8.4m-4.2 -4.2v8.4M246.3 469.5h8.4m-4.2 -4.2v8.4M201.3 471.5h8.4m-4.2 -4.2v8.4M225.3 471.5h8.4m-4.2 -4.2v8.4M216.3 470.5h8.4m-4.2 -4.2v8.4M232.3 470.5h8.4m-4.2 -4.2v8.4M232.3 471.5h8.4m-4.2 -4.2v8.4M261.3 471.5h8.4m-4.2 -4.2v8.4M235.3 468.5h8.4m-4.2 -4.2v8.4M265.3 470.5h8.4m-4.2 -4.2v8.4M242.3 469.5h8.4m-4.2 -4.2v8.4M256.3 470.5h8.4m-4.2 -4.2v8.4M262.3 471.5h8.4m-4.2 -4.2v8.4M213.3 469.5h8.4m-4.2 -4.2v8.4M201.3 471.5h8.4m-4.2 -4.2v8.4M238.3 471.5h8.4m-4.2 -4.2v8.4M210.3 470.5h8.4m-4.2 -4.2v8.4M259.3 468.5h8.4m-4.2 -4.2v8.4M227.3 470.5h8.4m-4.2 -4.2v8.4M202.3 469.5h8.4m-4.2 -4.2v8.4M249.3 469.5h8.4m-4.2 -4.2v8.4M214.3 470.5h8.4m-4.2 -4.2v8.4M249.3 470.5h8.4m-4.2 -4.2v8.4M209.3 470.5h8.4m-4.2 -4.2v8.4M235.3 467.5h8.4m-4.2 -4.2v8.4M257.3 470.5h8.4m-4.2 -4.2v8.4M263.3 471.5h8.4m-4.2 -4.2v8.4M243.3 468.5h8.4m-4.2 -4.2v8.4M262.3 471.5h8.4m-4.2 -4.2v8.4M234.3 470.5h8.4m-4.2 -4.2v8.4M213.3 470.5h8.4m-4.2 -4.2v8.4M266.3 470.5h8.4m-4.2 -4.2v8.4M235.3 470.5h8.4m-4.2 -4.2v8.4M219.3 469.5h8.4m-4.2 -4.2v8.4M256.3 469.5h8.4m-4.2 -4.2v8.4M249.3 470.5h8.4m-4.2 -4.2v8.4M265.3 471.5h8.4m-4.2 -4.2v8.4M240.3 469.5h8.4m-4.2 -4.2v8.4M263.3 470.5h8.4m-4.2 -4.2v8.4M218.3 469.5h8.4m-4.2 -4.2v8.4M230.3 469.5h8.4m-4.2 -4.2v8.4M246.3 470.5h8.4m-4.2 -4.2v8.4M214.3 469.5h8.4m-4.2 -4.2v8.4M203.3 469.5h8.4m-4.2 -4.2v8.4M237.3 469.5h8.4m-4.2 -4.2v8.4M227.3 469.5h8.4m-4.2 -4.2v8.4M231.3 468.5h8.4m-4.2 -4.2v8.4M254.3 467.5h8.4m-4.2 -4.2v8.4M251.3 470.5h8.4m-4.2 -4.2v8.4M210.3 469.5h8.4m-4.2 -4.2v8.4M252.3 469.5h8.4m-4.2 -4.2v8.4M209.3 470.5h8.4m-4.2 -4.2v8.4M237.3 468.5h8.4m-4.2 -4.2v8.4M248.3 468.5h8.4m-4.2 -4.2v8.4M237.3 470.5h8.4m-4.2 -4.2v8.4M258.3 470.5h8.4m-4.2 -4.2v8.4M247.3 471.5h8.4m-4.2 -4.2v8.4M226.3 470.5h8.4m-4.2 -4.2v8.4M237.3 469.5h8.4m-4.2 -4.2v8.4M222.3 470.5h8.4m-4.2 -4.2v8.4M229.3 471.5h8.4m-4.2 -4.2v8.4M243.3 470.5h8.4m-4.2 -4.2v8.4M228.3 469.5h8.4m-4.2 -4.2v8.4M250.3 470.5h8.4m-4.2 -4.2v8.4M203.3 470.5h8.4m-4.2 -4.2v8.4M198.3 469.5h8.4m-4.2 -4.2v8.4M226.3 471.5h8.4m-4.2 -4.2v8.4M243.3 468.5h8.4m-4.2 -4.2v8.4M243.3 467.5h8.4m-4.2 -4.2v8.4M254.3 469.5h8.4m-4.2 -4.2v8.4M262.3 468.5h8.4m-4.2 -4.2v8.4M217.3 470.5h8.4m-4.2 -4.2v8.4M226.3 470.5h8.4m-4.2 -4.2v8.4M208.3 469.5h8.4m-4.2 -4.2v8.4M210.3 469.5h8.4m-4.2 -4.2v8.4M239.3 470.5h8.4m-4.2 -4.2v8.4M246.3 468.5h8.4m-4.2 -4.2v8.4M206.3 469.5h8.4m-4.2 -4.2v8.4M228.3 468.5h8.4m-4.2 -4.2v8.4M263.3 469.5h8.4m-4.2 -4.2v8.4M200.3 469.5h8.4m-4.2 -4.2v8.4M234.3 470.5h8.4m-4.2 -4.2v8.4M202.3 470.5h8.4m-4.2 -4.2v8.4M231.3 470.5h8.4m-4.2 -4.2v8.4M231.3 466.5h8.4m-4.2 -4.2v8.4M208.3 470.5h8.4m-4.2 -4.2v8.4M242.3 470.5h8.4m-4.2 -4.2v8.4M227.3 469.5h8.4m-4.2 -4.2v8.4M224.3 469.5h8.4m-4.2 -4.2v8.4M265.3 469.5h8.4m-4.2 -4.2v8.4M267.3 472.5h8.4m-4.2 -4.2v8.4M225.3 470.5h8.4m-4.2 -4.2v8.4M239.3 470.5h8.4m-4.2 -4.2v8.4M226.3 470.5h8.4m-4.2 -4.2v8.4M211.3 470.5h8.4m-4.2 -4.2v8.4M234.3 471.5h8.4m-4.2 -4.2v8.4M239.3 468.5h8.4m-4.2 -4.2v8.4M237.3 469.5h8.4m-4.2 -4.2v8.4M201.3 470.5h8.4m-4.2 -4.2v8.4M253.3 468.5h8.4m-4.2 -4.2v8.4M223.3 469.5h8.4m-4.2 -4.2v8.4M247.3 470.5h8.4m-4.2 -4.2v8.4M267.3 470.5h8.4m-4.2 -4.2v8.4M241.3 468.5h8.4m-4.2 -4.2v8.4M225.3 470.5h8.4m-4.2 -4.2v8.4M224.3 471.5h8.4m-4.2 -4.2v8.4M200.3 470.5h8.4m-4.2 -4.2v8.4M250.3 468.5h8.4m-4.2 -4.2v8.4M202.3 469.5h8.4m-4.2 -4.2v8.4M243.3 472.5h8.4m-4.2 -4.2v8.4M245.3 470.5h8.4m-4.2 -4.2v8.4M243.3 470.5h8.4m-4.2 -4.2v8.4M227.3 469.5h8.4m-4.2 -4.2v8.4M251.3 468.5h8.4m-4.2 -4.2v8.4M240.3 470.5h8.4m-4.2 -4.2v8.4M246.3 471.5h8.4m-4.2 -4.2v8.4M245.3 469.5h8.4m-4.2 -4.2v8.4M228.3 470.5h8.4m-4.2 -4.2v8.4M205.3 469.5h8.4m-4.2 -4.2v8.4M234.3 470.5h8.4m-4.2 -4.2v8.4M213.3 471.5h8.4m-4.2 -4.2v8.4M206.3 469.5h8.4m-4.2 -4.2v8.4M208.3 468.5h8.4m-4.2 -4.2v8.4M256.3 470.5h8.4m-4.2 -4.2v8.4M227.3 470.5h8.4m-4.2 -4.2v8.4M265.3 469.5h8.4m-4.2 -4.2v8.4M264.3 469.5h8.4m-4.2 -4.2v8.4M236.3 468.5h8.4m-4.2 -4.2v8.4M234.3 471.5h8.4m-4.2 -4.2v8.4M249.3 471.5h8.4m-4.2 -4.2v8.4M262.3 473.5h8.4m-4.2 -4.2v8.4M229.3 469.5h8.4m-4.2 -4.2v8.4M252.3 471.5h8.4m-4.2 -4.2v8.4M255.3 469.5h8.4m-4.2 -4.2v8.4M211.3 469.5h8.4m-4.2 -4.2v8.4M221.3 468.5h8.4m-4.2 -4.2v8.4M261.3 471.5h8.4m-4.2 -4.2v8.4M230.3 469.5h8.4m-4.2 -4.2v8.4M203.3 469.5h8.4m-4.2 -4.2v8.4M265.3 468.5h8.4m-4.2 -4.2v8.4M264.3 469.5h8.4m-4.2 -4.2v8.4M265.3 468.5h8.4m-4.2 -4.2v8.4M229.3 468.5h8.4m-4.2 -4.2v8.4M200.3 469.5h8.4m-4.2 -4.2v8.4M233.3 469.5h8.4m-4.2 -4.2v8.4M235.3 469.5h8.4m-4.2 -4.2v8.4M216.3 470.5h8.4m-4.2 -4.2v8.4M223.3 469.5h8.4m-4.2 -4.2v8.4M216.3 469.5h8.4m-4.2 -4.2v8.4M239.3 469.5h8.4m-4.2 -4.2v8.4M246.3 469.5h8.4m-4.2 -4.2v8.4M264.3 465.5h8.4m-4.2 -4.2v8.4M226.3 469.5h8.4m-4.2 -4.2v8.4M218.3 469.5h8.4m-4.2 -4.2v8.4M235.3 468.5h8.4m-4.2 -4.2v8.4M211.3 470.5h8.4m-4.2 -4.2v8.4M218.3 469.5h8.4m-4.2 -4.2v8.4M202.3 469.5h8.4m-4.2 -4.2v8.4M265.3 470.5h8.4m-4.2 -4.2v8.4M236.3 471.5h8.4m-4.2 -4.2v8.4M204.3 469.5h8.4m-4.2 -4.2v8.4M221.3 469.5h8.4m-4.2 -4.2v8.4M241.3 468.5h8.4m-4.2 -4.2v8.4M250.3 469.5h8.4m-4.2 -4.2v8.4M227.3 469.5h8.4m-4.2 -4.2v8.4M208.3 469.5h8.4m-4.2 -4.2v8.4M196.3 470.5h8.4m-4.2 -4.2v8.4M229.3 469.5h8.4m-4.2 -4.2v8.4M246.3 468.5h8.4m-4.2 -4.2v8.4M207.3 470.5h8.4m-4.2 -4.2v8.4M249.3 468.5h8.4m-4.2 -4.2v8.4M231.3 469.5h8.4m-4.2 -4.2v8.4M201.3 470.5h8.4m-4.2 -4.2v8.4M247.3 470.5h8.4m-4.2 -4.2v8.4M211.3 470.5h8.4m-4.2 -4.2v8.4M258.3 470.5h8.4m-4.2 -4.2v8.4M213.3 469.5h8.4m-4.2 -4.2v8.4M235.3 469.5h8.4m-4.2 -4.2v8.4M231.3 470.5h8.4m-4.2 -4.2v8.4M229.3 469.5h8.4m-4.2 -4.2v8.4M245.3 468.5h8.4m-4.2 -4.2v8.4" stroke="#00bfbf" stroke-width="0.74" fill="none"/>
<path d="M259.0 257.3l8.4 8.4m-8.4 0l8.4 -8.4M262.8 260.4l8.4 8.4m-8.4 0l8.4 -8.4M262.0 271.9l8.4 8.4m-8.4 0l8.4 -8.4M242.8 287.2l8.4 8.4m-8.4 0l8.4 -8.4M265.9 284.2l8.4 8.4m-8.4 0l8.4 -8.4M260.9 286.1l8.4 8.4m-8.4 0l8.4 -8.4M259.0 294.9l8.4 8.4m-8.4 0l8.4 -8.4M265.9 296.8l8.4 8.4m-8.4 0l8.4 -8.4M260.1 297.6l8.4 8.4m-8.4 0l8.4 -8.4M262.8 291.8l8.4 8.4m-8.4 0l8.4 -8.4M254.4 326.4l8.4 8.4m-8.4 0l8.4 -8.4M226.4 339.8l8.4 8.4m-8.4 0l8.4 -8.4M207.2 349.4l8.4 8.4m-8.4 0l8.4 -8.4M260.9 339.8l8.4 8.4m-8.4 0l8.4 -8.4M265.9 346.3l8.4 8.4m-8.4 0l8.4 -8.4M263.9 349.4l8.4 8.4m-8.4 0l8.4 -8.4M260.9 355.1l8.4 8.4m-8.4 0l8.4 -8.4M267.8 333.3l8.4 8.4m-8.4 0l8.4 -8.4M252.4 369.3l8.4 8.4m-8.4 0l8.4 -8.4M249.4 372.4l8.4 8.4m-8.4 0l8.4 -8.4M226.4 380.1l8.4 8.4m-8.4 0l8.4 -8.4M231.0 379.3l8.4 8.4m-8.4 0l8.4 -8.4M242.8 382.0l8.4 8.4m-8.4 0l8.4 -8.4M267.8 380.8l8.4 8.4m-8.4 0l8.4 -8.4M262.8 389.6l8.4 8.4m-8.4 0l8.4 -8.4M266.6 393.5l8.4 8.4m-8.4 0l8.4 -8.4M264.7 387.0l8.4 8.4m-8.4 0l8.4 -8.4M245.5 403.1l8.4 8.4m-8.4 0l8.4 -8.4M226.4 411.9l8.4 8.4m-8.4 0l8.4 -8.4M248.6 418.4l8.4 8.4m-8.4 0l8.4 -8.4M233.3 438.7l8.4 8.4m-8.4 0l8.4 -8.4M189.9 439.5l8.4 8.4m-8.4 0l8.4 -8.4M262.8 441.4l8.4 8.4m-8.4 0l8.4 -8.4M268.5 443.3l8.4 8.4m-8.4 0l8.4 -8.4M266.6 446.0l8.4 8.4m-8.4 0l8.4 -8.4M193.7 454.9l8.4 8.4m-8.4 0l8.4 -8.4M196.8 457.5l8.4 8.4m-8.4 0l8.4 -8.4M223.9 461.1l8.4 8.4m-8.4 0l8.4 -8.4M213.1 460.6l8.4 8.4m-8.4 0l8.4 -8.4M256.1 466.7l8.4 8.4m-8.4 0l8.4 -8.4M217.7 461.8l8.4 8.4m-8.4 0l8.4 -8.4M204.3 457.8l8.4 8.4m-8.4 0l8.4 -8.4M240.9 460.6l8.4 8.4m-8.4 0l8.4 -8.4M225.5 462.8l8.4 8.4m-8.4 0l8.4 -8.4M232.7 461.0l8.4 8.4m-8.4 0l8.4 -8.4M222.5 458.9l8.4 8.4m-8.4 0l8.4 -8.4M251.7 459.4l8.4 8.4m-8.4 0l8.4 -8.4M210.1 457.7l8.4 8.4m-8.4 0l8.4 -8.4M209.5 464.2l8.4 8.4m-8.4 0l8.4 -8.4M229.2 459.0l8.4 8.4m-8.4 0l8.4 -8.4M270.6 457.2l8.4 8.4m-8.4 0l8.4 -8.4M239.1 468.3l8.4 8.4m-8.4 0l8.4 -8.4M271.1 461.5l8.4 8.4m-8.4 0l8.4 -8.4M240.9 459.7l8.4 8.4m-8.4 0l8.4 -8.4M244.7 458.6l8.4 8.4m-8.4 0l8.4 -8.4M250.7 461.4l8.4 8.4m-8.4 0l8.4 -8.4M244.7 468.6l8.4 8.4m-8.4 0l8.4 -8.4M239.0 461.4l8.4 8.4m-8.4 0l8.4 -8.4M208.7 455.0l8.4 8.4m-8.4 0l8.4 -8.4M250.4 456.4l8.4 8.4m-8.4 0l8.4 -8.4M258.9 457.7l8.4 8.4m-8.4 0l8.4 -8.4M218.8 457.1l8.4 8.4m-8.4 0l8.4 -8.4M234.5 455.7l8.4 8.4m-8.4 0l8.4 -8.4M236.1 461.8l8.4 8.4m-8.4 0l8.4 -8.4M211.6 463.4l8.4 8.4m-8.4 0l8.4 -8.4M258.0 464.9l8.4 8.4m-8.4 0l8.4 -8.4M241.9 456.7l8.4 8.4m-8.4 0l8.4 -8.4M252.5 464.5l8.4 8.4m-8.4 0l8.4 -8.4M248.1 458.4l8.4 8.4m-8.4 0l8.4 -8.4M269.9 462.4l8.4 8.4m-8.4 0l8.4 -8.4M267.3 455.2l8.4 8.4m-8.4 0l8.4 -8.4M230.3 461.6l8.4 8.4m-8.4 0l8.4 -8.4M230.0 460.0l8.4 8.4m-8.4 0l8.4 -8.4M238.4 465.6l8.4 8.4m-8.4 0l8.4 -8.4M209.6 459.6l8.4 8.4m-8.4 0l8.4 -8.4M183.8 468.3l8.4 8.4m-8.4 0l8.4 -8.4M190.8 439.8l8.4 8.4m-8.4 0l8.4 -8.4M192.8 442.8l8.4 8.4m-8.4 0l8.4 -8.4M251.8 457.8l8.4 8.4m-8.4 0l8.4 -8.4M257.8 458.8l8.4 8.4m-8.4 0l8.4 -8.4M265.8 456.8l8.4 8.4m-8.4 0l8.4 -8.4M235.8 457.8l8.4 8.4m-8.4 0l8.4 -8.4M228.8 458.8l8.4 8.4m-8.4 0l8.4 -8.4M222.8 459.8l8.4 8.4m-8.4 0l8.4 -8.4" stroke="#0000ff" stroke-width="0.75" fill="none"/>
<g fill="#bf00bf" stroke="#000" stroke-width="0.7">
<circle cx="260.4" cy="469.8" r="4.2"/>
<circle cx="216.3" cy="470.6" r="4.2"/>
<circle cx="266.7" cy="467.3" r="4.2"/>
<circle cx="204.7" cy="470.5" r="4.2"/>
<circle cx="218.4" cy="468.8" r="4.2"/>
<circle cx="256.3" cy="468.9" r="4.2"/>
<circle cx="255.8" cy="469.5" r="4.2"/>
<circle cx="206.3" cy="470.5" r="4.2"/>
<circle cx="209.2" cy="469.0" r="4.2"/>
<circle cx="201.3" cy="470.9" r="4.2"/>
<circle cx="259.4" cy="469.8" r="4.2"/>
<circle cx="212.9" cy="470.2" r="4.2"/>
<circle cx="218.8" cy="469.7" r="4.2"/>
<circle cx="268.0" cy="469.8" r="4.2"/>
<circle cx="233.5" cy="470.1" r="4.2"/>
<circle cx="265.0" cy="470.8" r="4.2"/>
<circle cx="209.1" cy="469.5" r="4.2"/>
<circle cx="237.9" cy="469.2" r="4.2"/>
<circle cx="226.7" cy="469.8" r="4.2"/>
<circle cx="233.2" cy="469.1" r="4.2"/>
<circle cx="240.9" cy="471.0" r="4.2"/>
<circle cx="246.1" cy="472.9" r="4.2"/>
<circle cx="231.5" cy="469.9" r="4.2"/>
<circle cx="254.2" cy="471.0" r="4.2"/>
<circle cx="213.7" cy="469.8" r="4.2"/>
<circle cx="236.8" cy="468.1" r="4.2"/>
<circle cx="216.5" cy="469.7" r="4.2"/>
<circle cx="244.9" cy="469.5" r="4.2"/>
<circle cx="217.2" cy="469.4" r="4.2"/>
<circle cx="215.4" cy="470.4" r="4.2"/>
<circle cx="231.2" cy="468.7" r="4.2"/>
<circle cx="269.8" cy="470.9" r="4.2"/>
<circle cx="255.8" cy="470.2" r="4.2"/>
<circle cx="262.9" cy="470.4" r="4.2"/>
<circle cx="223.3" cy="469.8" r="4.2"/>
<circle cx="203.2" cy="470.1" r="4.2"/>
<circle cx="233.2" cy="470.6" r="4.2"/>
<circle cx="234.6" cy="469.9" r="4.2"/>
<circle cx="255.9" cy="470.1" r="4.2"/>
<circle cx="241.9" cy="470.1" r="4.2"/>
<circle cx="216.5" cy="470.3" r="4.2"/>
<circle cx="217.4" cy="469.1" r="4.2"/>
<circle cx="268.1" cy="469.3" r="4.2"/>
<circle cx="210.2" cy="469.4" r="4.2"/>
<circle cx="263.2" cy="470.3" r="4.2"/>
<circle cx="239.5" cy="469.6" r="4.2"/>
<circle cx="250.1" cy="468.8" r="4.2"/>
<circle cx="262.2" cy="472.5" r="4.2"/>
<circle cx="233.2" cy="470.7" r="4.2"/>
<circle cx="201.6" cy="470.8" r="4.2"/>
<circle cx="218.3" cy="469.4" r="4.2"/>
<circle cx="224.9" cy="470.5" r="4.2"/>
<circle cx="250.6" cy="469.5" r="4.2"/>
<circle cx="205.8" cy="471.1" r="4.2"/>
<circle cx="229.4" cy="471.6" r="4.2"/>
<circle cx="220.9" cy="470.9" r="4.2"/>
<circle cx="236.4" cy="470.6" r="4.2"/>
<circle cx="237.0" cy="471.1" r="4.2"/>
<circle cx="266.0" cy="471.8" r="4.2"/>
<circle cx="239.1" cy="468.1" r="4.2"/>
<circle cx="269.5" cy="470.8" r="4.2"/>
<circle cx="246.9" cy="469.5" r="4.2"/>
<circle cx="260.5" cy="470.7" r="4.2"/>
<circle cx="266.8" cy="471.1" r="4.2"/>
<circle cx="217.8" cy="469.4" r="4.2"/>
<circle cx="205.6" cy="471.0" r="4.2"/>
<circle cx="242.6" cy="471.1" r="4.2"/>
<circle cx="214.4" cy="470.5" r="4.2"/>
<circle cx="263.4" cy="468.8" r="4.2"/>
<circle cx="231.2" cy="470.5" r="4.2"/>
<circle cx="206.5" cy="469.3" r="4.2"/>
<circle cx="253.2" cy="469.4" r="4.2"/>
<circle cx="218.8" cy="470.8" r="4.2"/>
<circle cx="253.1" cy="471.0" r="4.2"/>
<circle cx="213.1" cy="470.3" r="4.2"/>
<circle cx="239.1" cy="467.9" r="4.2"/>
<circle cx="261.3" cy="470.4" r="4.2"/>
<circle cx="267.7" cy="471.5" r="4.2"/>
<circle cx="247.0" cy="468.3" r="4.2"/>
<circle cx="266.4" cy="471.2" r="4.2"/>
<circle cx="238.9" cy="470.0" r="4.2"/>
<circle cx="217.6" cy="470.2" r="4.2"/>
<circle cx="270.4" cy="470.5" r="4.2"/>
<circle cx="239.2" cy="470.2" r="4.2"/>
<circle cx="223.7" cy="469.7" r="4.2"/>
<circle cx="260.6" cy="469.5" r="4.2"/>
<circle cx="253.7" cy="470.5" r="4.2"/>
<circle cx="269.1" cy="471.1" r="4.2"/>
<circle cx="244.7" cy="469.9" r="4.2"/>
<circle cx="267.5" cy="470.0" r="4.2"/>
<circle cx="222.6" cy="469.5" r="4.2"/>
<circle cx="234.1" cy="469.0" r="4.2"/>
<circle cx="250.1" cy="470.6" r="4.2"/>
<circle cx="218.4" cy="469.6" r="4.2"/>
<circle cx="207.9" cy="469.4" r="4.2"/>
<circle cx="241.3" cy="469.6" r="4.2"/>
<circle cx="231.9" cy="469.2" r="4.2"/>
<circle cx="235.1" cy="468.9" r="4.2"/>
<circle cx="258.9" cy="467.1" r="4.2"/>
<circle cx="255.6" cy="470.5" r="4.2"/>
<circle cx="214.3" cy="469.8" r="4.2"/>
<circle cx="256.6" cy="469.3" r="4.2"/>
<circle cx="213.1" cy="470.5" r="4.2"/>
<circle cx="241.3" cy="468.3" r="4.2"/>
<circle cx="252.1" cy="468.1" r="4.2"/>
<circle cx="241.8" cy="470.9" r="4.2"/>
<circle cx="262.2" cy="470.9" r="4.2"/>
<circle cx="251.3" cy="472.0" r="4.2"/>
<circle cx="230.7" cy="470.0" r="4.2"/>
<circle cx="241.6" cy="469.9" r="4.2"/>
<circle cx="226.3" cy="470.4" r="4.2"/>
<circle cx="233.3" cy="471.7" r="4.2"/>
<circle cx="248.0" cy="470.1" r="4.2"/>
<circle cx="232.4" cy="469.5" r="4.2"/>
<circle cx="254.4" cy="470.3" r="4.2"/>
<circle cx="207.3" cy="470.4" r="4.2"/>
<circle cx="202.9" cy="469.3" r="4.2"/>
<circle cx="230.4" cy="471.4" r="4.2"/>
<circle cx="247.8" cy="468.0" r="4.2"/>
<circle cx="247.7" cy="467.4" r="4.2"/>
<circle cx="258.2" cy="469.0" r="4.2"/>
<circle cx="266.5" cy="468.6" r="4.2"/>
<circle cx="221.3" cy="471.0" r="4.2"/>
<circle cx="230.3" cy="470.3" r="4.2"/>
<circle cx="212.4" cy="469.6" r="4.2"/>
<circle cx="214.6" cy="469.8" r="4.2"/>
<circle cx="243.0" cy="470.6" r="4.2"/>
<circle cx="250.4" cy="468.7" r="4.2"/>
<circle cx="210.1" cy="469.1" r="4.2"/>
<circle cx="232.1" cy="468.3" r="4.2"/>
<circle cx="267.0" cy="469.2" r="4.2"/>
<circle cx="204.3" cy="470.0" r="4.2"/>
<circle cx="238.1" cy="470.2" r="4.2"/>
<circle cx="206.9" cy="470.9" r="4.2"/>
<circle cx="235.3" cy="470.1" r="4.2"/>
<circle cx="235.1" cy="466.6" r="4.2"/>
<circle cx="212.0" cy="470.4" r="4.2"/>
<circle cx="246.2" cy="470.1" r="4.2"/>
<circle cx="231.6" cy="469.2" r="4.2"/>
<circle cx="228.8" cy="469.2" r="4.2"/>
<circle cx="269.1" cy="469.0" r="4.2"/>
<circle cx="271.4" cy="472.6" r="4.2"/>
<circle cx="229.4" cy="470.7" r="4.2"/>
<circle cx="243.2" cy="470.5" r="4.2"/>
<circle cx="230.5" cy="470.5" r="4.2"/>
<circle cx="215.2" cy="470.6" r="4.2"/>
<circle cx="238.0" cy="471.2" r="4.2"/>
<circle cx="243.2" cy="468.8" r="4.2"/>
<circle cx="241.2" cy="469.4" r="4.2"/>
<circle cx="205.2" cy="470.5" r="4.2"/>
<circle cx="257.9" cy="468.3" r="4.2"/>
<circle cx="227.6" cy="469.4" r="4.2"/>
<circle cx="251.7" cy="470.1" r="4.2"/>
<circle cx="271.4" cy="470.8" r="4.2"/>
<circle cx="245.8" cy="468.8" r="4.2"/>
<circle cx="229.5" cy="470.7" r="4.2"/>
<circle cx="228.7" cy="471.3" r="4.2"/>
<circle cx="204.4" cy="470.1" r="4.2"/>
<circle cx="255.0" cy="468.7" r="4.2"/>
<circle cx="206.6" cy="470.0" r="4.2"/>
<circle cx="247.5" cy="472.0" r="4.2"/>
<circle cx="249.9" cy="470.4" r="4.2"/>
<circle cx="247.1" cy="470.1" r="4.2"/>
<circle cx="231.1" cy="469.9" r="4.2"/>
<circle cx="255.1" cy="468.4" r="4.2"/>
<circle cx="244.8" cy="470.8" r="4.2"/>
<circle cx="250.2" cy="471.9" r="4.2"/>
<circle cx="249.8" cy="469.5" r="4.2"/>
<circle cx="232.7" cy="470.2" r="4.2"/>
<circle cx="209.5" cy="469.1" r="4.2"/>
<circle cx="238.7" cy="470.5" r="4.2"/>
<circle cx="217.6" cy="471.1" r="4.2"/>
<circle cx="210.2" cy="469.6" r="4.2"/>
<circle cx="212.6" cy="468.9" r="4.2"/>
<circle cx="260.7" cy="470.7" r="4.2"/>
<circle cx="231.4" cy="470.7" r="4.2"/>
<circle cx="269.2" cy="469.6" r="4.2"/>
<circle cx="269.0" cy="469.5" r="4.2"/>
<circle cx="240.6" cy="468.5" r="4.2"/>
<circle cx="238.1" cy="471.2" r="4.2"/>
<circle cx="253.9" cy="471.2" r="4.2"/>
<circle cx="266.2" cy="473.0" r="4.2"/>
<circle cx="233.3" cy="469.7" r="4.2"/>
<circle cx="256.0" cy="471.5" r="4.2"/>
<circle cx="259.2" cy="469.6" r="4.2"/>
<circle cx="215.5" cy="469.7" r="4.2"/>
<circle cx="225.1" cy="468.1" r="4.2"/>
<circle cx="265.9" cy="471.6" r="4.2"/>
<circle cx="234.5" cy="469.2" r="4.2"/>
<circle cx="208.0" cy="469.4" r="4.2"/>
<circle cx="269.4" cy="468.8" r="4.2"/>
<circle cx="268.3" cy="469.3" r="4.2"/>
<circle cx="269.9" cy="468.6" r="4.2"/>
<circle cx="233.6" cy="468.7" r="4.2"/>
<circle cx="204.7" cy="470.0" r="4.2"/>
<circle cx="237.9" cy="469.8" r="4.2"/>
<circle cx="239.8" cy="469.7" r="4.2"/>
<circle cx="220.3" cy="470.3" r="4.2"/>
<circle cx="227.6" cy="469.7" r="4.2"/>
<circle cx="220.0" cy="469.1" r="4.2"/>
<circle cx="244.0" cy="469.0" r="4.2"/>
<circle cx="250.3" cy="469.2" r="4.2"/>
<circle cx="268.4" cy="465.3" r="4.2"/>
<circle cx="230.3" cy="469.2" r="4.2"/>
<circle cx="222.8" cy="469.6" r="4.2"/>
<circle cx="239.3" cy="468.7" r="4.2"/>
<circle cx="216.0" cy="470.1" r="4.2"/>
<circle cx="222.4" cy="469.2" r="4.2"/>
<circle cx="206.9" cy="469.8" r="4.2"/>
<circle cx="269.2" cy="470.8" r="4.2"/>
<circle cx="240.4" cy="471.1" r="4.2"/>
<circle cx="208.9" cy="469.9" r="4.2"/>
<circle cx="225.9" cy="469.8" r="4.2"/>
<circle cx="245.4" cy="468.6" r="4.2"/>
<circle cx="254.4" cy="469.8" r="4.2"/>
<circle cx="231.3" cy="469.4" r="4.2"/>
<circle cx="212.1" cy="469.3" r="4.2"/>
<circle cx="200.8" cy="470.5" r="4.2"/>
<circle cx="233.1" cy="469.5" r="4.2"/>
<circle cx="250.4" cy="468.8" r="4.2"/>
<circle cx="211.5" cy="470.6" r="4.2"/>
<circle cx="253.4" cy="468.6" r="4.2"/>
<circle cx="235.0" cy="469.7" r="4.2"/>
<circle cx="205.7" cy="470.1" r="4.2"/>
<circle cx="251.3" cy="470.3" r="4.2"/>
<circle cx="215.6" cy="470.3" r="4.2"/>
<circle cx="262.7" cy="470.6" r="4.2"/>
<circle cx="217.7" cy="469.2" r="4.2"/>
<circle cx="239.5" cy="469.1" r="4.2"/>
<circle cx="235.6" cy="470.2" r="4.2"/>
<circle cx="233.8" cy="469.3" r="4.2"/>
<circle cx="249.4" cy="468.7" r="4.2"/>
</g>
<path d="M100.5 471.6H382.5" stroke="#0000ff" stroke-width="1.4" stroke-dasharray="8.33 8.33" fill="none"/>
<path d="M100.5 470.2H382.5" stroke="#ff0000" stroke-width="1.4" stroke-dasharray="8.33 8.33" fill="none"/>
<path d="M100.5 466.3H382.5" stroke="#0000ff" stroke-width="1.4" stroke-dasharray="4.17 6.94 1.39 6.94" fill="none"/>
<path d="M100.5 473.4H382.5" stroke="#0000ff" stroke-width="1.4" stroke-dasharray="4.17 6.94 1.39 6.94" fill="none"/>
</g>
<path d="M100.5 540.2v-5.5M138.5 540.2v-5.5M175.5 540.2v-5.5M213.5 540.2v-5.5M250.5 540.2v-5.5M288.5 540.2v-5.5M325.5 540.2v-5.5M363.5 540.2v-5.5M114.5 60.4v5.5M152.5 60.4v5.5M189.5 60.4v5.5M227.5 60.4v5.5M265.5 60.4v5.5M302.5 60.4v5.5M340.5 60.4v5.5M377.5 60.4v5.5M100.5 540.5h5.5M382.5 540.5h-5.5M100.5 420.5h5.5M382.5 420.5h-5.5M100.5 300.5h5.5M382.5 300.5h-5.5M100.5 180.5h5.5M382.5 180.5h-5.5M100.5 60.5h5.5M382.5 60.5h-5.5" stroke="#000" stroke-width="0.7" fill="none"/>
<rect x="100.5" y="60.4" width="282" height="479.8" fill="none" stroke="#000" stroke-width="1.4"/>
<g fill="#0000ff" stroke="#000" stroke-width="1.4">
<path d="M438.18 397.1V454.1"/>
<rect x="438.18" y="340.1" width="2.25" height="57"/>
<rect x="438.18" y="283.2" width="213.06" height="56.9"/>
<rect x="438.18" y="226.1" width="43.29" height="57.1"/>
<rect x="438.18" y="169" width="17.36" height="57.1"/>
<rect x="438.18" y="112" width="1.13" height="57"/>
</g>
<path d="M438.18 314.3H695.6" stroke="#000" stroke-width="1.4" stroke-dasharray="8.33 8.33" fill="none"/>
<path d="M438.5 540.2v-5.5M438.5 60.4v5.5M495.5 540.2v-5.5M495.5 60.4v5.5M551.5 540.2v-5.5M551.5 60.4v5.5M607.5 540.2v-5.5M607.5 60.4v5.5M664.5 540.2v-5.5M664.5 60.4v5.5M720.5 540.2v-5.5M720.5 60.4v5.5M438.5 540.5h5.5M720.5 540.5h-5.5M438.5 487.5h5.5M720.5 487.5h-5.5M438.5 433.5h5.5M720.5 433.5h-5.5M438.5 380.5h5.5M720.5 380.5h-5.5M438.5 327.5h5.5M720.5 327.5h-5.5M438.5 273.5h5.5M720.5 273.5h-5.5M438.5 220.5h5.5M720.5 220.5h-5.5M438.5 167.5h5.5M720.5 167.5h-5.5M438.5 113.5h5.5M720.5 113.5h-5.5M438.5 60.5h5.5M720.5 60.5h-5.5" stroke="#000" stroke-width="0.7" fill="none"/>
<rect x="438.5" y="60.4" width="282" height="479.8" fill="none" stroke="#000" stroke-width="1.4"/>
<rect x="27.7" y="70.5" width="344.7" height="179.9" fill="#fff" stroke="#000" stroke-width="1.4"/>
<path d="M37 86.2h8.4m-4.2 -4.2v8.4" stroke="#00bfbf" stroke-width="0.8" fill="none"/>
<path d="M37 111l8.4 8.4m-8.4 0l8.4 -8.4" stroke="#0000ff" stroke-width="0.8" fill="none"/>
<circle cx="41.2" cy="144.2" r="4.1" fill="#bf00bf" stroke="#000" stroke-width="0.7"/>
<path d="M65.3 86.2h8.4m-4.2 -4.2v8.4" stroke="#00bfbf" stroke-width="0.8" fill="none"/>
<path d="M65.3 111l8.4 8.4m-8.4 0l8.4 -8.4" stroke="#0000ff" stroke-width="0.8" fill="none"/>
<circle cx="69.5" cy="144.2" r="4.1" fill="#bf00bf" stroke="#000" stroke-width="0.7"/>
<path d="M41.2 173.2H69.5" stroke="#0000ff" stroke-width="1.4" stroke-dasharray="8.33 8.33"/>
<path d="M41.2 202.2H69.5" stroke="#ff0000" stroke-width="1.4" stroke-dasharray="8.33 8.33"/>
<path d="M41.2 231.2H69.5" stroke="#0000ff" stroke-width="1.4" stroke-dasharray="4.17 6.94 1.39 6.94"/>
<g opacity="0.999" fill="#000">
<text x="117.08" y="29.00" font-size="21.10" textLength="217.92" lengthAdjust="spacingAndGlyphs">FWHM vs magnitudes</text>
<text x="480.34" y="53.00" font-size="21.10" textLength="199.50" lengthAdjust="spacingAndGlyphs">histogram of FWHM</text>
<text x="91.03" y="92.40" font-size="21.10" textLength="103.29" lengthAdjust="spacingAndGlyphs">all sample</text>
<text x="91.38" y="121.40" font-size="21.10" textLength="241.84" lengthAdjust="spacingAndGlyphs">sample for rough FWHM</text>
<text x="90.55" y="150.40" font-size="21.10" textLength="270.24" lengthAdjust="spacingAndGlyphs">best-effort PSF-like sample</text>
<text x="90.51" y="179.40" font-size="21.10" textLength="217.52" lengthAdjust="spacingAndGlyphs">resultant FWHM: 2.85</text>
<text x="90.53" y="208.40" font-size="21.10" textLength="274.76" lengthAdjust="spacingAndGlyphs">median FHWM of sequence</text>
<text x="91.37" y="237.40" font-size="21.10" textLength="125.04" lengthAdjust="spacingAndGlyphs">sigma range</text>
<text x="103.98" y="49.80" font-size="17.58" textLength="19.71" lengthAdjust="spacingAndGlyphs">14</text>
<text x="141.54" y="49.80" font-size="17.58" textLength="19.87" lengthAdjust="spacingAndGlyphs">16</text>
<text x="179.13" y="49.80" font-size="17.58" textLength="19.76" lengthAdjust="spacingAndGlyphs">18</text>
<text x="216.55" y="49.80" font-size="17.58" textLength="19.88" lengthAdjust="spacingAndGlyphs">20</text>
<text x="254.14" y="49.80" font-size="17.58" textLength="19.48" lengthAdjust="spacingAndGlyphs">22</text>
<text x="291.70" y="49.80" font-size="17.58" textLength="19.87" lengthAdjust="spacingAndGlyphs">24</text>
<text x="329.27" y="49.80" font-size="17.58" textLength="20.03" lengthAdjust="spacingAndGlyphs">26</text>
<text x="366.85" y="49.80" font-size="17.58" textLength="19.93" lengthAdjust="spacingAndGlyphs">28</text>
<text x="83.11" y="559.80" font-size="17.58" textLength="33.44" lengthAdjust="spacingAndGlyphs">−20</text>
<text x="120.68" y="559.80" font-size="17.58" textLength="33.50" lengthAdjust="spacingAndGlyphs">−18</text>
<text x="158.25" y="559.80" font-size="17.58" textLength="33.61" lengthAdjust="spacingAndGlyphs">−16</text>
<text x="195.84" y="559.80" font-size="17.58" textLength="33.42" lengthAdjust="spacingAndGlyphs">−14</text>
<text x="233.42" y="559.80" font-size="17.58" textLength="33.08" lengthAdjust="spacingAndGlyphs">−12</text>
<text x="270.99" y="559.80" font-size="17.58" textLength="33.44" lengthAdjust="spacingAndGlyphs">−10</text>
<text x="313.85" y="559.80" font-size="17.58" textLength="22.93" lengthAdjust="spacingAndGlyphs">−8</text>
<text x="351.42" y="559.80" font-size="17.58" textLength="23.04" lengthAdjust="spacingAndGlyphs">−6</text>
<text x="85.56" y="544.80" font-size="17.58" textLength="9.07" lengthAdjust="spacingAndGlyphs">0</text>
<text x="85.77" y="424.80" font-size="17.58" textLength="8.52" lengthAdjust="spacingAndGlyphs">5</text>
<text x="74.97" y="304.80" font-size="17.58" textLength="19.71" lengthAdjust="spacingAndGlyphs">10</text>
<text x="74.81" y="64.80" font-size="17.58" textLength="19.88" lengthAdjust="spacingAndGlyphs">20</text>
<text x="95.51" y="583.30" font-size="17.58" textLength="293.20" lengthAdjust="spacingAndGlyphs">magnitude (bottom:isnt / top:calib)</text>
<text transform="translate(64.00 346.00) rotate(-90)" x="-1.48" y="0" font-size="17.58" textLength="96.20" lengthAdjust="spacingAndGlyphs">FWHM (pix)</text>
<text x="407.50" y="544.80" font-size="17.58" textLength="25.20" lengthAdjust="spacingAndGlyphs">2.0</text>
<text x="407.52" y="491.47" font-size="17.58" textLength="24.81" lengthAdjust="spacingAndGlyphs">2.2</text>
<text x="407.50" y="438.13" font-size="17.58" textLength="25.19" lengthAdjust="spacingAndGlyphs">2.4</text>
<text x="407.50" y="384.80" font-size="17.58" textLength="25.35" lengthAdjust="spacingAndGlyphs">2.6</text>
<text x="407.50" y="331.47" font-size="17.58" textLength="25.25" lengthAdjust="spacingAndGlyphs">2.8</text>
<text x="407.78" y="278.13" font-size="17.58" textLength="24.91" lengthAdjust="spacingAndGlyphs">3.0</text>
<text x="407.79" y="224.80" font-size="17.58" textLength="24.53" lengthAdjust="spacingAndGlyphs">3.2</text>
<text x="407.78" y="171.47" font-size="17.58" textLength="24.91" lengthAdjust="spacingAndGlyphs">3.4</text>
<text x="407.78" y="118.13" font-size="17.58" textLength="25.07" lengthAdjust="spacingAndGlyphs">3.6</text>
<text x="407.78" y="64.80" font-size="17.58" textLength="24.96" lengthAdjust="spacingAndGlyphs">3.8</text>
<text x="433.24" y="559.80" font-size="17.58" textLength="9.07" lengthAdjust="spacingAndGlyphs">0</text>
<text x="484.42" y="559.80" font-size="17.58" textLength="19.61" lengthAdjust="spacingAndGlyphs">50</text>
<text x="535.35" y="559.80" font-size="17.58" textLength="30.37" lengthAdjust="spacingAndGlyphs">100</text>
<text x="591.71" y="559.80" font-size="17.58" textLength="30.37" lengthAdjust="spacingAndGlyphs">150</text>
<text x="647.93" y="559.80" font-size="17.58" textLength="30.52" lengthAdjust="spacingAndGlyphs">200</text>
<text x="704.29" y="559.80" font-size="17.58" textLength="30.52" lengthAdjust="spacingAndGlyphs">250</text>
<text x="500.74" y="583.00" font-size="17.58" textLength="156.74" lengthAdjust="spacingAndGlyphs">number of sources</text>
<text transform="translate(396.30 451.30) rotate(-90)" x="-1.49" y="0" font-size="17.58" textLength="305.45" lengthAdjust="spacingAndGlyphs">FWHM of best-effort PSF-like sources</text>
</g>
</svg>
</body></html>
